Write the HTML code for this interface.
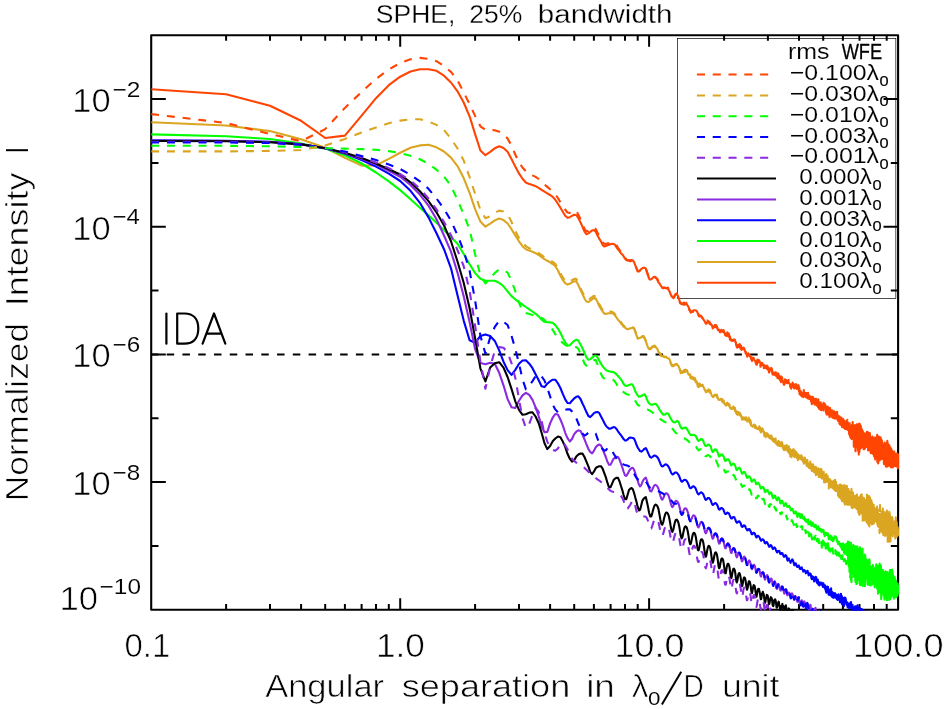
<!DOCTYPE html>
<html><head><meta charset="utf-8"><title>SPHE, 25% bandwidth</title>
<style>html,body{margin:0;padding:0;background:#fff;}svg{display:block;}</style>
</head><body>
<svg width="945" height="709" viewBox="0 0 945 709">
<rect width="945" height="709" fill="#fff"/>
<rect x="677.5" y="38.4" width="218.35000000000002" height="259.95000000000005" fill="#fff" stroke="#000" stroke-width="0.7"/>
<g opacity="0.999">
<text x="788.05" y="59.2" font-size="21.5" textLength="41.52" lengthAdjust="spacingAndGlyphs" font-family="Liberation Sans, sans-serif" fill="#000" stroke="#fff" stroke-width="0.12">rms</text>
<text x="841.65" y="59.2" font-size="21.5" textLength="40.56" lengthAdjust="spacingAndGlyphs" font-family="Liberation Sans, sans-serif" fill="#000" stroke="#000" stroke-width="0.3">WFE</text>
<line x1="696.9" y1="74.6" x2="768.5" y2="74.6" stroke="#FF4500" stroke-width="2" stroke-dasharray="8.1 7.7"/>
<text x="789.82" y="80.1" font-size="22.3" textLength="89.23" lengthAdjust="spacingAndGlyphs" font-family="Liberation Sans, sans-serif" fill="#000" stroke="#fff" stroke-width="0.12">−0.100λ</text>
<text x="879.54" y="85.5" font-size="14.6" textLength="9.13" lengthAdjust="spacingAndGlyphs" font-family="Liberation Sans, sans-serif" fill="#000" stroke="#000" stroke-width="0.2">0</text>
<line x1="696.9" y1="95.4" x2="768.5" y2="95.4" stroke="#DAA520" stroke-width="2" stroke-dasharray="8.1 7.7"/>
<text x="789.82" y="100.9" font-size="22.3" textLength="89.23" lengthAdjust="spacingAndGlyphs" font-family="Liberation Sans, sans-serif" fill="#000" stroke="#fff" stroke-width="0.12">−0.030λ</text>
<text x="879.54" y="106.3" font-size="14.6" textLength="9.13" lengthAdjust="spacingAndGlyphs" font-family="Liberation Sans, sans-serif" fill="#000" stroke="#000" stroke-width="0.2">0</text>
<line x1="696.9" y1="116.2" x2="768.5" y2="116.2" stroke="#00FF00" stroke-width="2" stroke-dasharray="8.1 7.7"/>
<text x="789.82" y="121.7" font-size="22.3" textLength="89.23" lengthAdjust="spacingAndGlyphs" font-family="Liberation Sans, sans-serif" fill="#000" stroke="#fff" stroke-width="0.12">−0.010λ</text>
<text x="879.54" y="127.1" font-size="14.6" textLength="9.13" lengthAdjust="spacingAndGlyphs" font-family="Liberation Sans, sans-serif" fill="#000" stroke="#000" stroke-width="0.2">0</text>
<line x1="696.9" y1="137.0" x2="768.5" y2="137.0" stroke="#0000FF" stroke-width="2" stroke-dasharray="8.1 7.7"/>
<text x="789.82" y="142.5" font-size="22.3" textLength="89.23" lengthAdjust="spacingAndGlyphs" font-family="Liberation Sans, sans-serif" fill="#000" stroke="#fff" stroke-width="0.12">−0.003λ</text>
<text x="879.54" y="147.9" font-size="14.6" textLength="9.13" lengthAdjust="spacingAndGlyphs" font-family="Liberation Sans, sans-serif" fill="#000" stroke="#000" stroke-width="0.2">0</text>
<line x1="696.9" y1="157.8" x2="768.5" y2="157.8" stroke="#8A2BE2" stroke-width="2" stroke-dasharray="8.1 7.7"/>
<text x="789.82" y="163.3" font-size="22.3" textLength="89.23" lengthAdjust="spacingAndGlyphs" font-family="Liberation Sans, sans-serif" fill="#000" stroke="#fff" stroke-width="0.12">−0.001λ</text>
<text x="879.54" y="168.7" font-size="14.6" textLength="9.13" lengthAdjust="spacingAndGlyphs" font-family="Liberation Sans, sans-serif" fill="#000" stroke="#000" stroke-width="0.2">0</text>
<line x1="697" y1="178.6" x2="776" y2="178.6" stroke="#000000" stroke-width="2"/>
<text x="799.32" y="184.1" font-size="22.3" textLength="72.63" lengthAdjust="spacingAndGlyphs" font-family="Liberation Sans, sans-serif" fill="#000" stroke="#fff" stroke-width="0.12">0.000λ</text>
<text x="872.44" y="189.5" font-size="14.6" textLength="9.13" lengthAdjust="spacingAndGlyphs" font-family="Liberation Sans, sans-serif" fill="#000" stroke="#000" stroke-width="0.2">0</text>
<line x1="697" y1="199.5" x2="776" y2="199.5" stroke="#8A2BE2" stroke-width="2"/>
<text x="799.32" y="205.0" font-size="22.3" textLength="72.63" lengthAdjust="spacingAndGlyphs" font-family="Liberation Sans, sans-serif" fill="#000" stroke="#fff" stroke-width="0.12">0.001λ</text>
<text x="872.44" y="210.4" font-size="14.6" textLength="9.13" lengthAdjust="spacingAndGlyphs" font-family="Liberation Sans, sans-serif" fill="#000" stroke="#000" stroke-width="0.2">0</text>
<line x1="697" y1="220.3" x2="776" y2="220.3" stroke="#0000FF" stroke-width="2"/>
<text x="799.32" y="225.8" font-size="22.3" textLength="72.63" lengthAdjust="spacingAndGlyphs" font-family="Liberation Sans, sans-serif" fill="#000" stroke="#fff" stroke-width="0.12">0.003λ</text>
<text x="872.44" y="231.2" font-size="14.6" textLength="9.13" lengthAdjust="spacingAndGlyphs" font-family="Liberation Sans, sans-serif" fill="#000" stroke="#000" stroke-width="0.2">0</text>
<line x1="697" y1="241.1" x2="776" y2="241.1" stroke="#00FF00" stroke-width="2"/>
<text x="799.32" y="246.6" font-size="22.3" textLength="72.63" lengthAdjust="spacingAndGlyphs" font-family="Liberation Sans, sans-serif" fill="#000" stroke="#fff" stroke-width="0.12">0.010λ</text>
<text x="872.44" y="252.0" font-size="14.6" textLength="9.13" lengthAdjust="spacingAndGlyphs" font-family="Liberation Sans, sans-serif" fill="#000" stroke="#000" stroke-width="0.2">0</text>
<line x1="697" y1="261.9" x2="776" y2="261.9" stroke="#DAA520" stroke-width="2"/>
<text x="799.32" y="267.4" font-size="22.3" textLength="72.63" lengthAdjust="spacingAndGlyphs" font-family="Liberation Sans, sans-serif" fill="#000" stroke="#fff" stroke-width="0.12">0.030λ</text>
<text x="872.44" y="272.8" font-size="14.6" textLength="9.13" lengthAdjust="spacingAndGlyphs" font-family="Liberation Sans, sans-serif" fill="#000" stroke="#000" stroke-width="0.2">0</text>
<line x1="697" y1="282.7" x2="776" y2="282.7" stroke="#FF4500" stroke-width="2"/>
<text x="799.32" y="288.2" font-size="22.3" textLength="72.63" lengthAdjust="spacingAndGlyphs" font-family="Liberation Sans, sans-serif" fill="#000" stroke="#fff" stroke-width="0.12">0.100λ</text>
<text x="872.44" y="293.6" font-size="14.6" textLength="9.13" lengthAdjust="spacingAndGlyphs" font-family="Liberation Sans, sans-serif" fill="#000" stroke="#000" stroke-width="0.2">0</text>
<g stroke="#000" stroke-width="2.1" fill="none" stroke-linejoin="round">
<rect x="151.2" y="35.2" width="746.90" height="574.50"/>
</g>
<g stroke="#000" stroke-width="2" fill="none">
<path d="M226.1,609.7v-5.6M226.1,35.2v5.6"/>
<path d="M270.0,609.7v-5.6M270.0,35.2v5.6"/>
<path d="M301.1,609.7v-5.6M301.1,35.2v5.6"/>
<path d="M325.2,609.7v-5.6M325.2,35.2v5.6"/>
<path d="M344.9,609.7v-5.6M344.9,35.2v5.6"/>
<path d="M361.6,609.7v-5.6M361.6,35.2v5.6"/>
<path d="M376.0,609.7v-5.6M376.0,35.2v5.6"/>
<path d="M388.8,609.7v-5.6M388.8,35.2v5.6"/>
<path d="M400.2,609.7v-11.5M400.2,35.2v11.5"/>
<path d="M475.1,609.7v-5.6M475.1,35.2v5.6"/>
<path d="M519.0,609.7v-5.6M519.0,35.2v5.6"/>
<path d="M550.1,609.7v-5.6M550.1,35.2v5.6"/>
<path d="M574.2,609.7v-5.6M574.2,35.2v5.6"/>
<path d="M593.9,609.7v-5.6M593.9,35.2v5.6"/>
<path d="M610.6,609.7v-5.6M610.6,35.2v5.6"/>
<path d="M625.0,609.7v-5.6M625.0,35.2v5.6"/>
<path d="M637.7,609.7v-5.6M637.7,35.2v5.6"/>
<path d="M649.1,609.7v-11.5M649.1,35.2v11.5"/>
<path d="M724.1,609.7v-5.6M724.1,35.2v5.6"/>
<path d="M767.9,609.7v-5.6M767.9,35.2v5.6"/>
<path d="M799.0,609.7v-5.6M799.0,35.2v5.6"/>
<path d="M823.2,609.7v-5.6M823.2,35.2v5.6"/>
<path d="M842.9,609.7v-5.6M842.9,35.2v5.6"/>
<path d="M859.5,609.7v-5.6M859.5,35.2v5.6"/>
<path d="M874.0,609.7v-5.6M874.0,35.2v5.6"/>
<path d="M886.7,609.7v-5.6M886.7,35.2v5.6"/>
<path d="M151.2,545.9h7.3M898.1,545.9h-7.3"/>
<path d="M151.2,482.0h14.6M898.1,482.0h-14.6"/>
<path d="M151.2,418.2h7.3M898.1,418.2h-7.3"/>
<path d="M151.2,354.4h14.6M898.1,354.4h-14.6"/>
<path d="M151.2,290.5h7.3M898.1,290.5h-7.3"/>
<path d="M151.2,226.7h14.6M898.1,226.7h-14.6"/>
<path d="M151.2,162.9h7.3M898.1,162.9h-7.3"/>
<path d="M151.2,99.0h14.6M898.1,99.0h-14.6"/>
</g>
<line x1="150.9" y1="354.4" x2="898.1" y2="354.4" stroke="#000" stroke-width="2" stroke-dasharray="7.5 8.27"/>
<clipPath id="cp"><rect x="151.2" y="34.150000000000006" width="748.00" height="576.60"/></clipPath>
<g clip-path="url(#cp)" fill="none" stroke-width="2.1" stroke-linejoin="round" stroke-linecap="butt">
<polyline stroke="#FF4500" points="151.2,89.2 226.1,94.3 270.0,105.7 301.1,120.8 325.2,138.0 344.9,135.6 361.6,115.6 376.0,98.2 388.8,85.2 400.2,76.7 410.5,71.5 419.9,69.2 428.5,69.2 436.5,70.8 444.0,75.7 451.0,82.5 457.5,91.3 463.7,102.5 469.6,116.3 475.1,134.1 480.4,150.5 485.4,155.2 490.2,151.9 494.8,148.3 499.2,146.2 503.5,147.9 507.6,151.8 511.5,159.1 515.3,166.6 519.0,173.4 522.5,178.8 525.9,182.5 529.3,184.1 532.5,185.1 535.6,186.2 538.7,187.9 541.6,189.8 544.5,191.7 547.3,193.3 550.1,195.0 552.7,196.9 555.3,199.7 557.9,203.8 560.4,207.8 562.8,211.8 565.2,215.7 567.5,217.8 569.8,217.2 572.0,215.9 574.2,214.8 576.3,215.0 578.4,218.2 580.5,222.4 582.5,226.8 584.5,231.7 586.4,234.2 588.4,233.4 590.2,232.0 592.1,230.4 593.9,230.0 595.7,231.6 597.4,235.3 599.2,238.6 600.9,241.3 602.6,244.9 604.2,246.4 605.8,246.0 607.4,245.3 609.0,244.8 610.6,244.1 612.1,243.9 613.6,244.0 615.1,244.9 616.6,247.4 618.0,249.4 619.5,251.1 620.9,253.2 622.3,254.5 623.6,256.2 625.0,258.6 626.3,260.2 627.7,260.2 629.0,260.7 630.3,261.3 631.6,260.5 632.8,260.4 634.1,262.2 635.3,265.3 636.5,268.3 637.7,271.3 638.9,271.4 640.1,270.4 641.3,269.0 642.4,268.3 643.6,267.7 644.7,267.8 645.8,268.4 646.9,272.3 648.0,275.0 649.1,278.6 650.2,279.6 651.3,279.3 652.3,278.4 653.4,277.1 654.4,277.3 655.4,277.4 656.4,277.9 657.5,280.2 658.5,282.4 659.4,283.3 660.4,285.0 661.4,286.4 662.3,288.0 663.3,288.4 664.2,287.4 665.2,287.8 666.1,288.3 667.0,288.1 667.9,288.7 668.8,290.1 669.7,291.7 670.6,294.3 671.5,296.2 672.4,296.9 673.3,298.1 674.1,297.4 675.0,295.6 675.8,294.1 676.7,294.1 677.5,295.2 678.3,296.7 679.2,299.4 680.0,302.9 680.8,303.2 681.6,304.0 682.4,304.3 683.2,304.5 684.0,304.8 684.7,304.5 685.5,304.3 686.3,302.8 687.0,304.6 687.8,305.8 688.6,307.0 689.3,310.1 690.1,310.4 690.8,312.7 691.5,312.1 692.3,311.2 693.0,311.1 693.7,310.3 694.4,310.3 695.1,310.3 695.8,310.5 696.5,310.9 697.2,311.8 697.9,313.7 698.6,314.7 699.3,315.4 700.0,315.8 700.6,315.9 701.3,316.7 702.0,317.2 702.6,318.5 703.3,319.1 703.9,320.3 704.6,321.1 705.2,322.4 705.9,323.7 706.5,323.7 707.1,322.1 707.8,321.7 708.4,322.2 709.0,321.8 709.6,323.9 710.3,324.2 710.9,324.4 711.5,324.8 712.1,325.7 712.7,328.4 713.3,327.6 713.9,327.5 714.5,325.7 715.1,325.1 715.7,325.4 716.2,327.4 716.8,326.9 717.4,328.4 718.0,330.1 718.5,329.6 719.1,329.8 719.7,332.0 720.2,332.3 720.8,331.7 721.3,329.8 721.9,330.3 722.4,330.9 723.0,331.9 723.5,330.0 724.1,332.0 724.6,333.2 725.2,335.2 725.7,334.5 726.2,335.9 726.7,335.5 727.3,332.4 727.8,333.5 728.3,336.5 728.8,333.6 729.4,336.2 729.9,339.2 730.4,340.0 730.9,339.1 731.4,340.8 731.9,339.9 732.4,340.0 732.9,340.9 733.4,339.5 733.9,339.6 734.4,339.4 734.9,340.0 735.4,342.3 735.8,341.9 736.3,345.5 736.8,346.9 737.3,347.7 737.8,346.2 738.2,345.0 738.7,344.8 739.2,347.0 739.7,344.1 740.1,345.5 740.6,348.8 741.1,345.9 741.5,349.9 742.0,347.8 742.4,349.2 742.9,347.9 743.3,347.6 743.8,347.8 744.2,348.3 744.7,350.7 745.1,350.7 745.6,353.2 746.0,352.4 746.5,353.4 746.9,356.0 747.3,356.6 747.8,355.2 748.2,355.0 748.6,354.3 749.1,354.2 749.5,355.4 749.9,356.2 750.3,356.8 750.8,356.4 751.2,359.3 751.6,359.1 752.0,360.2 752.4,359.1 752.9,358.1 753.3,359.1 753.7,358.0 754.1,359.9 754.5,360.4 754.9,360.5 755.3,361.2 755.7,362.9 756.1,362.8 756.5,364.7 756.9,364.7 757.3,363.5 757.7,361.4 758.1,362.3 758.5,361.8 758.9,360.0 759.3,360.7 759.7,362.1 760.1,362.0 760.5,364.3 760.8,365.6 761.2,364.0 761.6,364.9 762.0,362.8 762.4,363.4 762.8,365.0 763.1,364.6 763.5,365.0 763.9,366.5 764.3,365.5 764.6,366.0 765.0,367.1 765.4,368.0 765.7,367.7 766.1,368.1 766.5,368.1 766.8,366.6 767.2,367.5 767.6,367.8 767.9,367.5 768.3,368.1 768.6,370.7 769.0,370.0 769.4,371.0 769.7,369.8 770.1,368.5 770.4,368.2 770.8,368.3 771.1,369.6 771.5,368.1 771.8,368.8 772.2,371.0 772.5,372.4 772.9,373.6 773.2,373.5 773.5,373.4 773.9,374.5 774.2,373.4 774.6,373.0 774.9,372.6 775.2,372.7 775.6,373.1 775.9,375.4 776.2,376.0 776.6,375.1 776.9,376.5 777.2,374.2 777.6,376.3 777.9,373.3 778.2,373.4 778.6,374.7 778.9,376.2 779.2,377.2 779.5,376.0 779.9,376.7 780.2,380.4 780.5,380.4 780.8,381.6 781.1,382.1 781.5,380.5 781.8,380.5 782.1,381.2 782.4,381.4 782.7,381.4 783.0,381.1 783.3,382.4 783.7,384.3 784.0,384.8 784.3,382.8 784.6,383.9 784.9,382.8 785.2,381.0 785.5,380.2 785.8,379.9 786.1,380.1 786.4,380.4 786.7,382.6 787.0,381.0 787.3,383.0 787.6,382.0 787.9,380.5 788.2,382.4 788.5,382.9 788.8,383.2 789.1,382.9 789.4,383.5 789.7,383.7 790.0,384.0 790.3,387.1 790.6,384.6 790.9,387.6 791.2,385.0 791.5,385.3 791.8,384.4 792.0,384.1 792.3,384.2 792.6,382.6 792.9,383.3 793.2,383.4 793.5,383.8 793.8,388.0 794.0,386.2 794.3,385.3 794.6,386.0 794.9,385.7 795.2,386.6 795.5,384.7 795.7,386.6 796.0,384.3 796.3,387.0 796.6,385.4 796.8,388.2 797.1,388.6 797.4,387.5 797.7,388.1 797.9,385.4 798.2,388.5 798.5,385.2 798.8,388.7 799.0,389.4 799.3,387.5 799.6,394.2 799.8,393.2 800.1,394.5 800.4,393.5 800.6,395.1 800.9,391.3 801.2,394.3 801.4,393.7 801.7,396.4 802.0,395.3 802.2,394.0 802.5,393.3 802.7,395.6 803.0,396.3 803.3,397.1 803.5,396.0 803.8,390.0 804.0,394.7 804.3,392.8 804.6,395.2 804.8,392.6 805.1,393.5 805.3,396.6 805.6,395.1 805.8,393.5 806.1,397.3 806.3,393.0 806.6,395.1 806.8,397.6 807.1,395.8 807.3,393.0 807.6,394.2 807.8,398.4 808.1,392.7 808.3,398.3 808.6,395.1 808.8,395.9 809.1,399.0 809.3,395.6 809.6,396.9 809.8,396.9 810.1,398.6 810.3,397.7 810.6,397.8 810.8,398.6 811.0,401.2 811.3,402.0 811.5,398.2 811.8,404.1 812.0,397.7 812.2,403.5 812.5,397.4 812.7,396.9 813.0,401.3 813.2,403.2 813.4,401.8 813.7,402.0 813.9,398.9 814.1,399.6 814.4,399.5 814.6,398.8 814.8,404.7 815.1,401.1 815.3,400.5 815.5,399.7 815.8,401.1 816.0,398.7 816.2,399.2 816.5,404.9 816.7,400.7 816.9,399.9 817.2,402.2 817.4,406.2 817.6,402.2 817.8,405.1 818.1,407.3 818.3,399.3 818.5,400.5 818.7,406.2 819.0,408.7 819.2,405.9 819.4,402.6 819.6,402.8 819.9,402.8 820.1,403.4 820.3,409.4 820.5,409.9 820.7,402.4 821.0,409.1 821.2,408.4 821.4,408.1 821.6,410.1 821.8,404.7 822.1,407.5 822.3,405.7 822.5,408.2 822.7,404.5 822.9,406.2 823.2,404.2 823.4,406.2 823.6,402.7 823.8,406.5 824.0,406.1 824.2,403.3 824.4,407.1 824.7,404.1 824.9,408.0 825.1,407.1 825.3,404.5 825.5,407.3 825.7,406.1 825.9,411.3 826.1,408.7 826.3,406.8 826.6,414.4 826.8,414.6 827.0,409.8 827.2,409.3 827.4,407.3 827.6,409.1 827.8,406.6 828.0,414.4 828.2,412.7 828.4,411.8 828.6,410.9 828.8,409.8 829.0,412.6 829.2,411.3 829.5,417.1 829.7,409.1 829.9,411.7 830.1,408.1 830.3,413.2 830.5,413.5 830.7,410.1 830.9,415.4 831.1,411.3 831.3,415.0 831.5,413.9 831.7,412.8 831.9,411.5 832.1,411.1 832.3,410.4 832.5,413.5 832.7,416.4 832.9,417.1 833.1,415.4 833.3,413.8 833.5,416.6 833.7,413.7 833.9,416.9 834.0,418.2 834.2,411.4 834.4,415.9 834.6,413.6 834.8,416.9 835.0,418.6 835.2,413.6 835.4,412.8 835.6,417.4 835.8,413.6 836.0,417.4 836.2,416.7 836.4,412.5 836.6,415.0 836.8,415.6 836.9,413.2 837.1,415.9 837.3,417.6 837.5,414.9 837.7,416.4 837.9,420.7 838.1,417.7 838.3,417.2 838.5,418.5 838.6,418.0 838.8,420.1 839.0,416.7 839.2,417.0 839.4,417.3 839.6,416.4 839.8,418.0 839.9,421.0 840.1,418.4 840.3,417.7 840.5,422.2 840.7,422.5 840.9,417.7 841.0,419.1 841.2,422.6 841.4,417.6 841.6,422.0 841.8,425.9 842.0,426.2 842.1,427.0 842.3,419.9 842.5,425.3 842.7,427.3 842.9,424.4 843.0,421.2 843.2,419.0 843.4,426.1 843.6,421.2 843.8,424.6 843.9,424.8 844.1,426.8 844.3,428.0 844.5,423.9 844.7,420.9 844.8,425.1 845.0,428.9 845.2,424.4 845.4,427.8 845.5,424.9 845.7,428.3 845.9,423.9 846.1,425.5 846.2,428.0 846.4,427.0 846.6,427.8 846.8,429.3 846.9,424.3 847.1,429.0 847.3,423.1 847.5,422.1 847.6,424.2 847.8,430.0 848.0,426.6 848.1,429.0 848.3,425.6 848.5,427.8 848.7,425.0 848.8,427.3 849.0,433.2 849.2,433.3 849.3,434.5 849.5,427.6 849.7,435.5 849.8,428.8 850.0,434.5 850.2,427.7 850.4,426.3 850.5,431.5 850.7,433.0 850.9,434.1 851.0,432.4 851.2,437.4 851.4,434.3 851.5,427.7 851.7,439.1 851.9,425.8 852.0,432.6 852.2,429.0 852.4,433.6 852.5,431.8 852.7,429.7 852.8,438.3 853.0,428.2 853.2,434.0 853.3,431.4 853.5,431.9 853.7,435.3 853.8,446.7 854.0,425.2 854.2,440.1 854.3,446.6 854.5,436.1 854.6,446.4 854.8,440.7 855.0,429.3 855.1,446.4 855.3,425.7 855.4,451.1 855.6,451.2 855.8,440.1 855.9,435.4 856.1,427.0 856.2,433.0 856.4,443.9 856.6,427.1 856.7,424.3 856.9,429.0 857.0,439.7 857.2,435.6 857.4,437.3 857.5,436.6 857.7,447.9 857.8,432.6 858.0,447.2 858.1,450.6 858.3,424.3 858.4,441.5 858.6,438.0 858.8,454.6 858.9,423.9 859.1,444.7 859.2,430.2 859.4,452.3 859.5,432.0 859.7,423.8 859.8,449.4 860.0,434.8 860.2,435.0 860.3,436.5 860.5,447.8 860.6,436.7 860.8,425.9 860.9,448.1 861.1,443.4 861.2,442.8 861.4,428.4 861.5,443.0 861.7,441.5 861.8,446.0 862.0,437.3 862.1,441.8 862.3,445.4 862.4,436.6 862.6,438.0 862.7,430.8 862.9,432.4 863.0,440.9 863.2,435.1 863.3,433.1 863.5,439.9 863.6,449.2 863.8,435.4 863.9,445.8 864.1,446.4 864.2,446.4 864.4,449.2 864.5,436.9 864.7,443.6 864.8,433.2 865.0,443.6 865.1,439.1 865.3,438.1 865.4,442.3 865.5,439.2 865.7,445.4 865.8,441.3 866.0,447.1 866.1,437.0 866.3,444.0 866.4,436.6 866.6,443.6 866.7,437.5 866.9,431.8 867.0,439.4 867.1,444.7 867.3,436.0 867.4,443.1 867.6,433.4 867.7,443.5 867.9,432.4 868.0,432.4 868.1,441.6 868.3,437.7 868.4,438.7 868.6,444.5 868.7,450.2 868.9,442.0 869.0,445.6 869.1,443.1 869.3,439.6 869.4,444.7 869.6,436.9 869.7,448.4 869.8,438.6 870.0,435.9 870.1,441.9 870.3,439.5 870.4,440.0 870.5,446.9 870.7,443.9 870.8,452.1 871.0,449.8 871.1,442.4 871.2,448.6 871.4,440.6 871.5,439.9 871.7,447.9 871.8,443.3 871.9,439.7 872.1,443.2 872.2,438.5 872.3,442.5 872.5,452.4 872.6,453.7 872.7,449.3 872.9,441.7 873.0,447.7 873.2,444.3 873.3,448.9 873.4,448.9 873.6,447.8 873.7,453.3 873.8,455.3 874.0,454.0 874.1,456.2 874.2,455.1 874.4,439.8 874.5,439.4 874.6,456.8 874.8,437.6 874.9,454.6 875.0,446.6 875.2,442.9 875.3,452.6 875.4,446.9 875.6,444.5 875.7,437.6 875.8,455.6 876.0,447.8 876.1,454.9 876.2,445.4 876.4,443.0 876.5,455.5 876.6,458.7 876.8,456.5 876.9,437.2 877.0,442.7 877.2,434.7 877.3,461.9 877.4,437.6 877.6,443.3 877.7,443.1 877.8,439.8 878.0,438.9 878.1,455.1 878.2,463.5 878.3,453.4 878.5,439.5 878.6,457.7 878.7,453.0 878.9,436.5 879.0,448.3 879.1,447.3 879.2,449.5 879.4,441.9 879.5,453.0 879.6,456.4 879.8,460.4 879.9,458.1 880.0,438.6 880.1,458.5 880.3,454.5 880.4,453.0 880.5,437.4 880.7,437.9 880.8,441.7 880.9,445.0 881.0,440.1 881.2,445.1 881.3,444.3 881.4,458.6 881.5,443.3 881.7,459.2 881.8,443.2 881.9,440.3 882.0,455.5 882.2,450.2 882.3,452.4 882.4,447.8 882.5,452.4 882.7,458.3 882.8,444.3 882.9,447.6 883.0,457.8 883.2,448.7 883.3,455.6 883.4,450.7 883.5,445.7 883.7,454.3 883.8,458.6 883.9,463.9 884.0,450.4 884.2,452.8 884.3,455.2 884.4,456.3 884.5,447.0 884.6,459.8 884.8,451.2 884.9,460.3 885.0,451.0 885.1,452.3 885.3,448.1 885.4,451.0 885.5,461.4 885.6,456.6 885.7,466.2 885.9,459.4 886.0,454.3 886.1,452.4 886.2,466.6 886.3,445.0 886.5,455.0 886.6,464.8 886.7,460.0 886.8,457.6 886.9,455.1 887.1,443.8 887.2,456.0 887.3,440.8 887.4,458.1 887.5,446.1 887.7,446.6 887.8,443.2 887.9,456.7 888.0,450.5 888.1,457.7 888.3,456.8 888.4,455.2 888.5,454.2 888.6,449.8 888.7,444.8 888.8,463.5 889.0,446.0 889.1,465.6 889.2,453.6 889.3,454.0 889.4,445.3 889.6,461.0 889.7,449.7 889.8,447.7 889.9,462.8 890.0,455.4 890.1,460.0 890.3,458.2 890.4,447.5 890.5,463.3 890.6,452.6 890.7,467.3 890.8,466.5 890.9,461.9 891.1,461.9 891.2,448.9 891.3,459.5 891.4,461.9 891.5,449.6 891.6,458.0 891.8,467.3 891.9,450.7 892.0,460.5 892.1,452.0 892.2,456.0 892.3,463.6 892.4,454.5 892.6,460.0 892.7,467.5 892.8,460.9 892.9,460.6 893.0,464.4 893.1,465.0 893.2,451.8 893.3,453.9 893.5,451.6 893.6,464.0 893.7,463.3 893.8,466.2 893.9,463.6 894.0,453.0 894.1,465.7 894.2,451.6 894.4,459.8 894.5,463.5 894.6,465.0 894.7,456.5 894.8,461.4 894.9,454.0 895.0,460.8 895.1,455.0 895.3,458.5 895.4,465.8 895.5,453.9 895.6,456.0 895.7,460.3 895.8,455.8 895.9,466.2 896.0,462.0 896.1,460.0 896.2,463.9 896.4,462.2 896.5,462.4 896.6,457.0 896.7,455.3 896.8,453.6 896.9,455.1 897.0,457.7 897.1,462.3 897.2,466.6 897.3,466.3 897.4,466.9 897.6,459.2 897.7,462.7 897.8,457.9 897.9,455.9 898.0,454.3 898.1,460.9"/>
<polyline stroke="#DAA520" points="151.2,122.2 226.1,125.5 270.0,131.1 301.1,139.3 325.2,147.7 344.9,157.9 361.6,165.6 376.0,165.2 388.8,158.9 400.2,152.8 410.5,147.8 419.9,145.4 428.5,144.8 436.5,147.3 444.0,151.5 451.0,157.6 457.5,166.1 463.7,178.1 469.6,192.9 475.1,209.2 480.4,221.6 485.4,226.7 490.2,223.7 494.8,220.4 499.2,218.5 503.5,220.1 507.6,223.5 511.5,229.2 515.3,235.4 519.0,241.3 522.5,246.2 525.9,249.2 529.3,250.6 532.5,251.8 535.6,253.2 538.7,255.0 541.6,257.1 544.5,259.1 547.3,260.8 550.1,262.3 552.7,264.0 555.3,266.2 557.9,270.3 560.4,275.8 562.8,279.9 565.2,283.2 567.5,284.6 569.8,283.8 572.0,282.4 574.2,281.2 576.3,281.4 578.4,285.1 580.5,290.0 582.5,294.1 584.5,298.5 586.4,301.5 588.4,302.0 590.2,300.8 592.1,299.2 593.9,298.1 595.7,298.4 597.4,301.8 599.2,305.9 600.9,308.7 602.6,311.4 604.2,313.5 605.8,314.0 607.4,313.6 609.0,313.2 610.6,313.2 612.1,313.2 613.6,313.9 615.1,315.6 616.6,317.6 618.0,319.8 619.5,321.3 620.9,323.2 622.3,324.8 623.6,326.6 625.0,327.4 626.3,328.8 627.7,329.1 629.0,328.9 630.3,328.3 631.6,328.3 632.8,327.3 634.1,328.5 635.3,331.7 636.5,335.3 637.7,338.7 638.9,338.1 640.1,338.0 641.3,337.2 642.4,336.3 643.6,335.9 644.7,338.6 645.8,341.0 646.9,344.4 648.0,347.5 649.1,349.1 650.2,349.2 651.3,347.9 652.3,347.0 653.4,346.0 654.4,347.0 655.4,346.7 656.4,347.7 657.5,349.2 658.5,352.1 659.4,352.7 660.4,354.6 661.4,355.8 662.3,355.9 663.3,355.9 664.2,357.1 665.2,357.1 666.1,356.6 667.0,358.0 667.9,358.3 668.8,358.4 669.7,359.6 670.6,362.4 671.5,364.5 672.4,364.9 673.3,365.6 674.1,365.2 675.0,364.3 675.8,364.7 676.7,363.8 677.5,365.1 678.3,365.8 679.2,367.8 680.0,369.4 680.8,373.2 681.6,371.3 682.4,372.8 683.2,372.3 684.0,370.1 684.7,372.2 685.5,369.5 686.3,371.4 687.0,370.1 687.8,372.9 688.6,374.3 689.3,374.7 690.1,374.3 690.8,377.6 691.5,377.1 692.3,376.8 693.0,379.1 693.7,377.5 694.4,380.1 695.1,378.2 695.8,382.2 696.5,381.1 697.2,383.4 697.9,385.6 698.6,386.5 699.3,383.4 700.0,386.0 700.6,384.4 701.3,385.8 702.0,385.0 702.6,384.8 703.3,386.8 703.9,387.6 704.6,389.6 705.2,390.6 705.9,390.5 706.5,391.6 707.1,391.2 707.8,390.9 708.4,389.5 709.0,390.4 709.6,389.8 710.3,391.1 710.9,393.2 711.5,394.7 712.1,396.1 712.7,396.6 713.3,397.1 713.9,395.9 714.5,395.1 715.1,395.0 715.7,395.2 716.2,395.1 716.8,395.9 717.4,397.7 718.0,398.4 718.5,399.7 719.1,399.9 719.7,399.8 720.2,399.1 720.8,398.8 721.3,399.2 721.9,399.8 722.4,399.1 723.0,401.0 723.5,400.5 724.1,403.0 724.6,403.9 725.2,404.2 725.7,405.5 726.2,403.6 726.7,405.2 727.3,404.0 727.8,403.5 728.3,403.8 728.8,403.8 729.4,405.0 729.9,407.7 730.4,408.3 730.9,408.6 731.4,408.9 731.9,407.5 732.4,408.7 732.9,408.6 733.4,407.6 733.9,408.5 734.4,409.1 734.9,408.0 735.4,410.5 735.8,412.6 736.3,411.2 736.8,414.3 737.3,414.7 737.8,411.9 738.2,412.5 738.7,412.4 739.2,413.1 739.7,412.8 740.1,413.5 740.6,414.2 741.1,416.3 741.5,416.5 742.0,419.6 742.4,419.6 742.9,417.3 743.3,418.7 743.8,419.3 744.2,418.5 744.7,418.4 745.1,419.7 745.6,418.2 746.0,419.3 746.5,419.6 746.9,419.8 747.3,421.4 747.8,421.5 748.2,419.3 748.6,417.5 749.1,419.8 749.5,419.4 749.9,420.8 750.3,420.0 750.8,422.3 751.2,425.7 751.6,424.9 752.0,426.0 752.4,426.4 752.9,426.7 753.3,426.4 753.7,426.2 754.1,424.5 754.5,424.9 754.9,427.6 755.3,427.3 755.7,426.8 756.1,426.4 756.5,428.0 756.9,427.9 757.3,429.1 757.7,429.0 758.1,428.2 758.5,428.1 758.9,429.2 759.3,426.2 759.7,430.4 760.1,428.0 760.5,429.1 760.8,432.5 761.2,430.1 761.6,431.2 762.0,428.3 762.4,428.6 762.8,429.3 763.1,430.8 763.5,432.5 763.9,431.4 764.3,435.9 764.6,433.4 765.0,436.1 765.4,436.4 765.7,437.2 766.1,435.6 766.5,433.3 766.8,433.2 767.2,435.4 767.6,433.7 767.9,434.6 768.3,436.9 768.6,436.3 769.0,435.5 769.4,437.9 769.7,435.6 770.1,436.5 770.4,438.6 770.8,436.0 771.1,437.1 771.5,435.6 771.8,437.7 772.2,438.8 772.5,440.4 772.9,438.4 773.2,438.6 773.5,438.6 773.9,439.1 774.2,439.8 774.6,441.5 774.9,442.5 775.2,439.4 775.6,438.5 775.9,443.2 776.2,442.4 776.6,444.3 776.9,444.3 777.2,444.3 777.6,445.4 777.9,443.1 778.2,441.2 778.6,440.9 778.9,445.7 779.2,441.9 779.5,442.3 779.9,445.2 780.2,444.7 780.5,446.2 780.8,445.9 781.1,444.4 781.5,442.0 781.8,445.7 782.1,442.4 782.4,443.9 782.7,447.0 783.0,447.9 783.3,447.1 783.7,449.7 784.0,449.5 784.3,448.6 784.6,448.2 784.9,445.9 785.2,447.2 785.5,446.8 785.8,446.9 786.1,446.0 786.4,449.6 786.7,445.1 787.0,446.3 787.3,450.4 787.6,449.1 787.9,451.7 788.2,448.1 788.5,451.4 788.8,446.2 789.1,452.8 789.4,453.3 789.7,454.2 790.0,449.1 790.3,456.4 790.6,455.6 790.9,455.0 791.2,453.7 791.5,457.2 791.8,450.4 792.0,455.1 792.3,450.3 792.6,451.7 792.9,451.7 793.2,454.4 793.5,449.1 793.8,456.2 794.0,451.2 794.3,456.8 794.6,457.1 794.9,455.9 795.2,450.9 795.5,453.1 795.7,455.0 796.0,452.1 796.3,457.0 796.6,452.6 796.8,457.9 797.1,457.9 797.4,456.3 797.7,458.8 797.9,460.1 798.2,459.1 798.5,458.7 798.8,458.7 799.0,457.4 799.3,457.0 799.6,455.6 799.8,455.6 800.1,458.0 800.4,459.0 800.6,457.1 800.9,458.0 801.2,458.5 801.4,455.2 801.7,458.7 802.0,460.2 802.2,460.4 802.5,457.4 802.7,459.9 803.0,461.4 803.3,461.3 803.5,460.0 803.8,463.6 804.0,463.4 804.3,458.3 804.6,458.9 804.8,457.6 805.1,460.7 805.3,462.8 805.6,461.1 805.8,461.3 806.1,462.6 806.3,462.9 806.6,465.8 806.8,460.0 807.1,461.4 807.3,459.9 807.6,463.3 807.8,465.1 808.1,465.8 808.3,466.9 808.6,463.9 808.8,465.3 809.1,467.3 809.3,466.5 809.6,463.4 809.8,465.6 810.1,466.9 810.3,461.5 810.6,466.0 810.8,464.4 811.0,464.9 811.3,469.7 811.5,466.3 811.8,470.9 812.0,468.7 812.2,467.7 812.5,470.5 812.7,465.2 813.0,464.4 813.2,464.6 813.4,471.0 813.7,470.5 813.9,471.2 814.1,472.2 814.4,472.4 814.6,467.9 814.8,469.9 815.1,469.4 815.3,469.8 815.5,470.3 815.8,466.8 816.0,472.5 816.2,470.5 816.5,469.5 816.7,473.7 816.9,469.5 817.2,469.2 817.4,473.8 817.6,470.2 817.8,471.8 818.1,468.3 818.3,472.4 818.5,469.8 818.7,471.9 819.0,472.0 819.2,471.4 819.4,472.8 819.6,476.5 819.9,474.8 820.1,475.2 820.3,468.9 820.5,470.7 820.7,470.4 821.0,469.1 821.2,474.8 821.4,469.4 821.6,471.4 821.8,474.4 822.1,478.2 822.3,471.6 822.5,477.2 822.7,473.9 822.9,476.1 823.2,473.1 823.4,477.5 823.6,476.1 823.8,478.3 824.0,480.8 824.2,482.5 824.4,480.6 824.7,477.1 824.9,479.4 825.1,478.5 825.3,481.8 825.5,482.2 825.7,481.1 825.9,480.4 826.1,478.9 826.3,480.2 826.6,481.2 826.8,481.3 827.0,478.1 827.2,480.6 827.4,478.2 827.6,479.1 827.8,478.8 828.0,478.0 828.2,478.9 828.4,478.8 828.6,480.3 828.8,478.7 829.0,478.9 829.2,479.2 829.5,480.2 829.7,482.5 829.9,479.4 830.1,483.6 830.3,479.8 830.5,482.3 830.7,483.2 830.9,481.3 831.1,482.2 831.3,485.6 831.5,486.9 831.7,483.2 831.9,481.4 832.1,482.3 832.3,482.8 832.5,482.7 832.7,481.6 832.9,488.5 833.1,481.4 833.3,488.1 833.5,488.4 833.7,484.5 833.9,482.7 834.0,485.2 834.2,481.5 834.4,480.3 834.6,490.2 834.8,479.8 835.0,479.8 835.2,480.9 835.4,488.3 835.6,490.6 835.8,491.1 836.0,481.9 836.2,488.0 836.4,487.4 836.6,490.5 836.8,490.0 836.9,486.0 837.1,487.4 837.3,485.4 837.5,490.3 837.7,491.4 837.9,489.8 838.1,495.6 838.3,492.7 838.5,493.7 838.6,487.8 838.8,493.2 839.0,487.5 839.2,497.5 839.4,488.9 839.6,495.0 839.8,485.3 839.9,487.9 840.1,485.5 840.3,489.0 840.5,487.8 840.7,484.6 840.9,491.7 841.0,486.5 841.2,499.2 841.4,498.8 841.6,499.2 841.8,493.4 842.0,501.2 842.1,488.5 842.3,489.0 842.5,489.0 842.7,499.1 842.9,486.5 843.0,490.6 843.2,492.5 843.4,490.7 843.6,496.3 843.8,489.9 843.9,495.7 844.1,499.0 844.3,502.8 844.5,488.7 844.7,485.4 844.8,504.6 845.0,493.9 845.2,504.1 845.4,503.4 845.5,492.9 845.7,492.5 845.9,494.0 846.1,495.0 846.2,497.9 846.4,490.5 846.6,504.3 846.8,485.9 846.9,487.5 847.1,496.8 847.3,501.4 847.5,503.6 847.6,494.8 847.8,502.3 848.0,499.0 848.1,490.5 848.3,503.0 848.5,489.0 848.7,494.8 848.8,501.3 849.0,499.2 849.2,503.3 849.3,491.7 849.5,498.4 849.7,494.9 849.8,494.5 850.0,495.7 850.2,505.0 850.4,502.5 850.5,496.6 850.7,496.2 850.9,499.2 851.0,498.0 851.2,496.6 851.4,505.2 851.5,504.2 851.7,497.6 851.9,499.9 852.0,499.2 852.2,502.9 852.4,500.6 852.5,508.2 852.7,506.1 852.8,499.2 853.0,498.7 853.2,503.7 853.3,501.4 853.5,500.5 853.7,506.2 853.8,506.9 854.0,506.0 854.2,502.4 854.3,498.8 854.5,505.7 854.6,499.3 854.8,498.1 855.0,499.3 855.1,504.8 855.3,507.4 855.4,496.6 855.6,503.2 855.8,504.1 855.9,500.7 856.1,502.2 856.2,500.8 856.4,500.3 856.6,496.0 856.7,502.6 856.9,501.2 857.0,505.2 857.2,501.9 857.4,500.1 857.5,501.1 857.7,507.2 857.8,502.8 858.0,505.1 858.1,500.9 858.3,501.8 858.4,503.8 858.6,503.9 858.8,498.3 858.9,497.8 859.1,498.1 859.2,501.6 859.4,504.7 859.5,501.7 859.7,508.3 859.8,508.3 860.0,509.1 860.2,501.3 860.3,496.2 860.5,503.6 860.6,506.1 860.8,495.1 860.9,506.2 861.1,497.1 861.2,499.4 861.4,495.2 861.5,498.0 861.7,494.4 861.8,497.7 862.0,509.1 862.1,499.9 862.3,504.0 862.4,498.5 862.6,502.9 862.7,520.8 862.9,511.1 863.0,505.5 863.2,511.9 863.3,503.2 863.5,514.6 863.6,514.6 863.8,498.3 863.9,513.3 864.1,513.1 864.2,511.2 864.4,520.4 864.5,506.3 864.7,513.9 864.8,502.2 865.0,500.4 865.1,505.2 865.3,502.1 865.4,506.6 865.5,511.9 865.7,507.1 865.8,511.6 866.0,507.4 866.1,509.0 866.3,506.2 866.4,513.4 866.6,502.7 866.7,520.8 866.9,515.9 867.0,507.4 867.1,508.7 867.3,520.1 867.4,519.2 867.6,514.2 867.7,497.7 867.9,523.7 868.0,520.5 868.1,504.9 868.3,504.0 868.4,518.7 868.6,496.0 868.7,525.2 868.9,517.8 869.0,496.0 869.1,514.5 869.3,501.0 869.4,526.4 869.6,523.6 869.7,517.0 869.8,500.5 870.0,503.2 870.1,497.6 870.3,523.2 870.4,509.6 870.5,516.6 870.7,514.9 870.8,503.5 871.0,501.3 871.1,516.6 871.2,520.5 871.4,505.7 871.5,508.7 871.7,519.0 871.8,515.4 871.9,512.1 872.1,521.2 872.2,519.1 872.3,511.3 872.5,510.2 872.6,514.4 872.7,513.0 872.9,514.7 873.0,509.7 873.2,508.6 873.3,519.4 873.4,520.3 873.6,512.9 873.7,511.0 873.8,511.9 874.0,518.4 874.1,517.3 874.2,509.1 874.4,513.6 874.5,508.4 874.6,508.0 874.8,517.8 874.9,509.2 875.0,508.7 875.2,513.7 875.3,519.9 875.4,520.6 875.6,510.5 875.7,515.5 875.8,517.4 876.0,510.4 876.1,509.5 876.2,519.2 876.4,510.6 876.5,511.6 876.6,509.1 876.8,519.2 876.9,515.7 877.0,516.7 877.2,514.8 877.3,524.0 877.4,513.0 877.6,523.6 877.7,524.8 877.8,526.0 878.0,520.1 878.1,515.4 878.2,525.2 878.3,521.2 878.5,514.6 878.6,517.9 878.7,518.7 878.9,518.4 879.0,525.2 879.1,517.8 879.2,514.5 879.4,527.1 879.5,514.1 879.6,514.5 879.8,518.0 879.9,522.4 880.0,528.1 880.1,526.6 880.3,516.4 880.4,528.1 880.5,519.5 880.7,522.0 880.8,523.0 880.9,523.8 881.0,530.2 881.2,528.8 881.3,525.4 881.4,528.1 881.5,524.7 881.7,518.8 881.8,512.6 881.9,521.7 882.0,531.0 882.2,514.3 882.3,514.7 882.4,531.2 882.5,516.9 882.7,512.3 882.8,520.3 882.9,521.8 883.0,527.8 883.2,522.8 883.3,535.1 883.4,513.6 883.5,516.6 883.7,525.6 883.8,526.6 883.9,511.9 884.0,525.7 884.2,525.7 884.3,531.0 884.4,527.7 884.5,533.8 884.6,516.4 884.8,516.4 884.9,518.6 885.0,525.3 885.1,514.7 885.3,519.4 885.4,532.0 885.5,518.6 885.6,527.6 885.7,514.8 885.9,516.5 886.0,516.4 886.1,534.8 886.2,512.1 886.3,526.3 886.5,524.6 886.6,513.3 886.7,526.5 886.8,514.3 886.9,510.6 887.1,522.1 887.2,522.0 887.3,520.5 887.4,515.2 887.5,532.5 887.7,541.7 887.8,538.9 887.9,524.5 888.0,536.2 888.1,514.5 888.3,541.7 888.4,525.3 888.5,526.8 888.6,541.3 888.7,531.8 888.8,525.3 889.0,514.0 889.1,527.0 889.2,511.8 889.3,538.8 889.4,534.4 889.6,512.6 889.7,521.0 889.8,525.5 889.9,541.7 890.0,514.7 890.1,521.7 890.3,525.5 890.4,537.0 890.5,541.3 890.6,531.2 890.7,529.7 890.8,518.8 890.9,531.7 891.1,522.3 891.2,524.5 891.3,526.2 891.4,520.5 891.5,523.6 891.6,533.4 891.8,517.4 891.9,534.3 892.0,517.7 892.1,534.5 892.2,526.9 892.3,525.4 892.4,517.4 892.6,523.4 892.7,529.8 892.8,525.9 892.9,531.1 893.0,532.1 893.1,526.7 893.2,530.5 893.3,523.9 893.5,534.0 893.6,522.0 893.7,527.7 893.8,524.2 893.9,523.3 894.0,525.9 894.1,530.4 894.2,525.7 894.4,526.0 894.5,528.0 894.6,530.4 894.7,524.1 894.8,526.0 894.9,522.7 895.0,521.6 895.1,534.4 895.3,538.4 895.4,527.1 895.5,531.3 895.6,523.9 895.7,529.7 895.8,517.3 895.9,529.2 896.0,537.3 896.1,520.8 896.2,535.5 896.4,526.6 896.5,524.8 896.6,527.9 896.7,522.0 896.8,525.5 896.9,534.8 897.0,535.9 897.1,536.4 897.2,532.6 897.3,535.4 897.4,526.7 897.6,530.6 897.7,527.4 897.8,530.0 897.9,531.9 898.0,535.2 898.1,529.5"/>
<polyline stroke="#00FF00" points="151.2,134.4 226.1,136.2 270.0,139.0 301.1,143.6 325.2,148.6 344.9,155.3 361.6,163.5 376.0,172.5 388.8,181.3 400.2,190.1 410.5,199.2 419.9,207.7 428.5,215.4 436.5,222.8 444.0,230.3 451.0,237.0 457.5,243.8 463.7,254.0 469.6,264.2 475.1,273.1 480.4,278.8 485.4,280.8 490.2,280.8 494.8,280.8 499.2,282.9 503.5,286.3 507.6,291.3 511.5,296.1 515.3,299.3 519.0,302.1 522.5,304.7 525.9,307.0 529.3,309.3 532.5,311.5 535.6,313.8 538.7,316.4 541.6,319.6 544.5,321.8 547.3,322.2 550.1,322.4 552.7,322.8 555.3,325.1 557.9,328.6 560.4,332.7 562.8,337.9 565.2,342.3 567.5,345.7 569.8,345.3 572.0,342.9 574.2,340.8 576.3,339.6 578.4,340.7 580.5,344.4 582.5,348.5 584.5,352.7 586.4,357.3 588.4,359.8 590.2,359.2 592.1,357.6 593.9,356.1 595.7,355.6 597.4,357.3 599.2,360.4 600.9,363.7 602.6,366.1 604.2,368.1 605.8,369.8 607.4,370.8 609.0,371.3 610.6,371.6 612.1,371.9 613.6,372.3 615.1,373.1 616.6,374.4 618.0,376.0 619.5,377.7 620.9,379.4 622.3,381.5 623.6,383.9 625.0,385.6 626.3,385.9 627.7,385.6 629.0,385.1 630.3,384.5 631.6,384.2 632.8,385.1 634.1,388.2 635.3,391.3 636.5,393.6 637.7,395.4 638.9,396.7 640.1,396.6 641.3,396.0 642.4,395.3 643.6,394.6 644.7,394.4 645.8,396.2 646.9,399.2 648.0,401.9 649.1,403.2 650.2,404.1 651.3,404.8 652.3,404.7 653.4,404.3 654.4,404.0 655.4,403.7 656.4,404.2 657.5,406.0 658.5,407.4 659.4,409.5 660.4,410.9 661.4,412.4 662.3,413.5 663.3,414.8 664.2,414.7 665.2,414.5 666.1,413.7 667.0,413.2 667.9,413.4 668.8,414.3 669.7,416.5 670.6,418.4 671.5,419.8 672.4,421.0 673.3,422.1 674.1,422.3 675.0,422.4 675.8,421.9 676.7,421.0 677.5,420.9 678.3,421.9 679.2,423.3 680.0,425.7 680.8,427.4 681.6,428.5 682.4,428.7 683.2,427.9 684.0,427.9 684.7,427.8 685.5,427.5 686.3,428.0 687.0,429.1 687.8,430.4 688.6,431.8 689.3,433.3 690.1,434.4 690.8,435.1 691.5,434.7 692.3,435.1 693.0,434.9 693.7,434.9 694.4,435.1 695.1,435.6 695.8,436.1 696.5,437.4 697.2,439.1 697.9,440.2 698.6,440.9 699.3,440.4 700.0,440.0 700.6,439.3 701.3,439.0 702.0,439.3 702.6,440.0 703.3,440.9 703.9,442.8 704.6,444.4 705.2,445.7 705.9,446.1 706.5,445.8 707.1,445.4 707.8,444.8 708.4,444.5 709.0,444.7 709.6,445.6 710.3,445.8 710.9,447.1 711.5,449.5 712.1,450.8 712.7,452.1 713.3,451.7 713.9,450.9 714.5,449.9 715.1,449.3 715.7,449.6 716.2,449.6 716.8,450.5 717.4,452.0 718.0,453.0 718.5,455.1 719.1,456.5 719.7,455.9 720.2,455.7 720.8,454.6 721.3,454.6 721.9,454.9 722.4,454.4 723.0,455.8 723.5,456.2 724.1,457.7 724.6,459.9 725.2,460.8 725.7,461.0 726.2,460.3 726.7,459.5 727.3,459.3 727.8,459.2 728.3,459.3 728.8,460.3 729.4,460.8 729.9,462.4 730.4,463.9 730.9,465.0 731.4,465.4 731.9,464.8 732.4,464.3 732.9,463.8 733.4,463.5 733.9,463.8 734.4,464.4 734.9,465.1 735.4,466.5 735.8,467.8 736.3,469.5 736.8,470.2 737.3,469.9 737.8,468.9 738.2,468.2 738.7,468.2 739.2,467.6 739.7,468.1 740.1,468.7 740.6,469.7 741.1,471.4 741.5,472.3 742.0,473.5 742.4,473.7 742.9,473.1 743.3,472.5 743.8,471.8 744.2,472.4 744.7,472.2 745.1,473.0 745.6,473.8 746.0,475.5 746.5,476.5 746.9,477.6 747.3,478.0 747.8,477.8 748.2,476.5 748.6,476.4 749.1,476.3 749.5,476.5 749.9,477.1 750.3,477.6 750.8,478.6 751.2,480.5 751.6,481.6 752.0,481.6 752.4,481.0 752.9,480.7 753.3,479.8 753.7,480.0 754.1,479.3 754.5,480.1 754.9,480.3 755.3,481.4 755.7,482.6 756.1,484.2 756.5,484.3 756.9,484.0 757.3,483.7 757.7,482.9 758.1,482.7 758.5,483.0 758.9,483.8 759.3,484.3 759.7,485.5 760.1,486.7 760.5,487.8 760.8,488.5 761.2,488.4 761.6,488.2 762.0,487.1 762.4,487.1 762.8,487.4 763.1,487.1 763.5,487.8 763.9,489.0 764.3,489.7 764.6,491.4 765.0,491.4 765.4,492.2 765.7,491.7 766.1,490.4 766.5,490.5 766.8,490.3 767.2,490.0 767.6,489.9 767.9,491.5 768.3,491.9 768.6,492.4 769.0,493.4 769.4,494.3 769.7,493.3 770.1,492.7 770.4,492.8 770.8,492.3 771.1,492.4 771.5,493.6 771.8,494.5 772.2,495.9 772.5,497.1 772.9,498.2 773.2,498.0 773.5,498.1 773.9,497.6 774.2,495.7 774.6,495.5 774.9,495.8 775.2,495.8 775.6,497.2 775.9,498.1 776.2,498.7 776.6,500.0 776.9,499.9 777.2,500.4 777.6,499.6 777.9,498.1 778.2,497.4 778.6,497.7 778.9,498.2 779.2,498.4 779.5,499.6 779.9,500.5 780.2,502.8 780.5,503.5 780.8,502.3 781.1,502.9 781.5,501.3 781.8,500.8 782.1,500.8 782.4,501.1 782.7,502.5 783.0,503.0 783.3,503.7 783.7,504.0 784.0,506.0 784.3,505.4 784.6,505.1 784.9,504.0 785.2,504.4 785.5,503.2 785.8,502.9 786.1,504.4 786.4,504.2 786.7,505.7 787.0,505.9 787.3,507.1 787.6,507.0 787.9,506.6 788.2,507.0 788.5,506.0 788.8,506.0 789.1,505.7 789.4,506.7 789.7,507.1 790.0,507.4 790.3,508.6 790.6,509.5 790.9,510.3 791.2,510.0 791.5,509.4 791.8,509.2 792.0,508.8 792.3,509.1 792.6,509.8 792.9,510.3 793.2,511.0 793.5,511.7 793.8,513.1 794.0,513.5 794.3,513.3 794.6,513.2 794.9,512.8 795.2,512.3 795.5,511.5 795.7,511.4 796.0,512.4 796.3,513.7 796.6,513.2 796.8,515.1 797.1,515.9 797.4,517.1 797.7,515.0 797.9,515.9 798.2,513.5 798.5,514.9 798.8,515.2 799.0,513.6 799.3,515.8 799.6,514.0 799.8,516.2 800.1,516.6 800.4,517.9 800.6,515.6 800.9,514.2 801.2,514.7 801.4,514.9 801.7,514.3 802.0,516.5 802.2,514.7 802.5,518.2 802.7,516.7 803.0,517.3 803.3,517.4 803.5,518.9 803.8,517.8 804.0,517.6 804.3,517.2 804.6,519.4 804.8,520.4 805.1,518.7 805.3,519.7 805.6,519.2 805.8,521.4 806.1,521.4 806.3,520.3 806.6,519.9 806.8,520.7 807.1,522.2 807.3,522.2 807.6,521.7 807.8,520.2 808.1,519.5 808.3,523.6 808.6,524.1 808.8,522.6 809.1,523.3 809.3,524.2 809.6,522.3 809.8,523.7 810.1,523.5 810.3,524.4 810.6,521.3 810.8,522.7 811.0,522.1 811.3,524.0 811.5,526.0 811.8,523.9 812.0,522.8 812.2,524.6 812.5,523.7 812.7,522.7 813.0,523.9 813.2,523.2 813.4,525.1 813.7,526.1 813.9,526.3 814.1,525.1 814.4,527.2 814.6,525.5 814.8,526.9 815.1,526.7 815.3,525.3 815.5,524.8 815.8,524.9 816.0,527.2 816.2,526.9 816.5,527.0 816.7,529.5 816.9,528.5 817.2,529.2 817.4,527.9 817.6,528.6 817.8,527.2 818.1,529.0 818.3,526.4 818.5,528.8 818.7,527.6 819.0,528.5 819.2,530.3 819.4,528.8 819.6,529.5 819.9,530.5 820.1,530.7 820.3,529.6 820.5,529.9 820.7,528.7 821.0,529.3 821.2,529.8 821.4,530.0 821.6,532.2 821.8,530.8 822.1,531.6 822.3,530.8 822.5,531.1 822.7,530.4 822.9,529.7 823.2,529.9 823.4,529.9 823.6,531.0 823.8,531.4 824.0,534.3 824.2,534.3 824.4,534.3 824.7,536.3 824.9,535.0 825.1,535.1 825.3,535.2 825.5,534.3 825.7,533.2 825.9,532.8 826.1,533.4 826.3,533.1 826.6,534.9 826.8,533.8 827.0,534.7 827.2,533.3 827.4,533.2 827.6,534.0 827.8,533.3 828.0,535.3 828.2,534.7 828.4,535.5 828.6,538.1 828.8,539.2 829.0,538.4 829.2,536.9 829.5,538.1 829.7,538.6 829.9,536.7 830.1,536.0 830.3,537.8 830.5,536.3 830.7,535.6 830.9,537.9 831.1,537.1 831.3,540.3 831.5,540.1 831.7,538.6 831.9,537.1 832.1,539.9 832.3,540.5 832.5,539.4 832.7,537.7 832.9,541.2 833.1,539.3 833.3,540.2 833.5,540.5 833.7,540.0 833.9,538.2 834.0,538.9 834.2,537.6 834.4,537.0 834.6,536.2 834.8,537.5 835.0,537.5 835.2,537.1 835.4,536.6 835.6,536.4 835.8,536.7 836.0,537.5 836.2,538.4 836.4,537.8 836.6,538.8 836.8,540.0 836.9,539.0 837.1,541.1 837.3,541.9 837.5,540.9 837.7,542.5 837.9,541.7 838.1,544.2 838.3,543.5 838.5,542.7 838.6,542.3 838.8,543.2 839.0,542.1 839.2,543.8 839.4,543.9 839.6,544.2 839.8,544.5 839.9,545.5 840.1,543.9 840.3,545.9 840.5,546.4 840.7,544.1 840.9,543.8 841.0,547.1 841.2,543.8 841.4,546.0 841.6,544.5 841.8,549.1 842.0,544.3 842.1,549.4 842.3,545.6 842.5,550.0 842.7,549.4 842.9,547.7 843.0,543.4 843.2,546.6 843.4,550.0 843.6,547.2 843.8,546.5 843.9,552.8 844.1,545.2 844.3,547.2 844.5,547.9 844.7,553.7 844.8,544.7 845.0,548.8 845.2,544.3 845.4,544.5 845.5,549.2 845.7,553.4 845.9,553.8 846.1,547.2 846.2,551.6 846.4,549.2 846.6,544.1 846.8,554.9 846.9,550.1 847.1,553.9 847.3,544.3 847.5,543.9 847.6,543.5 847.8,541.5 848.0,557.2 848.1,551.2 848.3,559.5 848.5,546.2 848.7,557.9 848.8,546.2 849.0,554.8 849.2,542.1 849.3,558.5 849.5,564.3 849.7,548.4 849.8,543.5 850.0,560.4 850.2,558.8 850.4,556.7 850.5,554.4 850.7,544.4 850.9,542.8 851.0,561.5 851.2,568.3 851.4,552.2 851.5,564.5 851.7,563.5 851.9,546.7 852.0,564.7 852.2,553.6 852.4,564.5 852.5,568.7 852.7,547.1 852.8,565.6 853.0,573.5 853.2,544.7 853.3,554.0 853.5,552.1 853.7,555.0 853.8,559.7 854.0,569.3 854.2,545.8 854.3,553.1 854.5,554.6 854.6,556.9 854.8,557.0 855.0,572.8 855.1,555.4 855.3,572.5 855.4,573.2 855.6,563.8 855.8,564.4 855.9,569.2 856.1,568.3 856.2,578.8 856.4,565.0 856.6,576.4 856.7,555.5 856.9,563.6 857.0,559.7 857.2,562.7 857.4,563.5 857.5,546.6 857.7,575.1 857.8,570.0 858.0,570.6 858.1,560.4 858.3,561.3 858.4,556.3 858.6,573.3 858.8,572.1 858.9,549.8 859.1,551.3 859.2,554.9 859.4,561.2 859.5,560.2 859.7,570.6 859.8,561.2 860.0,547.3 860.2,562.9 860.3,580.5 860.5,566.8 860.6,549.6 860.8,556.8 860.9,549.2 861.1,573.1 861.2,572.3 861.4,564.4 861.5,553.0 861.7,562.0 861.8,558.0 862.0,583.5 862.1,564.7 862.3,550.6 862.4,575.3 862.6,548.9 862.7,572.7 862.9,559.6 863.0,568.6 863.2,563.7 863.3,564.1 863.5,568.9 863.6,571.8 863.8,571.1 863.9,577.4 864.1,565.8 864.2,582.8 864.4,576.2 864.5,578.7 864.7,567.4 864.8,554.5 865.0,576.4 865.1,563.7 865.3,555.9 865.4,579.2 865.5,558.7 865.7,578.5 865.8,558.7 866.0,559.1 866.1,570.7 866.3,559.8 866.4,578.2 866.6,564.1 866.7,560.7 866.9,563.4 867.0,564.6 867.1,577.4 867.3,565.4 867.4,564.9 867.6,584.5 867.7,579.1 867.9,579.8 868.0,560.5 868.1,578.2 868.3,581.1 868.4,579.7 868.6,575.2 868.7,564.0 868.9,582.8 869.0,560.4 869.1,564.0 869.3,559.3 869.4,565.0 869.6,578.5 869.7,561.0 869.8,580.7 870.0,569.6 870.1,575.2 870.3,568.1 870.4,576.1 870.5,568.7 870.7,571.8 870.8,577.4 871.0,580.2 871.1,570.3 871.2,567.5 871.4,578.5 871.5,571.6 871.7,570.1 871.8,580.8 871.9,566.6 872.1,581.1 872.2,570.6 872.3,577.5 872.5,575.7 872.6,578.7 872.7,573.8 872.9,565.1 873.0,570.0 873.2,572.0 873.3,566.7 873.4,575.5 873.6,576.7 873.7,580.4 873.8,573.9 874.0,571.4 874.1,578.6 874.2,573.6 874.4,571.8 874.5,573.0 874.6,576.7 874.8,572.2 874.9,575.5 875.0,575.5 875.2,573.2 875.3,568.1 875.4,569.5 875.6,569.4 875.7,585.5 875.8,568.4 876.0,571.8 876.1,584.9 876.2,564.4 876.4,567.1 876.5,580.8 876.6,579.9 876.8,586.1 876.9,587.9 877.0,579.9 877.2,588.8 877.3,575.9 877.4,583.5 877.6,567.6 877.7,583.9 877.8,580.4 878.0,593.7 878.1,569.0 878.2,565.8 878.3,580.6 878.5,592.1 878.6,591.8 878.7,592.5 878.9,576.1 879.0,580.2 879.1,580.0 879.2,565.8 879.4,572.0 879.5,591.0 879.6,563.6 879.8,583.9 879.9,586.1 880.0,572.0 880.1,568.1 880.3,571.3 880.4,575.2 880.5,567.1 880.7,579.8 880.8,584.8 880.9,565.2 881.0,586.3 881.2,599.2 881.3,593.9 881.4,597.7 881.5,573.6 881.7,594.9 881.8,572.2 881.9,591.1 882.0,575.8 882.2,571.0 882.3,587.3 882.4,570.2 882.5,591.8 882.7,586.3 882.8,569.8 882.9,578.3 883.0,592.7 883.2,573.8 883.3,576.4 883.4,586.1 883.5,571.9 883.7,578.6 883.8,586.1 883.9,586.5 884.0,573.3 884.2,594.4 884.3,582.8 884.4,590.3 884.5,593.7 884.6,583.7 884.8,593.1 884.9,595.4 885.0,583.5 885.1,583.0 885.3,577.2 885.4,589.0 885.5,595.2 885.6,571.2 885.7,583.8 885.9,584.7 886.0,598.2 886.1,597.2 886.2,578.5 886.3,595.0 886.5,580.7 886.6,587.1 886.7,600.1 886.8,582.9 886.9,573.1 887.1,573.4 887.2,589.5 887.3,581.1 887.4,572.0 887.5,600.1 887.7,586.3 887.8,582.7 887.9,591.9 888.0,583.3 888.1,591.7 888.3,594.9 888.4,577.3 888.5,576.8 888.6,575.5 888.7,575.5 888.8,590.1 889.0,594.1 889.1,594.9 889.2,581.3 889.3,585.7 889.4,573.3 889.6,578.9 889.7,576.1 889.8,597.7 889.9,595.0 890.0,575.5 890.1,584.7 890.3,591.1 890.4,583.1 890.5,592.2 890.6,587.4 890.7,584.7 890.8,593.4 890.9,593.6 891.1,587.9 891.2,581.5 891.3,579.1 891.4,576.8 891.5,593.7 891.6,581.2 891.8,576.2 891.9,576.9 892.0,590.9 892.1,585.4 892.2,586.2 892.3,583.8 892.4,592.8 892.6,590.5 892.7,585.4 892.8,592.8 892.9,592.5 893.0,595.2 893.1,586.6 893.2,582.5 893.3,590.5 893.5,582.3 893.6,584.6 893.7,585.8 893.8,589.0 893.9,589.0 894.0,589.3 894.1,584.5 894.2,583.4 894.4,589.5 894.5,588.3 894.6,586.3 894.7,589.1 894.8,589.6 894.9,584.2 895.0,588.7 895.1,587.0 895.3,590.3 895.4,589.3 895.5,586.4 895.6,587.7 895.7,585.1 895.8,586.7 895.9,588.0 896.0,587.5 896.1,585.6 896.2,588.5 896.4,583.8 896.5,592.6 896.6,585.2 896.7,585.0 896.8,586.8 896.9,590.7 897.0,585.4 897.1,591.9 897.2,591.5 897.3,593.3 897.4,589.0 897.6,595.1 897.7,587.6 897.8,594.2 897.9,589.7 898.0,592.6 898.1,585.1"/>
<polyline stroke="#0000FF" points="151.2,140.3 226.1,140.8 270.0,141.8 301.1,144.2 325.2,148.2 344.9,153.6 361.6,160.0 376.0,166.6 388.8,173.6 400.2,181.0 410.5,190.8 419.9,202.8 428.5,217.4 436.5,233.2 444.0,249.2 451.0,268.3 457.5,295.2 463.7,320.6 469.6,340.2 475.1,342.8 480.4,336.0 485.4,334.4 490.2,336.1 494.8,340.9 499.2,350.4 503.5,361.7 507.6,370.1 511.5,374.9 515.3,369.9 519.0,363.8 522.5,360.5 525.9,360.2 529.3,363.7 532.5,368.2 535.6,374.3 538.7,380.2 541.6,386.2 544.5,387.1 547.3,383.7 550.1,381.3 552.7,379.7 555.3,379.7 557.9,383.3 560.4,388.0 562.8,393.9 565.2,399.4 567.5,403.0 569.8,403.3 572.0,400.7 574.2,398.4 576.3,396.8 578.4,396.3 580.5,399.0 582.5,403.5 584.5,407.6 586.4,412.1 588.4,416.0 590.2,417.1 592.1,415.3 593.9,413.1 595.7,412.3 597.4,411.9 599.2,412.9 600.9,416.2 602.6,419.4 604.2,422.7 605.8,425.6 607.4,427.4 609.0,428.6 610.6,428.6 612.1,427.8 613.6,427.1 615.1,427.5 616.6,429.1 618.0,431.3 619.5,433.4 620.9,435.2 622.3,437.2 623.6,439.1 625.0,440.4 626.3,440.5 627.7,439.4 629.0,438.1 630.3,437.6 631.6,437.7 632.8,438.0 634.1,438.7 635.3,441.4 636.5,444.8 637.7,447.5 638.9,449.4 640.1,451.1 641.3,451.6 642.4,450.9 643.6,449.6 644.7,448.6 645.8,448.1 646.9,450.1 648.0,452.6 649.1,455.2 650.2,457.1 651.3,457.7 652.3,457.0 653.4,456.1 654.4,455.5 655.4,455.7 656.4,456.4 657.5,457.4 658.5,459.0 659.4,461.2 660.4,463.7 661.4,465.7 662.3,466.5 663.3,466.1 664.2,465.1 665.2,464.5 666.1,464.4 667.0,464.9 667.9,465.8 668.8,467.1 669.7,469.0 670.6,471.4 671.5,473.4 672.4,474.4 673.3,474.2 674.1,473.3 675.0,472.6 675.8,472.4 676.7,472.8 677.5,473.5 678.3,474.6 679.2,476.2 680.0,478.3 680.8,480.4 681.6,481.6 682.4,481.6 683.2,480.8 684.0,480.0 684.7,479.7 685.5,479.9 686.3,480.5 687.0,481.4 687.8,482.8 688.6,484.7 689.3,486.7 690.1,488.0 690.8,488.3 691.5,487.7 692.3,486.8 693.0,486.3 693.7,486.4 694.4,486.9 695.1,487.6 695.8,488.8 696.5,490.6 697.2,492.5 697.9,493.9 698.6,494.4 699.3,493.9 700.0,493.1 700.6,492.5 701.3,492.4 702.0,492.8 702.6,493.4 703.3,494.4 703.9,495.9 704.6,497.7 705.2,499.2 705.9,499.9 706.5,499.6 707.1,498.8 707.8,498.1 708.4,498.0 709.0,498.1 709.6,498.7 710.3,499.6 710.9,500.8 711.5,502.6 712.1,504.1 712.7,504.9 713.3,504.8 713.9,504.0 714.5,503.4 715.1,503.1 715.7,503.2 716.2,503.5 716.8,504.4 717.4,505.4 718.0,506.9 718.5,508.6 719.1,509.5 719.7,509.7 720.2,509.1 720.8,508.2 721.3,508.1 721.9,508.0 722.4,508.5 723.0,508.9 723.5,510.0 724.1,511.5 724.6,513.0 725.2,513.9 725.7,514.1 726.2,513.9 726.7,513.0 727.3,512.5 727.8,512.7 728.3,513.3 728.8,513.3 729.4,514.6 729.9,515.6 730.4,517.0 730.9,518.2 731.4,518.5 731.9,518.5 732.4,517.6 732.9,517.2 733.4,517.0 733.9,517.1 734.4,517.3 734.9,518.6 735.4,519.6 735.8,520.9 736.3,522.0 736.8,522.8 737.3,522.6 737.8,522.2 738.2,521.6 738.7,521.2 739.2,521.4 739.7,521.5 740.1,522.8 740.6,523.1 741.1,524.7 741.5,526.2 742.0,526.5 742.4,527.0 742.9,526.4 743.3,525.7 743.8,525.4 744.2,525.4 744.7,526.1 745.1,525.9 745.6,527.4 746.0,528.2 746.5,529.0 746.9,529.8 747.3,530.3 747.8,530.4 748.2,529.2 748.6,529.2 749.1,529.0 749.5,529.0 749.9,529.8 750.3,531.0 750.8,531.4 751.2,532.7 751.6,534.2 752.0,534.2 752.4,534.3 752.9,533.2 753.3,533.0 753.7,532.7 754.1,532.7 754.5,533.6 754.9,533.6 755.3,535.2 755.7,536.2 756.1,536.8 756.5,537.5 756.9,537.1 757.3,536.4 757.7,535.8 758.1,535.7 758.5,536.3 758.9,536.4 759.3,537.1 759.7,537.6 760.1,539.1 760.5,539.7 760.8,540.4 761.2,540.8 761.6,540.1 762.0,539.7 762.4,539.4 762.8,539.4 763.1,539.6 763.5,540.0 763.9,540.4 764.3,541.8 764.6,542.8 765.0,543.2 765.4,543.5 765.7,542.8 766.1,542.3 766.5,541.9 766.8,542.0 767.2,542.8 767.6,543.2 767.9,543.9 768.3,544.8 768.6,545.5 769.0,546.8 769.4,546.8 769.7,546.7 770.1,546.3 770.4,545.5 770.8,545.1 771.1,545.4 771.5,545.6 771.8,546.4 772.2,547.2 772.5,548.3 772.9,549.1 773.2,548.9 773.5,548.6 773.9,548.4 774.2,547.6 774.6,547.4 774.9,547.7 775.2,548.4 775.6,548.8 775.9,550.0 776.2,550.9 776.6,551.2 776.9,552.3 777.2,552.5 777.6,551.1 777.9,551.4 778.2,551.0 778.6,550.9 778.9,550.9 779.2,550.9 779.5,551.2 779.9,553.0 780.2,553.6 780.5,554.0 780.8,554.1 781.1,553.9 781.5,553.1 781.8,553.4 782.1,553.0 782.4,553.2 782.7,554.2 783.0,554.9 783.3,555.3 783.7,556.7 784.0,556.4 784.3,556.7 784.6,556.0 784.9,555.7 785.2,555.3 785.5,555.0 785.8,555.7 786.1,556.7 786.4,555.9 786.7,557.3 787.0,558.6 787.3,559.6 787.6,560.7 787.9,560.3 788.2,560.2 788.5,558.8 788.8,558.4 789.1,559.6 789.4,560.2 789.7,560.8 790.0,560.9 790.3,562.2 790.6,562.8 790.9,561.8 791.2,561.0 791.5,561.3 791.8,560.4 792.0,559.8 792.3,559.3 792.6,560.7 792.9,560.2 793.2,561.3 793.5,561.9 793.8,563.9 794.0,563.7 794.3,565.2 794.6,563.5 794.9,564.1 795.2,563.3 795.5,563.5 795.7,563.8 796.0,563.7 796.3,564.7 796.6,566.1 796.8,566.7 797.1,566.3 797.4,566.8 797.7,566.9 797.9,566.1 798.2,566.1 798.5,565.7 798.8,565.4 799.0,566.8 799.3,566.6 799.6,567.8 799.8,568.8 800.1,568.9 800.4,568.9 800.6,568.7 800.9,568.7 801.2,568.4 801.4,568.0 801.7,567.3 802.0,568.7 802.2,568.7 802.5,569.7 802.7,569.7 803.0,570.5 803.3,571.6 803.5,570.6 803.8,570.0 804.0,570.0 804.3,570.6 804.6,570.7 804.8,570.4 805.1,571.1 805.3,571.9 805.6,571.2 805.8,573.3 806.1,573.0 806.3,571.9 806.6,572.1 806.8,572.7 807.1,571.2 807.3,572.0 807.6,570.8 807.8,571.9 808.1,572.4 808.3,572.7 808.6,575.4 808.8,575.3 809.1,574.8 809.3,574.5 809.6,574.4 809.8,573.5 810.1,574.3 810.3,573.7 810.6,573.8 810.8,574.3 811.0,576.2 811.3,577.1 811.5,578.5 811.8,579.2 812.0,578.8 812.2,577.5 812.5,576.2 812.7,578.4 813.0,576.8 813.2,577.9 813.4,579.2 813.7,579.2 813.9,577.7 814.1,581.5 814.4,577.7 814.6,578.2 814.8,579.6 815.1,579.9 815.3,580.1 815.5,576.7 815.8,578.3 816.0,577.7 816.2,577.3 816.5,581.3 816.7,582.0 816.9,582.4 817.2,583.1 817.4,581.5 817.6,579.7 817.8,579.5 818.1,582.4 818.3,584.0 818.5,584.8 818.7,583.2 819.0,583.7 819.2,582.4 819.4,585.4 819.6,583.4 819.9,582.7 820.1,583.3 820.3,583.9 820.5,584.2 820.7,582.5 821.0,583.4 821.2,584.5 821.4,584.6 821.6,583.2 821.8,582.8 822.1,583.4 822.3,583.4 822.5,583.4 822.7,586.3 822.9,586.8 823.2,585.4 823.4,583.3 823.6,584.5 823.8,586.9 824.0,585.8 824.2,586.6 824.4,585.5 824.7,586.2 824.9,588.6 825.1,585.4 825.3,586.3 825.5,589.1 825.7,589.4 825.9,591.4 826.1,591.2 826.3,592.7 826.6,591.2 826.8,592.1 827.0,590.9 827.2,588.8 827.4,586.5 827.6,589.6 827.8,588.5 828.0,586.7 828.2,592.7 828.4,589.8 828.6,594.7 828.8,593.9 829.0,592.2 829.2,591.1 829.5,591.5 829.7,593.6 829.9,594.8 830.1,589.4 830.3,595.2 830.5,590.8 830.7,592.9 830.9,592.4 831.1,588.2 831.3,594.5 831.5,594.9 831.7,596.6 831.9,593.4 832.1,591.9 832.3,592.1 832.5,595.5 832.7,596.4 832.9,594.4 833.1,597.7 833.3,596.6 833.5,595.7 833.7,594.4 833.9,597.6 834.0,593.1 834.2,595.0 834.4,597.4 834.6,594.9 834.8,595.4 835.0,596.2 835.2,593.2 835.4,597.8 835.6,594.3 835.8,596.4 836.0,595.0 836.2,594.6 836.4,594.9 836.6,597.8 836.8,599.1 836.9,595.1 837.1,598.5 837.3,599.1 837.5,596.9 837.7,600.0 837.9,596.8 838.1,596.2 838.3,599.3 838.5,594.4 838.6,597.8 838.8,594.8 839.0,599.5 839.2,597.2 839.4,598.6 839.6,600.2 839.8,599.0 839.9,602.1 840.1,596.8 840.3,599.7 840.5,600.6 840.7,599.7 840.9,601.5 841.0,593.7 841.2,602.1 841.4,602.6 841.6,595.9 841.8,600.6 842.0,596.5 842.1,604.3 842.3,603.2 842.5,603.3 842.7,603.9 842.9,597.9 843.0,600.0 843.2,604.8 843.4,601.4 843.6,604.6 843.8,606.3 843.9,606.2 844.1,598.6 844.3,602.8 844.5,599.9 844.7,597.5 844.8,600.2 845.0,601.1 845.2,599.2 845.4,598.7 845.5,598.0 845.7,601.8 845.9,599.6 846.1,603.2 846.2,602.0 846.4,604.6 846.6,603.6 846.8,603.0 846.9,602.6 847.1,604.2 847.3,602.2 847.5,604.7 847.6,607.1 847.8,606.2 848.0,605.8 848.1,606.7 848.3,607.3 848.5,603.9 848.7,605.4 848.8,606.5 849.0,607.6 849.2,604.5 849.3,608.1 849.5,607.0 849.7,605.5 849.8,605.3 850.0,607.4 850.2,603.6 850.4,602.5 850.5,604.2 850.7,605.9 850.9,602.7 851.0,602.1 851.2,606.3 851.4,606.2 851.5,608.7 851.7,606.6 851.9,605.4 852.0,610.0 852.2,606.0 852.4,605.9 852.5,604.9 852.7,611.9 852.8,609.8 853.0,610.2 853.2,609.7 853.3,608.1 853.5,610.7 853.7,610.8 853.8,613.5 854.0,607.0 854.2,608.2 854.3,608.1 854.5,609.3 854.6,611.2 854.8,606.6 855.0,608.9 855.1,612.7 855.3,608.0 855.4,607.9 855.6,610.8 855.8,606.9 855.9,606.4 856.1,611.7 856.2,609.0 856.4,606.6 856.6,606.6 856.7,613.4 856.9,612.5 857.0,613.3 857.2,609.7 857.4,610.0 857.5,605.4 857.7,608.8 857.8,609.6 858.0,611.4 858.1,613.4 858.3,608.2 858.4,610.4 858.6,614.2 858.8,610.4 858.9,609.5 859.1,609.1 859.2,616.3 859.4,607.4 859.5,607.6 859.7,611.8 859.8,608.5 860.0,611.1 860.2,610.4 860.3,613.7 860.5,613.7 860.6,608.8 860.8,615.9 860.9,617.9 861.1,611.1 861.2,613.3 861.4,617.6 861.5,615.5 861.7,609.6 861.8,609.0 862.0,617.3 862.1,618.1 862.3,614.0 862.4,617.5 862.6,614.3 862.7,616.8 862.9,615.3 863.0,613.0 863.2,611.3 863.3,612.0 863.5,619.1 863.6,613.7 863.8,619.0 863.9,617.8 864.1,621.4 864.2,618.4 864.4,613.2 864.5,619.5 864.7,623.2 864.8,613.2 865.0,620.2 865.1,621.0 865.3,622.7 865.4,611.9 865.5,622.0 865.7,610.9 865.8,612.6 866.0,615.4 866.1,623.4 866.3,613.5 866.4,620.3 866.6,614.4 866.7,624.7 866.9,615.2 867.0,613.8 867.1,615.3 867.3,615.7 867.4,621.8 867.6,617.2 867.7,622.0 867.9,621.8 868.0,622.0 868.1,624.4 868.3,618.6 868.4,613.5 868.6,619.8 868.7,622.8 868.9,623.7 869.0,622.1 869.1,617.2 869.3,623.5 869.4,614.1 869.6,628.1 869.7,626.9 869.8,614.3 870.0,617.3 870.1,620.8 870.3,613.9 870.4,614.3 870.5,631.7 870.7,618.8 870.8,631.2 871.0,621.5 871.1,619.0 871.2,625.8 871.4,623.7 871.5,614.0 871.7,617.6 871.8,628.9 871.9,618.9 872.1,615.0 872.2,619.8 872.3,619.6 872.5,617.3 872.6,616.6 872.7,616.5 872.9,622.5 873.0,616.3 873.2,624.0 873.3,618.8 873.4,620.4 873.6,627.0 873.7,625.2 873.8,625.1 874.0,626.8 874.1,619.9 874.2,627.7 874.4,625.3 874.5,619.9 874.6,621.9 874.8,623.9 874.9,623.8 875.0,622.6 875.2,624.9 875.3,622.5 875.4,625.6 875.6,627.7 875.7,629.0 875.8,625.7 876.0,621.5 876.1,627.5 876.2,622.2 876.4,626.9 876.5,630.2 876.6,626.6 876.8,628.5 876.9,627.7 877.0,622.9 877.2,621.8 877.3,625.2 877.4,620.5 877.6,625.5 877.7,623.1 877.8,623.0 878.0,622.8 878.1,631.2 878.2,629.9 878.3,629.6 878.5,630.2 878.6,630.6 878.7,632.1 878.9,632.9 879.0,627.6 879.1,630.0 879.2,632.7 879.4,628.1 879.5,624.3 879.6,632.5 879.8,633.5 879.9,629.8 880.0,631.4 880.1,630.9 880.3,627.5 880.4,629.8 880.5,631.6 880.7,631.0 880.8,625.2 880.9,624.1 881.0,634.1 881.2,634.7 881.3,628.3 881.4,630.8 881.5,633.1 881.7,630.8 881.8,621.6 881.9,632.2 882.0,624.4 882.2,623.4 882.3,620.9 882.4,631.9 882.5,620.1 882.7,622.4 882.8,621.5 882.9,629.1 883.0,624.6 883.2,622.2 883.3,621.3 883.4,630.9 883.5,627.4 883.7,626.3 883.8,628.0 883.9,627.6 884.0,624.3 884.2,634.0 884.3,628.4 884.4,623.4 884.5,626.3 884.6,625.3 884.8,626.7 884.9,631.1 885.0,625.9 885.1,629.8 885.3,629.3 885.4,628.9 885.5,626.9 885.6,628.1 885.7,624.2 885.9,630.7 886.0,628.8 886.1,622.6 886.2,622.9 886.3,623.2 886.5,626.0 886.6,631.0 886.7,633.3 886.8,628.1 886.9,633.9 887.1,624.2 887.2,631.6 887.3,628.8 887.4,625.9 887.5,627.0 887.7,632.3 887.8,628.7 887.9,632.7 888.0,623.4 888.1,631.8 888.3,627.4 888.4,628.4 888.5,624.1 888.6,630.0 888.7,629.3 888.8,627.0 889.0,627.7 889.1,632.7 889.2,625.6 889.3,629.3 889.4,632.0 889.6,632.4 889.7,631.4 889.8,631.1 889.9,629.6 890.0,628.2 890.1,631.2 890.3,622.7 890.4,624.1 890.5,626.0 890.6,634.1 890.7,634.9 890.8,635.0 890.9,624.0 891.1,628.1 891.2,622.3 891.3,632.3 891.4,621.2 891.5,627.2 891.6,632.1 891.8,625.6 891.9,629.7 892.0,632.8 892.1,622.7 892.2,626.3 892.3,627.3 892.4,629.6 892.6,626.5 892.7,621.9 892.8,631.9 892.9,626.9 893.0,623.0 893.1,630.5 893.2,628.6 893.3,628.6 893.5,628.7 893.6,628.4 893.7,625.0 893.8,627.4 893.9,632.0 894.0,624.6 894.1,629.2 894.2,627.6 894.4,631.5 894.5,632.2 894.6,631.8 894.7,627.6 894.8,630.9 894.9,630.7 895.0,627.1 895.1,628.5 895.3,631.1 895.4,624.4 895.5,625.5 895.6,627.3 895.7,622.7 895.8,628.0 895.9,625.4 896.0,623.4 896.1,629.1 896.2,625.7 896.4,627.0 896.5,627.8 896.6,627.0 896.7,631.0 896.8,627.2 896.9,627.0 897.0,628.7 897.1,634.4 897.2,633.4 897.3,632.4 897.4,630.0 897.6,633.6 897.7,629.0 897.8,631.1 897.9,630.4 898.0,627.9 898.1,632.7"/>
<polyline stroke="#8A2BE2" points="151.2,140.6 226.1,141.0 270.0,142.0 301.1,144.3 325.2,148.2 344.9,153.2 361.6,158.8 376.0,164.6 388.8,170.9 400.2,176.7 410.5,185.0 419.9,194.6 428.5,205.6 436.5,219.3 444.0,235.5 451.0,251.6 457.5,272.6 463.7,296.2 469.6,322.1 475.1,349.1 480.4,363.1 485.4,364.3 490.2,362.7 494.8,363.7 499.2,372.8 503.5,385.3 507.6,399.1 511.5,407.3 515.3,408.0 519.0,400.8 522.5,395.4 525.9,392.8 529.3,394.9 532.5,399.9 535.6,407.4 538.7,416.2 541.6,426.0 544.5,432.2 547.3,431.9 550.1,423.4 552.7,417.7 555.3,414.0 557.9,414.6 560.4,419.5 562.8,425.4 565.2,432.8 567.5,438.2 569.8,441.5 572.0,439.0 574.2,434.1 576.3,431.7 578.4,430.3 580.5,430.9 582.5,434.8 584.5,439.3 586.4,444.2 588.4,449.0 590.2,451.9 592.1,453.3 593.9,450.9 595.7,447.2 597.4,445.5 599.2,444.5 600.9,445.4 602.6,449.0 604.2,453.1 605.8,457.0 607.4,461.6 609.0,464.8 610.6,464.6 612.1,461.6 613.6,458.8 615.1,457.6 616.6,456.8 618.0,457.0 619.5,459.6 620.9,463.5 622.3,467.4 623.6,471.5 625.0,475.4 626.3,476.0 627.7,473.9 629.0,471.1 630.3,469.2 631.6,468.1 632.8,467.8 634.1,469.8 635.3,473.4 636.5,477.2 637.7,480.7 638.9,484.5 640.1,486.4 641.3,485.0 642.4,482.0 643.6,479.6 644.7,478.4 645.8,477.6 646.9,480.6 648.0,484.4 649.1,488.4 650.2,491.1 651.3,491.4 652.3,489.5 653.4,487.0 654.4,485.4 655.4,484.9 656.4,485.4 657.5,486.6 658.5,488.7 659.4,492.1 660.4,496.0 661.4,498.9 662.3,499.7 663.3,498.2 664.2,495.8 665.2,493.9 666.1,493.2 667.0,493.5 667.9,494.4 668.8,496.2 669.7,499.1 670.6,502.7 671.5,505.8 672.4,507.1 673.3,506.1 674.1,503.9 675.0,501.8 675.8,500.9 676.7,501.0 677.5,501.7 678.3,503.2 679.2,505.7 680.0,509.1 680.8,512.3 681.6,514.0 682.4,513.5 683.2,511.6 684.0,509.5 684.7,508.4 685.5,508.2 686.3,508.8 687.0,510.1 687.8,512.2 688.6,515.4 689.3,518.7 690.1,520.7 690.8,520.7 691.5,519.1 692.3,517.0 693.0,515.6 693.7,515.3 694.4,515.7 695.1,516.7 695.8,518.6 696.5,521.4 697.2,524.6 697.9,527.0 698.6,527.4 699.3,526.0 700.0,524.0 700.6,522.4 701.3,521.8 702.0,522.1 702.6,522.8 703.3,524.4 703.9,526.9 704.6,529.9 705.2,532.5 705.9,533.3 706.5,532.3 707.1,530.3 707.8,528.6 708.4,527.8 709.0,527.8 709.6,528.5 710.3,529.7 710.9,531.9 711.5,534.8 712.1,537.4 712.7,538.7 713.3,538.1 713.9,536.2 714.5,534.4 715.1,533.4 715.7,533.3 716.2,533.7 716.8,534.8 717.4,536.6 718.0,539.3 718.5,542.0 719.1,543.6 719.7,543.4 720.2,541.8 720.8,539.9 721.3,538.7 721.9,538.4 722.4,538.7 723.0,539.6 723.5,541.2 724.1,543.6 724.6,546.3 725.2,548.2 725.7,548.4 726.2,547.0 726.7,545.2 727.3,543.8 727.8,543.3 728.3,543.5 728.8,544.2 729.4,545.5 729.9,547.7 730.4,550.4 730.9,552.5 731.4,553.0 731.9,552.0 732.4,550.2 732.9,548.7 733.4,548.0 733.9,548.1 734.4,548.6 734.9,549.7 735.4,551.7 735.8,554.2 736.3,556.4 736.8,557.4 737.3,556.7 737.8,555.0 738.2,553.4 738.7,552.5 739.2,552.5 739.7,552.9 740.1,553.8 740.6,555.5 741.1,557.8 741.5,560.2 742.0,561.4 742.4,561.0 742.9,559.6 743.3,557.9 743.8,556.8 744.2,556.6 744.7,557.0 745.1,557.6 745.6,559.0 746.0,561.3 746.5,563.6 746.9,565.2 747.3,565.2 747.8,563.8 748.2,562.2 748.6,561.1 749.1,560.5 749.5,560.6 749.9,561.4 750.3,562.6 750.8,564.4 751.2,566.9 751.6,568.4 752.0,569.1 752.4,568.1 752.9,566.2 753.3,565.4 753.7,564.7 754.1,564.8 754.5,565.7 754.9,566.2 755.3,568.1 755.7,570.1 756.1,572.5 756.5,572.7 756.9,572.6 757.3,571.0 757.7,569.3 758.1,569.0 758.5,569.0 758.9,568.8 759.3,569.6 759.7,571.3 760.1,573.6 760.5,575.5 760.8,576.3 761.2,576.5 761.6,574.8 762.0,573.4 762.4,572.4 762.8,571.9 763.1,572.3 763.5,573.2 763.9,574.3 764.3,576.1 764.6,578.4 765.0,579.6 765.4,579.3 765.7,577.9 766.1,576.6 766.5,576.0 766.8,575.4 767.2,575.1 767.6,575.8 767.9,577.0 768.3,579.0 768.6,580.7 769.0,582.1 769.4,582.7 769.7,582.1 770.1,579.9 770.4,579.1 770.8,578.7 771.1,578.9 771.5,578.6 771.8,579.8 772.2,581.3 772.5,583.6 772.9,585.0 773.2,585.3 773.5,584.1 773.9,582.7 774.2,582.0 774.6,582.4 774.9,581.6 775.2,582.3 775.6,583.2 775.9,584.1 776.2,587.0 776.6,588.4 776.9,588.8 777.2,588.0 777.6,586.2 777.9,584.8 778.2,584.1 778.6,584.7 778.9,584.6 779.2,586.2 779.5,587.0 779.9,589.4 780.2,589.9 780.5,590.5 780.8,590.6 781.1,589.3 781.5,588.1 781.8,586.9 782.1,586.4 782.4,588.0 782.7,587.5 783.0,588.6 783.3,590.0 783.7,591.1 784.0,592.7 784.3,593.7 784.6,592.6 784.9,590.9 785.2,589.4 785.5,590.1 785.8,590.1 786.1,590.0 786.4,590.1 786.7,592.1 787.0,593.9 787.3,595.2 787.6,595.3 787.9,594.2 788.2,593.8 788.5,592.5 788.8,592.7 789.1,592.7 789.4,592.9 789.7,594.1 790.0,594.9 790.3,596.7 790.6,598.3 790.9,598.2 791.2,597.4 791.5,595.8 791.8,594.5 792.0,593.3 792.3,593.7 792.6,594.8 792.9,595.1 793.2,595.9 793.5,597.8 793.8,598.1 794.0,599.2 794.3,599.9 794.6,598.4 794.9,596.9 795.2,596.9 795.5,597.3 795.7,596.6 796.0,597.3 796.3,597.8 796.6,599.9 796.8,599.7 797.1,601.1 797.4,601.8 797.7,600.3 797.9,598.5 798.2,597.9 798.5,597.8 798.8,599.4 799.0,599.4 799.3,601.4 799.6,602.6 799.8,603.9 800.1,604.3 800.4,604.9 800.6,602.5 800.9,602.4 801.2,601.5 801.4,601.0 801.7,600.3 802.0,601.1 802.2,601.2 802.5,603.1 802.7,604.3 803.0,606.0 803.3,607.0 803.5,606.4 803.8,604.9 804.0,602.5 804.3,601.4 804.6,603.6 804.8,602.8 805.1,602.6 805.3,602.8 805.6,603.8 805.8,606.2 806.1,605.4 806.3,608.0 806.6,605.9 806.8,605.8 807.1,604.2 807.3,603.9 807.6,605.6 807.8,605.4 808.1,606.7 808.3,608.3 808.6,608.7 808.8,608.7 809.1,609.6 809.3,609.2 809.6,607.9 809.8,606.2 810.1,605.8 810.3,604.8 810.6,605.1 810.8,607.5 811.0,609.6 811.3,609.5 811.5,612.2 811.8,611.5 812.0,609.6 812.2,611.2 812.5,608.8 812.7,611.2 813.0,610.3 813.2,612.0 813.4,612.0 813.7,611.2 813.9,610.7 814.1,611.9 814.4,613.5 814.6,612.9 814.8,610.4 815.1,608.5 815.3,610.4 815.5,607.7 815.8,611.3 816.0,613.9 816.2,614.2 816.5,615.6 816.7,616.3 816.9,614.2 817.2,614.9 817.4,616.3 817.6,613.0 817.8,614.6 818.1,613.1 818.3,612.5 818.5,614.4 818.7,612.6 819.0,613.3 819.2,616.6 819.4,616.2 819.6,617.7 819.9,615.3 820.1,614.5 820.3,613.2 820.5,615.7 820.7,613.8 821.0,616.5 821.2,619.3 821.4,620.3 821.6,620.0 821.8,619.4 822.1,621.9 822.3,621.7 822.5,620.2 822.7,618.0 822.9,615.4 823.2,618.3 823.4,619.4 823.6,618.1 823.8,617.8 824.0,616.6 824.2,622.8 824.4,619.4 824.7,617.3 824.9,615.5 825.1,616.5 825.3,616.2 825.5,614.1 825.7,618.2 825.9,615.6 826.1,619.7 826.3,621.7 826.6,622.7 826.8,620.6 827.0,625.0 827.2,622.3 827.4,622.7 827.6,618.7 827.8,623.3 828.0,622.6 828.2,620.1 828.4,620.4 828.6,623.0 828.8,625.3 829.0,624.9 829.2,623.0 829.5,620.0 829.7,622.7 829.9,619.2 830.1,621.3 830.3,619.2 830.5,618.2 830.7,622.1 830.9,622.4 831.1,621.1 831.3,623.4 831.5,622.2 831.7,624.9 831.9,622.3 832.1,622.3 832.3,623.5 832.5,624.3 832.7,622.0 832.9,624.8 833.1,626.5 833.3,626.7 833.5,627.8 833.7,627.7 833.9,627.8 834.0,626.9 834.2,623.9 834.4,625.5 834.6,623.4 834.8,624.6 835.0,624.3 835.2,624.8 835.4,625.7 835.6,627.4 835.8,627.9 836.0,626.5 836.2,627.5 836.4,626.4 836.6,627.6 836.8,626.1 836.9,628.2 837.1,627.9 837.3,628.2 837.5,627.4 837.7,630.2 837.9,629.2 838.1,627.9 838.3,628.7 838.5,628.1 838.6,627.2 838.8,626.5 839.0,626.9 839.2,628.2 839.4,628.5 839.6,627.5 839.8,630.2 839.9,629.2 840.1,629.0 840.3,628.3 840.5,628.1 840.7,629.4 840.9,628.3 841.0,627.1 841.2,628.1 841.4,627.5 841.6,630.7 841.8,629.8 842.0,632.2 842.1,630.7 842.3,631.0 842.5,630.6 842.7,631.8 842.9,630.5 843.0,630.0 843.2,632.6 843.4,629.5 843.6,632.5 843.8,631.2 843.9,632.4 844.1,632.5 844.3,633.3 844.5,629.3 844.7,631.5 844.8,632.0 845.0,630.1 845.2,626.7 845.4,628.5 845.5,627.8 845.7,628.3 845.9,631.2 846.1,628.6 846.2,626.3 846.4,627.1 846.6,625.5 846.8,628.7 846.9,629.8 847.1,626.3 847.3,625.4 847.5,627.3 847.6,629.6 847.8,632.2 848.0,632.7 848.1,630.0 848.3,627.7 848.5,627.5 848.7,626.9 848.8,623.2 849.0,625.0 849.2,622.5 849.3,625.8 849.5,628.8 849.7,631.3 849.8,626.3 850.0,627.3 850.2,625.7 850.4,629.2 850.5,628.2 850.7,633.0 850.9,631.6 851.0,625.9 851.2,634.8 851.4,631.1 851.5,634.9 851.7,630.3 851.9,635.0 852.0,633.3 852.2,623.2 852.4,622.8 852.5,632.4 852.7,627.9 852.8,631.5 853.0,630.7 853.2,628.6 853.3,625.1 853.5,625.6 853.7,624.9 853.8,629.3 854.0,626.3 854.2,624.0 854.3,627.7 854.5,636.4 854.6,625.3 854.8,628.9 855.0,625.0 855.1,625.0 855.3,626.4 855.4,633.9 855.6,634.3 855.8,633.7 855.9,635.1 856.1,628.3 856.2,626.5 856.4,627.7 856.6,628.1 856.7,622.1 856.9,626.0 857.0,628.2 857.2,627.7 857.4,629.9 857.5,628.0 857.7,627.8 857.8,627.3 858.0,627.0 858.1,630.0 858.3,627.4 858.4,632.4 858.6,629.3 858.8,628.0 858.9,627.0 859.1,632.9 859.2,627.8 859.4,630.3 859.5,630.5 859.7,629.2 859.8,627.9 860.0,632.0 860.2,629.2 860.3,632.4 860.5,630.3 860.6,633.4 860.8,630.9 860.9,630.6 861.1,626.8 861.2,630.7 861.4,628.4 861.5,627.1 861.7,630.1 861.8,628.9 862.0,630.9 862.1,629.9 862.3,632.2 862.4,632.1 862.6,630.9 862.7,627.0 862.9,632.6 863.0,628.5 863.2,628.0 863.3,629.1 863.5,626.9 863.6,629.3 863.8,632.9 863.9,628.6 864.1,626.1 864.2,633.0 864.4,628.8 864.5,625.7 864.7,629.2 864.8,623.7 865.0,623.0 865.1,630.2 865.3,627.4 865.4,629.0 865.5,631.7 865.7,632.3 865.8,629.5 866.0,630.5 866.1,631.8 866.3,631.5 866.4,627.2 866.6,628.4 866.7,628.4 866.9,628.5 867.0,631.3 867.1,627.7 867.3,630.9 867.4,629.0 867.6,631.4 867.7,629.6 867.9,628.3 868.0,629.0 868.1,631.3 868.3,627.5 868.4,628.4 868.6,628.4 868.7,628.8 868.9,630.1 869.0,627.3 869.1,628.7 869.3,631.9 869.4,628.4 869.6,625.5 869.7,628.8 869.8,629.9 870.0,623.7 870.1,624.8 870.3,628.1 870.4,632.0 870.5,626.1 870.7,628.5 870.8,631.2 871.0,626.1 871.1,628.1 871.2,627.4 871.4,627.6 871.5,631.9 871.7,629.3 871.8,630.7 871.9,627.7 872.1,630.7 872.2,625.2 872.3,631.2 872.5,629.5 872.6,630.4 872.7,630.2 872.9,628.6 873.0,626.8 873.2,627.3 873.3,628.3 873.4,630.6 873.6,629.5 873.7,632.9 873.8,629.9 874.0,631.9 874.1,632.1 874.2,626.1 874.4,628.9 874.5,627.6 874.6,632.6 874.8,632.4 874.9,633.0 875.0,627.5 875.2,631.7 875.3,627.7 875.4,628.7 875.6,626.3 875.7,628.8 875.8,629.3 876.0,630.7 876.1,628.2 876.2,630.3 876.4,629.9 876.5,630.1 876.6,631.1 876.8,628.2 876.9,627.3 877.0,630.2 877.2,629.6 877.3,626.5 877.4,629.2 877.6,626.4 877.7,627.4 877.8,629.5 878.0,629.7 878.1,627.2 878.2,627.7 878.3,629.8 878.5,629.6 878.6,628.5 878.7,630.1 878.9,627.5 879.0,631.8 879.1,632.1 879.2,633.3 879.4,629.5 879.5,632.0 879.6,627.0 879.8,632.6 879.9,629.1 880.0,626.4 880.1,626.8 880.3,629.0 880.4,630.9 880.5,624.1 880.7,625.0 880.8,629.3 880.9,632.9 881.0,628.1 881.2,627.7 881.3,629.9 881.4,633.1 881.5,629.0 881.7,633.1 881.8,627.0 881.9,626.1 882.0,630.0 882.2,634.3 882.3,628.5 882.4,628.7 882.5,630.7 882.7,629.9 882.8,628.6 882.9,628.6 883.0,627.9 883.2,627.0 883.3,625.7 883.4,632.0 883.5,631.9 883.7,630.6 883.8,631.1 883.9,631.4 884.0,631.7 884.2,626.1 884.3,626.1 884.4,624.9 884.5,631.8 884.6,631.6 884.8,629.1 884.9,629.5 885.0,630.1 885.1,631.6 885.3,629.7 885.4,630.3 885.5,624.4 885.6,627.6 885.7,630.8 885.9,628.5 886.0,632.9 886.1,633.3 886.2,627.0 886.3,633.6 886.5,628.4 886.6,629.1 886.7,632.6 886.8,629.5 886.9,625.2 887.1,630.8 887.2,633.2 887.3,627.7 887.4,628.5 887.5,628.7 887.7,629.1 887.8,635.6 887.9,634.7 888.0,626.2 888.1,627.8 888.3,632.3 888.4,626.8 888.5,633.8 888.6,629.1 888.7,629.5 888.8,627.4 889.0,628.7 889.1,629.5 889.2,629.2 889.3,632.0 889.4,625.6 889.6,631.0 889.7,629.5 889.8,627.1 889.9,629.4 890.0,627.4 890.1,626.0 890.3,630.4 890.4,632.3 890.5,629.7 890.6,629.0 890.7,633.7 890.8,627.2 890.9,632.9 891.1,632.4 891.2,629.4 891.3,626.1 891.4,627.0 891.5,625.1 891.6,625.7 891.8,631.7 891.9,630.8 892.0,625.2 892.1,625.8 892.2,631.8 892.3,629.1 892.4,631.2 892.6,628.8 892.7,626.5 892.8,630.1 892.9,630.6 893.0,625.0 893.1,633.6 893.2,627.6 893.3,631.6 893.5,634.1 893.6,629.2 893.7,625.8 893.8,635.0 893.9,631.3 894.0,628.8 894.1,631.7 894.2,629.4 894.4,629.1 894.5,624.7 894.6,625.0 894.7,628.6 894.8,630.3 894.9,628.5 895.0,632.3 895.1,623.6 895.3,623.0 895.4,630.9 895.5,628.5 895.6,629.6 895.7,631.5 895.8,628.2 895.9,626.0 896.0,633.7 896.1,623.8 896.2,629.4 896.4,633.6 896.5,623.0 896.6,627.6 896.7,626.7 896.8,631.9 896.9,620.8 897.0,620.8 897.1,625.7 897.2,628.4 897.3,626.2 897.4,624.1 897.6,620.4 897.7,627.2 897.8,620.5 897.9,624.2 898.0,628.8 898.1,630.3"/>
<polyline stroke="#000000" points="151.2,141.0 226.1,141.3 270.0,142.2 301.1,144.4 325.2,148.2 344.9,152.8 361.6,158.0 376.0,163.5 388.8,169.3 400.2,174.5 410.5,182.3 419.9,191.2 428.5,201.1 436.5,212.3 444.0,225.5 451.0,241.2 457.5,261.5 463.7,282.8 469.6,308.3 475.1,338.1 480.4,368.3 485.4,381.5 490.2,367.5 494.8,363.2 499.2,362.2 503.5,367.7 507.6,377.0 511.5,388.9 515.3,401.3 519.0,409.9 522.5,414.8 525.9,414.3 529.3,412.6 532.5,412.3 535.6,416.5 538.7,423.2 541.6,432.8 544.5,443.2 547.3,449.1 550.1,446.0 552.7,441.2 555.3,438.5 557.9,436.6 560.4,437.3 562.8,441.6 565.2,446.8 567.5,453.8 569.8,458.7 572.0,461.7 574.2,460.3 576.3,456.5 578.4,454.5 580.5,453.5 582.5,453.6 584.5,457.0 586.4,461.6 588.4,466.4 590.2,471.8 592.1,474.2 593.9,471.7 595.7,468.2 597.4,466.9 599.2,466.2 600.9,466.2 602.6,468.7 604.2,472.9 605.8,477.1 607.4,482.7 609.0,487.4 610.6,487.2 612.1,483.6 613.6,480.1 615.1,478.6 616.6,477.7 618.0,477.9 619.5,481.2 620.9,485.8 622.3,490.1 623.6,495.1 625.0,499.1 626.3,499.3 627.7,494.5 629.0,490.0 630.3,488.7 631.6,488.0 632.8,489.2 634.1,493.0 635.3,497.6 636.5,501.8 637.7,506.9 638.9,510.5 640.1,509.8 641.3,505.2 642.4,500.6 643.6,498.8 644.7,497.7 645.8,497.1 646.9,501.7 648.0,506.9 649.1,512.7 650.2,516.4 651.3,516.4 652.3,513.1 653.4,508.8 654.4,505.7 655.4,504.6 656.4,504.9 657.5,506.3 658.5,509.2 659.4,514.0 660.4,519.7 661.4,523.9 662.3,524.7 663.3,522.0 664.2,517.7 665.2,514.2 666.1,512.6 667.0,512.6 667.9,513.6 668.8,516.0 669.7,520.2 670.6,525.7 671.5,530.3 672.4,531.9 673.3,529.9 674.1,525.8 675.0,522.0 675.8,520.0 676.7,519.6 677.5,520.4 678.3,522.3 679.2,526.0 680.0,531.1 680.8,536.0 681.6,538.3 682.4,537.1 683.2,533.3 684.0,529.4 684.7,527.0 685.5,526.3 686.3,526.8 687.0,528.3 687.8,531.5 688.6,536.3 689.3,541.3 690.1,544.3 690.8,543.9 691.5,540.6 692.3,536.6 693.0,533.8 693.7,532.8 694.4,533.0 695.1,534.3 695.8,537.0 696.5,541.3 697.2,546.4 697.9,550.0 698.6,550.3 699.3,547.6 700.0,543.7 700.6,540.6 701.3,539.3 702.0,539.3 702.6,540.3 703.3,542.6 703.9,546.5 704.6,551.4 705.2,555.4 705.9,556.6 706.5,554.6 707.1,550.9 707.8,547.7 708.4,546.0 709.0,545.8 709.6,546.6 710.3,548.5 710.9,551.9 711.5,556.6 712.1,560.9 712.7,562.7 713.3,561.4 713.9,558.0 714.5,554.7 715.1,552.8 715.7,552.3 716.2,552.8 716.8,554.4 717.4,557.3 718.0,561.6 718.5,565.9 719.1,568.3 719.7,567.7 720.2,564.7 720.8,561.3 721.3,559.1 721.9,558.3 722.4,558.6 723.0,559.8 723.5,562.2 724.1,566.1 724.6,570.3 725.2,573.2 725.7,573.2 726.2,570.7 726.7,567.3 727.3,564.8 727.8,563.7 728.3,563.8 728.8,564.7 729.4,566.7 729.9,570.1 730.4,574.2 730.9,577.4 731.4,578.1 731.9,576.1 732.4,572.9 732.9,570.1 733.4,568.8 733.9,568.6 734.4,569.3 734.9,570.9 735.4,573.8 735.8,577.7 736.3,581.1 736.8,582.4 737.3,581.0 737.8,578.0 738.2,575.2 738.7,573.5 739.2,573.1 739.7,573.6 740.1,574.9 740.6,577.4 741.1,581.0 741.5,584.5 742.0,586.3 742.4,585.4 742.9,582.8 743.3,579.9 743.8,578.0 744.2,577.4 744.7,577.6 745.1,578.6 745.6,580.7 746.0,583.9 746.5,587.4 746.9,589.6 747.3,589.3 747.8,587.0 748.2,584.2 748.6,582.1 749.1,581.2 749.5,581.4 749.9,582.1 750.3,583.9 750.8,586.7 751.2,590.2 751.6,592.9 752.0,593.2 752.4,591.5 752.9,588.6 753.3,586.4 753.7,585.2 754.1,585.4 754.5,585.6 754.9,587.5 755.3,590.0 755.7,592.8 756.1,595.4 756.5,596.8 756.9,594.9 757.3,592.4 757.7,590.5 758.1,589.1 758.5,589.0 758.9,588.8 759.3,590.4 759.7,592.4 760.1,594.9 760.5,597.8 760.8,599.3 761.2,599.1 761.6,597.0 762.0,593.6 762.4,592.9 762.8,591.8 763.1,592.9 763.5,594.0 763.9,594.9 764.3,598.8 764.6,601.6 765.0,602.8 765.4,601.8 765.7,600.0 766.1,597.6 766.5,596.2 766.8,594.9 767.2,595.7 767.6,595.4 767.9,596.9 768.3,600.0 768.6,602.6 769.0,604.1 769.4,603.9 769.7,602.0 770.1,599.9 770.4,598.5 770.8,597.2 771.1,597.5 771.5,598.0 771.8,598.6 772.2,601.2 772.5,604.2 772.9,605.8 773.2,606.2 773.5,605.5 773.9,602.4 774.2,600.3 774.6,600.1 774.9,599.4 775.2,599.3 775.6,600.3 775.9,602.2 776.2,604.4 776.6,607.6 776.9,607.7 777.2,606.9 777.6,605.2 777.9,603.2 778.2,602.9 778.6,601.7 778.9,602.1 779.2,604.2 779.5,605.6 779.9,607.5 780.2,610.0 780.5,611.9 780.8,611.4 781.1,608.1 781.5,605.7 781.8,605.9 782.1,605.2 782.4,603.9 782.7,605.0 783.0,605.8 783.3,608.5 783.7,611.1 784.0,611.7 784.3,610.9 784.6,610.2 784.9,606.6 785.2,606.2 785.5,605.9 785.8,605.3 786.1,606.6 786.4,608.7 786.7,609.3 787.0,612.7 787.3,614.8 787.6,614.6 787.9,613.3 788.2,610.3 788.5,609.6 788.8,608.4 789.1,610.0 789.4,609.1 789.7,609.7 790.0,611.0 790.3,612.7 790.6,616.5 790.9,616.6 791.2,615.2 791.5,614.2 791.8,612.1 792.0,610.3 792.3,609.9 792.6,610.1 792.9,610.5 793.2,611.7 793.5,614.5 793.8,614.9 794.0,618.7 794.3,615.4 794.6,615.2 794.9,614.7 795.2,613.0 795.5,613.5 795.7,613.4 796.0,614.4 796.3,613.8 796.6,617.1 796.8,618.3 797.1,619.9 797.4,618.7 797.7,617.6 797.9,615.1 798.2,613.6 798.5,614.5 798.8,615.5 799.0,615.5 799.3,614.4 799.6,618.2 799.8,618.8 800.1,622.4 800.4,622.9 800.6,619.0 800.9,617.9 801.2,616.3 801.4,617.1 801.7,615.0 802.0,617.6 802.2,616.0 802.5,619.5 802.7,621.3 803.0,623.4 803.3,621.7 803.5,621.3 803.8,620.1 804.0,618.3 804.3,620.0 804.6,619.2 804.8,619.8 805.1,620.6 805.3,621.6 805.6,624.1 805.8,625.0 806.1,627.1 806.3,624.8 806.6,623.1 806.8,622.2 807.1,621.6 807.3,621.9 807.6,621.7 807.8,621.8 808.1,624.1 808.3,623.1 808.6,624.7 808.8,628.4 809.1,626.1 809.3,626.7 809.6,623.9 809.8,623.3 810.1,622.7 810.3,625.7 810.6,624.6 810.8,624.3 811.0,627.2 811.3,628.8 811.5,631.7 811.8,630.0 812.0,627.1 812.2,625.9 812.5,626.9 812.7,626.5 813.0,622.8 813.2,624.2 813.4,623.7 813.7,628.5 813.9,628.7 814.1,627.4 814.4,627.8 814.6,629.8 814.8,625.6 815.1,624.5 815.3,626.0 815.5,624.3 815.8,621.8 816.0,626.3 816.2,627.7 816.5,628.5 816.7,631.5 816.9,628.0 817.2,631.3 817.4,629.3 817.6,624.7 817.8,623.3 818.1,625.6 818.3,624.2 818.5,623.4 818.7,625.0 819.0,625.4 819.2,628.1 819.4,631.8 819.6,629.2 819.9,626.0 820.1,625.8 820.3,628.0 820.5,624.3 820.7,623.4 821.0,627.6 821.2,624.6 821.4,630.0 821.6,629.5 821.8,628.6 822.1,631.7 822.3,629.4 822.5,628.8 822.7,623.9 822.9,625.1 823.2,625.0 823.4,626.3 823.6,622.9 823.8,625.5 824.0,627.9 824.2,627.6 824.4,629.8 824.7,625.5 824.9,627.0 825.1,625.1 825.3,623.4 825.5,622.0 825.7,620.7 825.9,624.5 826.1,624.7 826.3,627.9 826.6,627.6 826.8,627.2 827.0,625.5 827.2,625.3 827.4,625.4 827.6,622.4 827.8,624.0 828.0,624.6 828.2,623.8 828.4,625.5 828.6,625.1 828.8,628.5 829.0,626.7 829.2,627.5 829.5,627.5 829.7,625.9 829.9,624.4 830.1,623.0 830.3,626.3 830.5,624.9 830.7,624.8 830.9,628.1 831.1,626.6 831.3,627.0 831.5,626.9 831.7,626.7 831.9,625.1 832.1,625.6 832.3,626.0 832.5,624.1 832.7,623.1 832.9,626.5 833.1,626.2 833.3,628.5 833.5,628.2 833.7,626.7 833.9,628.2 834.0,624.6 834.2,623.5 834.4,622.5 834.6,623.7 834.8,623.1 835.0,621.4 835.2,623.9 835.4,624.6 835.6,627.9 835.8,628.3 836.0,624.8 836.2,623.1 836.4,622.0 836.6,625.4 836.8,624.3 836.9,624.5 837.1,622.1 837.3,627.3 837.5,627.6 837.7,627.0 837.9,628.1 838.1,629.6 838.3,628.8 838.5,626.3 838.6,626.7 838.8,621.6 839.0,623.3 839.2,626.8 839.4,623.0 839.6,623.9 839.8,628.9 839.9,628.8 840.1,629.2 840.3,624.4 840.5,627.2 840.7,623.2 840.9,625.5 841.0,622.3 841.2,625.9 841.4,627.1 841.6,624.2 841.8,628.4 842.0,627.6 842.1,627.8 842.3,625.3 842.5,626.6 842.7,622.6 842.9,623.7 843.0,622.1 843.2,623.8 843.4,625.4 843.6,624.2 843.8,627.6 843.9,627.0 844.1,628.6 844.3,628.3 844.5,626.3 844.7,626.5 844.8,623.0 845.0,623.5 845.2,622.4 845.4,620.5 845.5,623.2 845.7,626.5 845.9,626.2 846.1,626.7 846.2,628.0 846.4,628.4 846.6,622.8 846.8,625.6 846.9,628.1 847.1,622.1 847.3,621.6 847.5,626.8 847.6,624.0 847.8,633.3 848.0,625.9 848.1,632.0 848.3,633.5 848.5,626.8 848.7,632.2 848.8,629.8 849.0,624.4 849.2,628.3 849.3,626.5 849.5,627.0 849.7,631.6 849.8,630.6 850.0,624.2 850.2,630.1 850.4,627.2 850.5,621.0 850.7,625.8 850.9,622.3 851.0,622.6 851.2,627.4 851.4,623.3 851.5,623.7 851.7,623.9 851.9,630.0 852.0,627.4 852.2,625.4 852.4,623.4 852.5,627.2 852.7,624.7 852.8,625.1 853.0,624.5 853.2,625.0 853.3,628.0 853.5,629.6 853.7,627.0 853.8,631.0 854.0,628.4 854.2,629.4 854.3,628.7 854.5,628.7 854.6,624.4 854.8,627.5 855.0,626.9 855.1,626.7 855.3,630.4 855.4,626.0 855.6,627.7 855.8,626.8 855.9,626.9 856.1,623.4 856.2,625.1 856.4,626.8 856.6,625.9 856.7,624.7 856.9,625.8 857.0,625.8 857.2,626.8 857.4,624.6 857.5,626.4 857.7,624.9 857.8,625.4 858.0,627.1 858.1,623.4 858.3,623.9 858.4,624.7 858.6,628.2 858.8,629.0 858.9,630.4 859.1,628.7 859.2,628.9 859.4,626.8 859.5,627.6 859.7,627.7 859.8,627.5 860.0,627.9 860.2,626.5 860.3,626.8 860.5,626.1 860.6,626.0 860.8,629.2 860.9,629.3 861.1,627.5 861.2,626.8 861.4,624.8 861.5,626.8 861.7,627.1 861.8,624.9 862.0,627.3 862.1,626.9 862.3,629.1 862.4,628.9 862.6,626.9 862.7,625.7 862.9,625.2 863.0,624.1 863.2,622.4 863.3,620.4 863.5,623.3 863.6,624.4 863.8,625.2 863.9,626.5 864.1,626.2 864.2,626.1 864.4,626.3 864.5,624.7 864.7,620.0 864.8,622.6 865.0,624.4 865.1,623.9 865.3,621.6 865.4,623.2 865.5,626.0 865.7,626.2 865.8,624.6 866.0,626.1 866.1,625.9 866.3,628.2 866.4,624.7 866.6,624.3 866.7,625.9 866.9,625.7 867.0,626.7 867.1,627.7 867.3,627.6 867.4,623.9 867.6,625.0 867.7,623.9 867.9,625.4 868.0,627.6 868.1,627.2 868.3,625.4 868.4,625.6 868.6,624.0 868.7,628.4 868.9,624.9 869.0,626.4 869.1,624.8 869.3,625.1 869.4,624.9 869.6,625.2 869.7,624.7 869.8,624.9 870.0,622.8 870.1,625.8 870.3,625.9 870.4,625.4 870.5,625.8 870.7,628.6 870.8,627.7 871.0,626.9 871.1,627.3 871.2,627.4 871.4,624.9 871.5,625.6 871.7,627.5 871.8,628.2 871.9,624.7 872.1,629.7 872.2,627.7 872.3,625.6 872.5,627.4 872.6,625.8 872.7,622.4 872.9,623.2 873.0,623.6 873.2,627.9 873.3,624.2 873.4,626.7 873.6,624.1 873.7,627.3 873.8,624.5 874.0,622.9 874.1,625.8 874.2,626.4 874.4,623.3 874.5,623.7 874.6,623.4 874.8,628.5 874.9,624.2 875.0,626.6 875.2,624.8 875.3,624.5 875.4,627.3 875.6,626.3 875.7,625.4 875.8,626.3 876.0,624.4 876.1,625.0 876.2,622.7 876.4,626.2 876.5,625.5 876.6,625.3 876.8,627.0 876.9,625.1 877.0,625.9 877.2,625.8 877.3,625.9 877.4,624.8 877.6,625.8 877.7,625.8 877.8,627.5 878.0,626.1 878.1,628.7 878.2,629.0 878.3,626.5 878.5,627.1 878.6,627.2 878.7,626.6 878.9,626.1 879.0,625.2 879.1,626.7 879.2,626.2 879.4,627.2 879.5,626.3 879.6,626.5 879.8,628.1 879.9,625.7 880.0,625.1 880.1,624.5 880.3,622.7 880.4,625.3 880.5,624.6 880.7,624.6 880.8,623.9 880.9,624.2 881.0,624.5 881.2,623.4 881.3,623.8 881.4,624.9 881.5,625.7 881.7,624.4 881.8,621.7 881.9,622.1 882.0,621.6 882.2,623.7 882.3,624.2 882.4,624.6 882.5,621.4 882.7,624.0 882.8,623.8 882.9,623.0 883.0,622.7 883.2,626.6 883.3,627.0 883.4,622.4 883.5,629.2 883.7,622.9 883.8,629.7 883.9,626.6 884.0,624.1 884.2,627.7 884.3,628.5 884.4,627.4 884.5,630.0 884.6,626.7 884.8,629.2 884.9,629.4 885.0,629.8 885.1,630.5 885.3,624.2 885.4,628.0 885.5,623.2 885.6,628.3 885.7,624.1 885.9,627.3 886.0,622.7 886.1,625.7 886.2,625.5 886.3,625.9 886.5,623.6 886.6,623.8 886.7,628.8 886.8,628.5 886.9,625.1 887.1,624.1 887.2,623.0 887.3,626.0 887.4,625.3 887.5,628.5 887.7,627.5 887.8,629.0 887.9,623.6 888.0,622.8 888.1,628.4 888.3,623.4 888.4,623.2 888.5,624.6 888.6,627.1 888.7,628.5 888.8,627.4 889.0,628.6 889.1,626.4 889.2,624.4 889.3,629.1 889.4,629.0 889.6,627.3 889.7,626.0 889.8,628.0 889.9,624.2 890.0,629.0 890.1,628.1 890.3,625.4 890.4,625.8 890.5,630.5 890.6,624.0 890.7,624.6 890.8,623.4 890.9,628.0 891.1,625.8 891.2,626.0 891.3,622.3 891.4,624.6 891.5,621.4 891.6,626.5 891.8,627.0 891.9,626.1 892.0,625.1 892.1,626.6 892.2,627.2 892.3,627.9 892.4,623.9 892.6,624.4 892.7,624.8 892.8,625.8 892.9,626.5 893.0,628.1 893.1,625.3 893.2,625.6 893.3,627.5 893.5,625.2 893.6,626.8 893.7,623.5 893.8,624.8 893.9,624.7 894.0,624.6 894.1,623.0 894.2,624.7 894.4,625.9 894.5,625.8 894.6,625.1 894.7,623.7 894.8,625.4 894.9,624.7 895.0,623.5 895.1,626.8 895.3,626.1 895.4,628.4 895.5,626.9 895.6,626.5 895.7,626.8 895.8,625.4 895.9,627.4 896.0,625.7 896.1,626.8 896.2,628.4 896.4,629.0 896.5,627.7 896.6,628.1 896.7,627.2 896.8,627.8 896.9,627.1 897.0,623.8 897.1,627.0 897.2,628.7 897.3,622.9 897.4,624.9 897.6,625.2 897.7,625.3 897.8,625.8 897.9,625.2 898.0,626.6 898.1,628.2"/>
<polyline stroke="#8A2BE2" stroke-dasharray="7.9 7.9" points="151.2,141.8 226.1,142.0 270.0,142.6 301.1,144.6 325.2,148.2 344.9,152.3 361.6,157.3 376.0,162.6 388.8,168.1 400.2,174.1 410.5,180.4 419.9,188.9 428.5,198.5 436.5,209.4 444.0,222.1 451.0,235.2 457.5,250.1 463.7,266.2 469.6,290.8 475.1,325.6 480.4,361.7 485.4,388.8 490.2,366.7 494.8,350.9 499.2,347.1 503.5,347.7 507.6,352.8 511.5,363.0 515.3,377.9 519.0,399.3 522.5,418.1 525.9,428.1 529.3,423.7 532.5,415.2 535.6,408.0 538.7,412.0 541.6,421.2 544.5,433.1 547.3,441.6 550.1,447.7 552.7,449.9 555.3,450.8 557.9,448.5 560.4,444.0 562.8,442.4 565.2,445.2 567.5,449.3 569.8,454.1 572.0,458.6 574.2,461.0 576.3,462.6 578.4,464.1 580.5,465.3 582.5,466.5 584.5,467.9 586.4,469.7 588.4,471.7 590.2,473.7 592.1,475.3 593.9,476.7 595.7,478.0 597.4,479.3 599.2,480.5 600.9,481.8 602.6,483.0 604.2,484.3 605.8,485.8 607.4,487.7 609.0,489.5 610.6,490.9 612.1,491.6 613.6,492.0 615.1,492.3 616.6,492.6 618.0,493.0 619.5,494.0 620.9,495.8 622.3,498.0 623.6,500.7 625.0,505.4 626.3,509.0 627.7,508.6 629.0,506.7 630.3,504.7 631.6,502.3 632.8,500.2 634.1,500.9 635.3,506.1 636.5,511.2 637.7,513.4 638.9,515.0 640.1,516.1 641.3,516.8 642.4,516.7 643.6,516.5 644.7,516.5 645.8,516.8 646.9,518.1 648.0,520.9 649.1,524.7 650.2,527.8 651.3,528.4 652.3,525.9 653.4,522.2 654.4,519.5 655.4,518.5 656.4,518.7 657.5,519.9 658.5,522.4 659.4,526.5 660.4,531.4 661.4,535.1 662.3,535.9 663.3,533.5 664.2,529.9 665.2,526.9 666.1,525.5 667.0,525.5 667.9,526.5 668.8,528.6 669.7,532.4 670.6,537.2 671.5,541.4 672.4,542.8 673.3,541.1 674.1,537.6 675.0,534.4 675.8,532.7 676.7,532.4 677.5,533.2 678.3,534.9 679.2,538.3 680.0,542.9 680.8,547.4 681.6,549.5 682.4,548.5 683.2,545.2 684.0,541.8 684.7,539.7 685.5,539.2 686.3,539.7 687.0,541.1 687.8,544.1 688.6,548.4 689.3,553.0 690.1,555.8 690.8,555.5 691.5,552.6 692.3,549.0 693.0,546.6 693.7,545.7 694.4,546.0 695.1,547.1 695.8,549.6 696.5,553.7 697.2,558.3 697.9,561.6 698.6,562.0 699.3,559.5 700.0,556.0 700.6,553.2 701.3,552.0 702.0,552.0 702.6,552.9 703.3,555.0 703.9,558.7 704.6,563.4 705.2,567.1 705.9,568.3 706.5,566.4 707.1,562.9 707.8,559.9 708.4,558.4 709.0,558.2 709.6,558.9 710.3,560.7 710.9,564.0 711.5,568.5 712.1,572.6 712.7,574.4 713.3,573.2 713.9,569.9 714.5,566.7 715.1,564.8 715.7,564.4 716.2,564.9 716.8,566.4 717.4,569.2 718.0,573.4 718.5,577.6 719.1,580.0 719.7,579.3 720.2,576.4 720.8,573.1 721.3,570.9 721.9,570.1 722.4,570.4 723.0,571.5 723.5,573.9 724.1,577.7 724.6,581.9 725.2,584.7 725.7,584.7 726.2,582.2 726.7,578.8 727.3,576.3 727.8,575.3 728.3,575.3 728.8,576.1 729.4,578.1 729.9,581.4 730.4,585.5 730.9,588.6 731.4,589.3 731.9,587.3 732.4,584.1 732.9,581.3 733.4,579.9 733.9,579.7 734.4,580.3 734.9,581.9 735.4,584.8 735.8,588.7 736.3,592.1 736.8,593.4 737.3,591.9 737.8,588.9 738.2,586.0 738.7,584.3 739.2,583.9 739.7,584.3 740.1,585.5 740.6,588.0 741.1,591.6 741.5,595.2 742.0,597.0 742.4,596.1 742.9,593.4 743.3,590.3 743.8,588.3 744.2,587.6 744.7,587.8 745.1,588.8 745.6,591.0 746.0,594.4 746.5,598.1 746.9,600.3 747.3,600.1 747.8,597.7 748.2,594.8 748.6,592.7 749.1,591.9 749.5,591.7 749.9,592.4 750.3,594.4 750.8,597.2 751.2,600.9 751.6,603.6 752.0,603.6 752.4,601.7 752.9,598.4 753.3,596.3 753.7,595.1 754.1,595.0 754.5,595.4 754.9,596.9 755.3,599.3 755.7,603.3 756.1,606.2 756.5,606.8 756.9,605.3 757.3,602.2 757.7,600.2 758.1,598.5 758.5,598.0 758.9,598.4 759.3,599.8 759.7,602.0 760.1,605.2 760.5,608.3 760.8,609.5 761.2,608.8 761.6,605.9 762.0,604.1 762.4,601.9 762.8,601.2 763.1,602.0 763.5,602.1 763.9,604.3 764.3,607.6 764.6,610.5 765.0,613.1 765.4,612.8 765.7,609.8 766.1,607.4 766.5,605.1 766.8,605.2 767.2,604.8 767.6,605.8 767.9,606.7 768.3,610.5 768.6,613.4 769.0,615.8 769.4,614.2 769.7,612.6 770.1,609.9 770.4,608.5 770.8,607.8 771.1,608.1 771.5,608.6 771.8,608.3 772.2,611.6 772.5,614.4 772.9,617.1 773.2,617.7 773.5,616.9 773.9,612.9 774.2,610.8 774.6,610.1 774.9,610.7 775.2,610.4 775.6,610.5 775.9,614.4 776.2,615.8 776.6,619.6 776.9,620.1 777.2,618.6 777.6,616.7 777.9,614.9 778.2,613.3 778.6,612.8 778.9,611.8 779.2,613.2 779.5,616.1 779.9,618.2 780.2,622.0 780.5,622.7 780.8,623.0 781.1,620.8 781.5,618.1 781.8,616.8 782.1,615.6 782.4,616.2 782.7,615.5 783.0,617.2 783.3,619.5 783.7,623.9 784.0,625.2 784.3,624.3 784.6,623.2 784.9,620.3 785.2,619.8 785.5,618.2 785.8,618.6 786.1,618.6 786.4,620.6 786.7,621.4 787.0,624.3 787.3,626.3 787.6,626.6 787.9,627.1 788.2,624.3 788.5,621.1 788.8,621.7 789.1,620.0 789.4,621.7 789.7,621.5 790.0,623.7 790.3,626.8 790.6,628.5 790.9,629.3 791.2,629.7 791.5,627.6 791.8,625.5 792.0,623.2 792.3,622.4 792.6,625.1 792.9,625.2 793.2,625.5 793.5,628.5 793.8,631.0 794.0,633.4 794.3,629.9 794.6,628.5 794.9,626.4 795.2,626.5 795.5,623.6 795.7,624.8 796.0,625.2 796.3,627.7 796.6,629.7 796.8,631.8 797.1,633.4 797.4,631.0 797.7,629.7 797.9,627.7 798.2,626.4 798.5,624.1 798.8,625.0 799.0,625.5 799.3,627.7 799.6,627.2 799.8,631.0 800.1,633.2 800.4,630.8 800.6,630.4 800.9,627.3 801.2,626.3 801.4,624.4 801.7,623.6 802.0,625.3 802.2,625.6 802.5,627.8 802.7,628.4 803.0,631.4 803.3,631.7 803.5,631.4 803.8,629.7 804.0,626.1 804.3,626.5 804.6,626.1 804.8,625.7 805.1,626.1 805.3,627.3 805.6,629.4 805.8,631.2 806.1,631.8 806.3,630.6 806.6,628.3 806.8,626.6 807.1,625.1 807.3,625.2 807.6,624.6 807.8,624.0 808.1,625.4 808.3,628.6 808.6,629.6 808.8,630.4 809.1,629.6 809.3,628.0 809.6,627.8 809.8,626.6 810.1,625.7 810.3,625.6 810.6,626.8 810.8,627.8 811.0,628.2 811.3,631.5 811.5,632.6 811.8,632.8 812.0,629.6 812.2,628.9 812.5,626.4 812.7,626.7 813.0,625.2 813.2,627.0 813.4,626.3 813.7,628.5 813.9,629.1 814.1,630.6 814.4,633.3 814.6,631.5 814.8,630.5 815.1,629.1 815.3,628.6 815.5,627.3 815.8,628.6 816.0,628.2 816.2,630.2 816.5,632.9 816.7,632.4 816.9,633.3 817.2,632.0 817.4,629.9 817.6,627.0 817.8,625.5 818.1,626.3 818.3,625.3 818.5,626.3 818.7,628.3 819.0,628.7 819.2,630.3 819.4,629.5 819.6,632.2 819.9,629.3 820.1,625.9 820.3,624.9 820.5,624.5 820.7,625.6 821.0,628.0 821.2,626.0 821.4,627.2 821.6,631.9 821.8,633.5 822.1,632.5 822.3,627.4 822.5,628.1 822.7,626.2 822.9,626.1 823.2,625.2 823.4,627.9 823.6,628.6 823.8,627.5 824.0,630.0 824.2,631.1 824.4,628.5 824.7,631.5 824.9,628.4 825.1,628.3 825.3,626.0 825.5,625.9 825.7,626.8 825.9,626.0 826.1,629.1 826.3,625.4 826.6,627.5 826.8,627.0 827.0,629.7 827.2,630.4 827.4,624.0 827.6,627.0 827.8,622.0 828.0,626.5 828.2,627.3 828.4,624.6 828.6,627.4 828.8,629.0 829.0,628.7 829.2,629.7 829.5,625.4 829.7,627.9 829.9,627.8 830.1,622.9 830.3,626.0 830.5,622.5 830.7,628.7 830.9,625.0 831.1,629.9 831.3,628.8 831.5,632.7 831.7,631.9 831.9,627.2 832.1,629.8 832.3,624.1 832.5,626.0 832.7,625.7 832.9,624.8 833.1,627.0 833.3,630.5 833.5,630.3 833.7,628.4 833.9,630.5 834.0,626.7 834.2,626.1 834.4,623.8 834.6,625.3 834.8,625.1 835.0,626.2 835.2,626.2 835.4,627.0 835.6,631.0 835.8,631.9 836.0,629.0 836.2,625.6 836.4,629.2 836.6,624.2 836.8,625.7 836.9,623.6 837.1,627.9 837.3,626.0 837.5,629.2 837.7,628.6 837.9,631.8 838.1,627.5 838.3,627.7 838.5,626.7 838.6,628.4 838.8,624.6 839.0,625.2 839.2,625.2 839.4,630.2 839.6,627.3 839.8,634.0 839.9,630.2 840.1,631.4 840.3,632.6 840.5,627.2 840.7,626.8 840.9,629.0 841.0,627.0 841.2,629.6 841.4,628.8 841.6,630.7 841.8,631.8 842.0,627.8 842.1,625.8 842.3,629.7 842.5,630.8 842.7,629.9 842.9,629.7 843.0,625.3 843.2,625.9 843.4,630.1 843.6,627.3 843.8,627.4 843.9,633.9 844.1,631.2 844.3,634.5 844.5,633.3 844.7,629.0 844.8,627.6 845.0,631.2 845.2,629.9 845.4,626.6 845.5,629.7 845.7,631.9 845.9,630.5 846.1,629.0 846.2,628.4 846.4,630.7 846.6,627.1 846.8,625.1 846.9,627.0 847.1,629.4 847.3,626.9 847.5,625.1 847.6,629.2 847.8,629.4 848.0,632.1 848.1,631.6 848.3,629.3 848.5,625.6 848.7,630.3 848.8,626.6 849.0,625.9 849.2,626.9 849.3,630.0 849.5,630.8 849.7,629.3 849.8,633.0 850.0,631.3 850.2,627.7 850.4,626.3 850.5,628.0 850.7,627.0 850.9,623.7 851.0,626.8 851.2,626.6 851.4,627.8 851.5,629.5 851.7,632.3 851.9,628.0 852.0,629.6 852.2,628.9 852.4,627.2 852.5,626.6 852.7,626.2 852.8,625.4 853.0,624.8 853.2,628.2 853.3,628.3 853.5,628.0 853.7,626.9 853.8,630.3 854.0,627.5 854.2,626.5 854.3,629.8 854.5,628.9 854.6,627.2 854.8,628.7 855.0,629.0 855.1,628.5 855.3,629.6 855.4,629.9 855.6,626.5 855.8,625.0 855.9,624.6 856.1,623.4 856.2,622.5 856.4,623.3 856.6,623.1 856.7,627.5 856.9,627.1 857.0,626.4 857.2,630.4 857.4,630.5 857.5,626.0 857.7,627.0 857.8,628.7 858.0,625.2 858.1,628.2 858.3,626.0 858.4,624.3 858.6,625.3 858.8,630.3 858.9,627.7 859.1,628.9 859.2,625.8 859.4,626.0 859.5,624.4 859.7,628.4 859.8,627.2 860.0,629.0 860.2,625.6 860.3,628.5 860.5,629.8 860.6,629.9 860.8,629.4 860.9,627.2 861.1,632.1 861.2,625.4 861.4,628.2 861.5,629.2 861.7,629.1 861.8,632.8 862.0,634.4 862.1,629.1 862.3,632.6 862.4,630.1 862.6,634.6 862.7,627.1 862.9,627.5 863.0,626.8 863.2,629.2 863.3,630.1 863.5,627.9 863.6,626.8 863.8,628.4 863.9,631.7 864.1,633.2 864.2,629.0 864.4,627.8 864.5,631.4 864.7,628.2 864.8,630.6 865.0,629.1 865.1,627.5 865.3,630.2 865.4,631.8 865.5,630.0 865.7,628.2 865.8,631.8 866.0,627.7 866.1,628.2 866.3,628.6 866.4,627.2 866.6,627.5 866.7,628.4 866.9,625.4 867.0,628.8 867.1,627.0 867.3,631.1 867.4,627.7 867.6,629.9 867.7,626.8 867.9,629.2 868.0,626.6 868.1,629.5 868.3,626.6 868.4,626.9 868.6,630.6 868.7,627.8 868.9,631.6 869.0,628.8 869.1,633.2 869.3,627.4 869.4,631.2 869.6,627.6 869.7,630.9 869.8,627.2 870.0,630.7 870.1,631.2 870.3,625.5 870.4,627.2 870.5,632.0 870.7,628.4 870.8,625.9 871.0,631.6 871.1,625.4 871.2,628.1 871.4,626.4 871.5,625.7 871.7,630.0 871.8,631.1 871.9,630.7 872.1,629.0 872.2,630.8 872.3,631.4 872.5,632.1 872.6,624.7 872.7,630.3 872.9,624.7 873.0,626.5 873.2,622.1 873.3,623.1 873.4,627.2 873.6,627.3 873.7,622.5 873.8,624.7 874.0,621.0 874.1,626.4 874.2,628.8 874.4,621.7 874.5,622.9 874.6,627.2 874.8,623.1 874.9,623.6 875.0,625.2 875.2,623.2 875.3,628.7 875.4,626.3 875.6,630.3 875.7,624.9 875.8,622.0 876.0,625.2 876.1,629.9 876.2,627.4 876.4,626.0 876.5,631.4 876.6,631.3 876.8,627.1 876.9,627.5 877.0,627.8 877.2,627.4 877.3,627.6 877.4,626.3 877.6,625.2 877.7,629.4 877.8,627.8 878.0,626.3 878.1,629.7 878.2,626.1 878.3,631.7 878.5,629.7 878.6,628.9 878.7,625.2 878.9,626.9 879.0,627.3 879.1,630.1 879.2,627.9 879.4,630.7 879.5,629.2 879.6,630.9 879.8,630.6 879.9,627.8 880.0,630.5 880.1,632.2 880.3,628.7 880.4,628.5 880.5,630.3 880.7,627.3 880.8,628.7 880.9,627.9 881.0,625.2 881.2,626.2 881.3,624.5 881.4,624.6 881.5,625.5 881.7,627.5 881.8,624.9 881.9,627.1 882.0,627.3 882.2,627.6 882.3,629.4 882.4,631.2 882.5,630.5 882.7,629.0 882.8,629.7 882.9,627.3 883.0,626.5 883.2,626.7 883.3,625.5 883.4,625.7 883.5,629.1 883.7,626.9 883.8,626.4 883.9,627.7 884.0,625.3 884.2,626.6 884.3,630.2 884.4,625.4 884.5,625.6 884.6,628.2 884.8,627.4 884.9,630.6 885.0,628.3 885.1,629.5 885.3,627.5 885.4,627.7 885.5,625.4 885.6,627.8 885.7,625.3 885.9,626.8 886.0,631.5 886.1,632.7 886.2,633.0 886.3,631.2 886.5,626.2 886.6,631.7 886.7,625.1 886.8,627.4 886.9,629.4 887.1,630.1 887.2,623.1 887.3,625.5 887.4,624.6 887.5,624.2 887.7,625.6 887.8,630.5 887.9,628.0 888.0,628.1 888.1,631.3 888.3,631.1 888.4,628.7 888.5,624.6 888.6,625.5 888.7,630.4 888.8,628.0 889.0,626.6 889.1,627.9 889.2,630.2 889.3,628.0 889.4,631.9 889.6,630.3 889.7,628.6 889.8,629.3 889.9,627.9 890.0,625.8 890.1,625.4 890.3,626.2 890.4,627.5 890.5,628.2 890.6,627.3 890.7,628.0 890.8,630.7 890.9,629.2 891.1,626.2 891.2,627.0 891.3,630.0 891.4,629.9 891.5,626.5 891.6,630.6 891.8,626.8 891.9,625.2 892.0,629.3 892.1,625.6 892.2,628.5 892.3,626.6 892.4,630.3 892.6,626.7 892.7,630.7 892.8,628.8 892.9,629.0 893.0,625.5 893.1,629.3 893.2,629.4 893.3,625.4 893.5,625.6 893.6,632.2 893.7,632.0 893.8,624.7 893.9,629.8 894.0,627.5 894.1,631.6 894.2,629.4 894.4,623.9 894.5,624.5 894.6,627.6 894.7,630.8 894.8,625.4 894.9,628.1 895.0,630.6 895.1,623.1 895.3,628.2 895.4,629.7 895.5,633.3 895.6,626.4 895.7,629.0 895.8,625.7 895.9,631.6 896.0,620.9 896.1,627.5 896.2,627.3 896.4,632.3 896.5,626.8 896.6,630.9 896.7,622.6 896.8,631.6 896.9,625.1 897.0,629.8 897.1,628.9 897.2,631.2 897.3,630.4 897.4,628.5 897.6,626.9 897.7,627.3 897.8,630.9 897.9,631.3 898.0,627.8 898.1,627.9"/>
<polyline stroke="#0000FF" stroke-dasharray="7.9 7.9" points="151.2,142.5 226.1,142.5 270.0,143.0 301.1,144.8 325.2,148.2 344.9,151.5 361.6,156.0 376.0,160.0 388.8,164.6 400.2,169.0 410.5,174.7 419.9,181.3 428.5,188.8 436.5,198.5 444.0,209.0 451.0,220.6 457.5,235.2 463.7,250.9 469.6,270.8 475.1,300.2 480.4,335.8 485.4,353.6 490.2,337.4 494.8,326.9 499.2,320.7 503.5,321.8 507.6,325.0 511.5,335.7 515.3,348.9 519.0,363.5 522.5,379.3 525.9,389.3 529.3,385.7 532.5,381.1 535.6,376.2 538.7,374.3 541.6,376.4 544.5,380.5 547.3,388.0 550.1,396.3 552.7,404.8 555.3,409.4 557.9,412.2 560.4,411.6 562.8,410.4 565.2,409.8 567.5,409.4 569.8,409.4 572.0,411.4 574.2,414.4 576.3,418.4 578.4,423.5 580.5,428.3 582.5,433.5 584.5,435.6 586.4,434.5 588.4,432.7 590.2,432.0 592.1,432.0 593.9,432.2 595.7,433.5 597.4,438.3 599.2,443.2 600.9,446.3 602.6,449.1 604.2,450.7 605.8,450.2 607.4,448.4 609.0,447.4 610.6,448.6 612.1,451.0 613.6,453.6 615.1,456.0 616.6,458.7 618.0,460.8 619.5,462.1 620.9,463.0 622.3,463.8 623.6,464.4 625.0,464.9 626.3,465.2 627.7,465.7 629.0,466.4 630.3,468.0 631.6,470.0 632.8,472.0 634.1,473.8 635.3,475.9 636.5,477.9 637.7,479.2 638.9,479.7 640.1,479.8 641.3,479.8 642.4,479.9 643.6,480.0 644.7,480.3 645.8,481.5 646.9,483.2 648.0,485.0 649.1,486.7 650.2,487.9 651.3,488.5 652.3,489.0 653.4,489.4 654.4,489.8 655.4,490.1 656.4,490.5 657.5,490.8 658.5,491.2 659.4,491.7 660.4,492.2 661.4,492.7 662.3,493.3 663.3,493.8 664.2,494.4 665.2,495.0 666.1,495.6 667.0,496.3 667.9,497.0 668.8,497.8 669.7,498.7 670.6,499.6 671.5,500.6 672.4,501.8 673.3,503.0 674.1,503.5 675.0,503.6 675.8,503.7 676.7,503.9 677.5,504.4 678.3,505.4 679.2,507.4 680.0,510.4 680.8,513.3 681.6,514.9 682.4,514.6 683.2,513.0 684.0,511.2 684.7,510.3 685.5,510.2 686.3,510.7 687.0,511.8 687.8,513.7 688.6,516.5 689.3,519.4 690.1,521.2 690.8,521.2 691.5,519.7 692.3,517.8 693.0,516.6 693.7,516.3 694.4,516.6 695.1,517.5 695.8,519.1 696.5,521.6 697.2,524.5 697.9,526.6 698.6,527.0 699.3,525.8 700.0,524.0 700.6,522.6 701.3,522.1 702.0,522.4 702.6,523.1 703.3,524.5 703.9,526.8 704.6,529.6 705.2,531.9 705.9,532.7 706.5,531.9 707.1,530.1 707.8,528.6 708.4,527.9 709.0,528.0 709.6,528.6 710.3,529.8 710.9,531.8 711.5,534.5 712.1,537.0 712.7,538.2 713.3,537.6 713.9,536.0 714.5,534.4 715.1,533.5 715.7,533.5 716.2,533.9 716.8,534.9 717.4,536.7 718.0,539.2 718.5,541.7 719.1,543.2 719.7,543.1 720.2,541.6 720.8,539.9 721.3,538.9 721.9,538.6 722.4,539.0 723.0,539.8 723.5,541.3 724.1,543.6 724.6,546.1 725.2,547.8 725.7,548.0 726.2,546.8 726.7,545.2 727.3,544.0 727.8,543.6 728.3,543.8 728.8,544.5 729.4,545.7 729.9,547.7 730.4,550.2 730.9,552.1 731.4,552.6 731.9,551.7 732.4,550.2 732.9,548.9 733.4,548.3 733.9,548.4 734.4,548.9 734.9,550.0 735.4,551.7 735.8,554.0 736.3,556.1 736.8,556.9 737.3,556.3 737.8,554.9 738.2,553.5 738.7,552.8 739.2,552.8 739.7,553.2 740.1,554.1 740.6,555.6 741.1,557.7 741.5,559.8 742.0,560.9 742.4,560.7 742.9,559.5 743.3,558.1 743.8,557.2 744.2,557.0 744.7,557.4 745.1,558.2 745.6,559.5 746.0,561.2 746.5,563.3 746.9,564.9 747.3,565.0 747.8,563.7 748.2,562.6 748.6,561.5 749.1,561.2 749.5,561.5 749.9,561.9 750.3,563.3 750.8,565.0 751.2,566.7 751.6,568.2 752.0,568.4 752.4,567.8 752.9,566.4 753.3,565.2 753.7,564.6 754.1,565.4 754.5,565.3 754.9,566.7 755.3,568.3 755.7,570.2 756.1,571.6 756.5,572.6 756.9,572.1 757.3,570.3 757.7,569.2 758.1,569.2 758.5,569.2 758.9,569.0 759.3,569.7 759.7,571.1 760.1,573.5 760.5,574.6 760.8,575.7 761.2,575.3 761.6,574.1 762.0,572.9 762.4,572.9 762.8,572.6 763.1,572.8 763.5,572.9 763.9,574.6 764.3,576.2 764.6,578.2 765.0,579.4 765.4,578.8 765.7,578.7 766.1,577.1 766.5,576.7 766.8,575.7 767.2,576.8 767.6,577.7 767.9,576.9 768.3,578.1 768.6,581.3 769.0,582.2 769.4,581.4 769.7,580.8 770.1,579.9 770.4,578.4 770.8,579.2 771.1,579.7 771.5,580.1 771.8,580.9 772.2,581.6 772.5,582.1 772.9,584.9 773.2,585.8 773.5,585.9 773.9,583.5 774.2,583.6 774.6,581.5 774.9,582.3 775.2,583.0 775.6,581.5 775.9,583.0 776.2,584.2 776.6,587.8 776.9,586.3 777.2,587.3 777.6,586.4 777.9,585.6 778.2,584.2 778.6,584.3 778.9,584.5 779.2,585.0 779.5,586.9 779.9,588.8 780.2,588.9 780.5,589.6 780.8,589.5 781.1,588.1 781.5,588.7 781.8,586.9 782.1,586.6 782.4,587.5 782.7,587.0 783.0,589.4 783.3,589.6 783.7,592.0 784.0,591.5 784.3,591.9 784.6,592.4 784.9,589.5 785.2,590.8 785.5,589.6 785.8,590.5 786.1,589.2 786.4,591.1 786.7,592.4 787.0,594.1 787.3,595.3 787.6,594.9 787.9,594.0 788.2,592.8 788.5,592.0 788.8,593.6 789.1,593.0 789.4,592.9 789.7,593.5 790.0,595.3 790.3,595.1 790.6,596.8 790.9,598.3 791.2,597.5 791.5,596.8 791.8,594.7 792.0,594.2 792.3,595.7 792.6,593.8 792.9,594.7 793.2,597.0 793.5,597.8 793.8,598.8 794.0,599.5 794.3,599.1 794.6,598.0 794.9,598.2 795.2,596.0 795.5,596.5 795.7,597.8 796.0,597.0 796.3,598.1 796.6,599.3 796.8,601.2 797.1,599.8 797.4,600.0 797.7,600.0 797.9,600.4 798.2,597.2 798.5,598.0 798.8,598.4 799.0,597.4 799.3,599.3 799.6,600.5 799.8,602.9 800.1,602.1 800.4,602.1 800.6,605.4 800.9,603.9 801.2,603.8 801.4,601.8 801.7,603.6 802.0,604.8 802.2,601.1 802.5,604.8 802.7,606.0 803.0,603.3 803.3,605.6 803.5,606.0 803.8,606.0 804.0,603.9 804.3,602.1 804.6,601.0 804.8,603.3 805.1,605.5 805.3,606.0 805.6,604.2 805.8,608.7 806.1,607.9 806.3,605.2 806.6,606.2 806.8,603.9 807.1,604.9 807.3,602.9 807.6,603.5 807.8,604.3 808.1,606.8 808.3,607.9 808.6,608.3 808.8,607.0 809.1,608.0 809.3,608.0 809.6,607.5 809.8,606.9 810.1,606.9 810.3,607.7 810.6,606.8 810.8,607.0 811.0,608.6 811.3,608.6 811.5,610.2 811.8,612.1 812.0,610.8 812.2,610.9 812.5,610.1 812.7,608.8 813.0,610.1 813.2,610.1 813.4,611.9 813.7,611.4 813.9,613.9 814.1,612.7 814.4,613.3 814.6,611.8 814.8,614.4 815.1,611.1 815.3,611.2 815.5,610.9 815.8,609.8 816.0,611.1 816.2,610.0 816.5,612.2 816.7,613.2 816.9,612.8 817.2,617.3 817.4,615.5 817.6,614.5 817.8,613.1 818.1,612.7 818.3,612.8 818.5,611.3 818.7,614.4 819.0,617.8 819.2,614.9 819.4,618.1 819.6,618.3 819.9,612.0 820.1,612.3 820.3,610.6 820.5,612.7 820.7,611.1 821.0,614.3 821.2,611.6 821.4,612.5 821.6,614.7 821.8,619.5 822.1,620.1 822.3,613.9 822.5,615.2 822.7,619.1 822.9,619.6 823.2,614.2 823.4,615.7 823.6,617.8 823.8,617.7 824.0,619.8 824.2,619.7 824.4,621.9 824.7,615.4 824.9,621.4 825.1,615.4 825.3,620.1 825.5,615.1 825.7,618.6 825.9,621.9 826.1,616.9 826.3,624.3 826.6,619.3 826.8,621.8 827.0,621.3 827.2,624.5 827.4,620.1 827.6,621.2 827.8,621.7 828.0,620.9 828.2,621.2 828.4,621.8 828.6,621.1 828.8,623.1 829.0,619.5 829.2,621.8 829.5,620.9 829.7,622.2 829.9,620.5 830.1,618.5 830.3,623.1 830.5,622.2 830.7,621.1 830.9,621.9 831.1,624.5 831.3,624.9 831.5,628.8 831.7,624.3 831.9,627.0 832.1,624.8 832.3,625.4 832.5,624.5 832.7,622.8 832.9,622.2 833.1,624.1 833.3,625.5 833.5,624.3 833.7,621.6 833.9,623.2 834.0,622.7 834.2,623.4 834.4,625.0 834.6,621.9 834.8,622.6 835.0,625.9 835.2,624.7 835.4,627.5 835.6,630.5 835.8,629.7 836.0,628.2 836.2,626.6 836.4,628.8 836.6,627.4 836.8,628.6 836.9,626.4 837.1,625.3 837.3,628.1 837.5,625.0 837.7,629.7 837.9,627.3 838.1,627.5 838.3,629.9 838.5,628.4 838.6,627.9 838.8,629.1 839.0,627.0 839.2,625.6 839.4,626.0 839.6,627.3 839.8,627.6 839.9,628.5 840.1,629.0 840.3,629.7 840.5,627.0 840.7,626.3 840.9,628.1 841.0,626.4 841.2,626.3 841.4,629.3 841.6,630.9 841.8,631.1 842.0,631.7 842.1,632.8 842.3,628.5 842.5,627.6 842.7,627.7 842.9,626.8 843.0,629.3 843.2,627.0 843.4,628.5 843.6,627.7 843.8,630.6 843.9,629.1 844.1,631.2 844.3,627.6 844.5,628.3 844.7,628.3 844.8,627.3 845.0,626.7 845.2,629.9 845.4,628.1 845.5,630.2 845.7,629.9 845.9,632.0 846.1,630.5 846.2,632.7 846.4,629.2 846.6,628.2 846.8,629.5 846.9,629.0 847.1,631.6 847.3,629.9 847.5,629.8 847.6,630.0 847.8,633.4 848.0,632.0 848.1,630.8 848.3,628.5 848.5,631.7 848.7,630.1 848.8,627.9 849.0,628.1 849.2,626.6 849.3,625.4 849.5,629.3 849.7,626.4 849.8,630.7 850.0,630.5 850.2,630.3 850.4,630.2 850.5,625.0 850.7,628.7 850.9,628.4 851.0,629.6 851.2,627.0 851.4,632.2 851.5,632.6 851.7,629.4 851.9,631.2 852.0,633.1 852.2,629.7 852.4,633.9 852.5,631.8 852.7,633.2 852.8,632.3 853.0,627.4 853.2,630.9 853.3,627.8 853.5,629.2 853.7,633.5 853.8,632.3 854.0,634.6 854.2,630.3 854.3,633.5 854.5,632.7 854.6,625.4 854.8,624.2 855.0,628.0 855.1,629.5 855.3,628.7 855.4,629.8 855.6,632.2 855.8,625.3 855.9,630.1 856.1,624.9 856.2,627.4 856.4,625.2 856.6,629.6 856.7,630.3 856.9,628.7 857.0,624.9 857.2,624.6 857.4,630.4 857.5,630.1 857.7,627.1 857.8,629.4 858.0,624.8 858.1,631.6 858.3,625.0 858.4,628.2 858.6,631.2 858.8,626.8 858.9,626.6 859.1,625.9 859.2,629.8 859.4,628.1 859.5,630.3 859.7,625.7 859.8,625.0 860.0,624.0 860.2,626.7 860.3,628.7 860.5,629.1 860.6,626.0 860.8,625.7 860.9,627.4 861.1,629.4 861.2,627.1 861.4,629.5 861.5,631.1 861.7,629.3 861.8,631.8 862.0,628.2 862.1,626.7 862.3,628.6 862.4,631.6 862.6,627.3 862.7,629.7 862.9,631.0 863.0,632.6 863.2,627.3 863.3,629.9 863.5,631.9 863.6,628.6 863.8,634.0 863.9,630.3 864.1,632.7 864.2,632.5 864.4,631.6 864.5,632.8 864.7,629.9 864.8,630.7 865.0,630.6 865.1,630.1 865.3,627.8 865.4,629.9 865.5,628.4 865.7,630.9 865.8,630.4 866.0,629.3 866.1,629.3 866.3,629.6 866.4,628.6 866.6,628.9 866.7,628.3 866.9,628.1 867.0,628.1 867.1,627.9 867.3,627.6 867.4,629.0 867.6,629.0 867.7,626.7 867.9,627.7 868.0,627.0 868.1,627.9 868.3,628.8 868.4,630.5 868.6,630.2 868.7,630.0 868.9,632.6 869.0,633.3 869.1,630.2 869.3,629.8 869.4,629.4 869.6,630.1 869.7,627.2 869.8,627.3 870.0,629.9 870.1,627.2 870.3,628.6 870.4,628.5 870.5,631.0 870.7,629.0 870.8,628.5 871.0,627.0 871.1,628.4 871.2,629.4 871.4,630.8 871.5,627.0 871.7,630.2 871.8,630.3 871.9,629.0 872.1,630.1 872.2,629.4 872.3,630.2 872.5,627.6 872.6,626.9 872.7,630.7 872.9,632.6 873.0,627.6 873.2,629.7 873.3,629.7 873.4,627.8 873.6,628.4 873.7,634.0 873.8,632.5 874.0,628.5 874.1,626.4 874.2,623.7 874.4,623.2 874.5,631.7 874.6,623.6 874.8,633.2 874.9,628.9 875.0,626.6 875.2,626.4 875.3,628.5 875.4,633.0 875.6,626.1 875.7,626.3 875.8,626.0 876.0,625.5 876.1,630.6 876.2,626.3 876.4,632.2 876.5,625.4 876.6,631.4 876.8,629.3 876.9,628.7 877.0,626.9 877.2,631.8 877.3,629.9 877.4,625.9 877.6,626.4 877.7,627.4 877.8,627.9 878.0,625.8 878.1,625.9 878.2,626.2 878.3,629.4 878.5,625.8 878.6,627.7 878.7,628.0 878.9,625.3 879.0,624.4 879.1,628.5 879.2,628.2 879.4,627.4 879.5,625.3 879.6,626.2 879.8,626.9 879.9,627.5 880.0,626.0 880.1,628.4 880.3,630.1 880.4,630.1 880.5,626.5 880.7,630.7 880.8,629.4 880.9,630.4 881.0,632.0 881.2,630.4 881.3,629.5 881.4,629.9 881.5,630.7 881.7,627.0 881.8,628.4 881.9,631.9 882.0,630.2 882.2,625.7 882.3,631.6 882.4,630.0 882.5,625.9 882.7,629.7 882.8,630.7 882.9,628.7 883.0,627.7 883.2,629.7 883.3,626.7 883.4,631.4 883.5,632.1 883.7,630.0 883.8,631.9 883.9,630.9 884.0,630.2 884.2,629.0 884.3,626.8 884.4,629.6 884.5,629.5 884.6,628.3 884.8,628.2 884.9,629.5 885.0,628.1 885.1,629.4 885.3,631.3 885.4,629.4 885.5,629.5 885.6,631.2 885.7,627.5 885.9,630.4 886.0,630.0 886.1,629.5 886.2,626.7 886.3,628.1 886.5,628.5 886.6,625.5 886.7,625.2 886.8,629.3 886.9,628.1 887.1,631.6 887.2,629.1 887.3,628.6 887.4,631.0 887.5,632.4 887.7,631.3 887.8,625.3 887.9,631.5 888.0,630.2 888.1,628.5 888.3,624.3 888.4,630.2 888.5,629.6 888.6,625.7 888.7,625.3 888.8,632.5 889.0,629.8 889.1,629.7 889.2,628.6 889.3,627.6 889.4,631.5 889.6,633.5 889.7,631.9 889.8,629.2 889.9,630.1 890.0,625.5 890.1,633.0 890.3,626.4 890.4,633.7 890.5,631.8 890.6,629.4 890.7,627.8 890.8,630.9 890.9,631.4 891.1,632.1 891.2,629.1 891.3,632.3 891.4,631.8 891.5,629.8 891.6,626.4 891.8,625.7 891.9,628.8 892.0,625.5 892.1,628.6 892.2,627.3 892.3,624.7 892.4,628.8 892.6,628.8 892.7,627.0 892.8,628.9 892.9,626.4 893.0,626.7 893.1,627.1 893.2,625.1 893.3,629.6 893.5,627.8 893.6,627.9 893.7,630.9 893.8,625.0 893.9,628.1 894.0,625.5 894.1,629.2 894.2,628.6 894.4,627.9 894.5,625.2 894.6,631.2 894.7,629.2 894.8,632.3 894.9,630.6 895.0,630.6 895.1,632.9 895.3,632.3 895.4,627.9 895.5,632.5 895.6,630.2 895.7,628.3 895.8,631.4 895.9,631.2 896.0,626.2 896.1,627.0 896.2,633.1 896.4,630.1 896.5,625.7 896.6,626.1 896.7,627.9 896.8,625.8 896.9,630.9 897.0,626.9 897.1,627.7 897.2,629.2 897.3,629.6 897.4,626.4 897.6,628.5 897.7,629.9 897.8,624.9 897.9,630.3 898.0,631.3 898.1,628.2"/>
<polyline stroke="#00FF00" stroke-dasharray="7.9 7.9" points="151.2,145.8 226.1,145.8 270.0,146.3 301.1,147.0 325.2,148.2 344.9,148.6 361.6,149.1 376.0,149.8 388.8,151.1 400.2,153.1 410.5,155.7 419.9,159.2 428.5,163.8 436.5,169.7 444.0,176.5 451.0,186.0 457.5,200.0 463.7,214.5 469.6,229.5 475.1,254.3 480.4,275.6 485.4,283.5 490.2,278.3 494.8,273.0 499.2,269.3 503.5,270.1 507.6,272.6 511.5,280.6 515.3,291.2 519.0,302.7 522.5,311.4 525.9,313.0 529.3,314.0 532.5,314.9 535.6,315.8 538.7,316.7 541.6,317.9 544.5,319.9 547.3,322.8 550.1,326.1 552.7,329.9 555.3,334.1 557.9,337.5 560.4,340.5 562.8,343.0 565.2,344.9 567.5,346.1 569.8,347.1 572.0,347.5 574.2,347.3 576.3,347.1 578.4,348.8 580.5,353.8 582.5,358.6 584.5,363.7 586.4,365.7 588.4,364.8 590.2,363.2 592.1,361.5 593.9,360.2 595.7,359.9 597.4,364.0 599.2,369.8 600.9,373.7 602.6,377.1 604.2,378.4 605.8,378.7 607.4,378.8 609.0,378.9 610.6,379.0 612.1,379.2 613.6,380.1 615.1,381.8 616.6,384.2 618.0,386.4 619.5,388.0 620.9,389.6 622.3,391.0 623.6,392.1 625.0,393.2 626.3,394.0 627.7,394.4 629.0,394.7 630.3,395.2 631.6,395.7 632.8,396.4 634.1,398.1 635.3,400.7 636.5,403.0 637.7,404.8 638.9,405.5 640.1,406.3 641.3,406.7 642.4,407.2 643.6,407.6 644.7,408.1 645.8,408.7 646.9,409.1 648.0,409.7 649.1,410.2 650.2,410.9 651.3,411.5 652.3,412.3 653.4,413.1 654.4,413.8 655.4,414.4 656.4,415.5 657.5,416.4 658.5,417.3 659.4,418.2 660.4,419.2 661.4,419.8 662.3,420.5 663.3,420.9 664.2,421.7 665.2,422.1 666.1,422.6 667.0,423.0 667.9,423.9 668.8,424.4 669.7,425.7 670.6,426.5 671.5,427.7 672.4,428.8 673.3,429.7 674.1,430.8 675.0,431.9 675.8,432.9 676.7,433.5 677.5,434.1 678.3,434.5 679.2,435.4 680.0,435.6 680.8,436.2 681.6,436.6 682.4,437.2 683.2,437.4 684.0,437.8 684.7,438.3 685.5,439.2 686.3,439.3 687.0,439.9 687.8,440.7 688.6,441.3 689.3,442.2 690.1,443.3 690.8,443.8 691.5,443.9 692.3,443.4 693.0,444.0 693.7,444.0 694.4,444.6 695.1,444.9 695.8,445.9 696.5,447.3 697.2,448.7 697.9,449.6 698.6,450.3 699.3,449.9 700.0,449.5 700.6,449.4 701.3,449.1 702.0,449.2 702.6,449.9 703.3,450.9 703.9,452.6 704.6,454.4 705.2,456.0 705.9,456.1 706.5,456.1 707.1,455.4 707.8,455.4 708.4,455.1 709.0,455.5 709.6,455.9 710.3,456.6 710.9,458.1 711.5,459.5 712.1,460.6 712.7,462.2 713.3,462.0 713.9,461.2 714.5,460.8 715.1,460.7 715.7,460.4 716.2,461.2 716.8,462.1 717.4,463.6 718.0,465.2 718.5,466.6 719.1,467.0 719.7,467.4 720.2,466.7 720.8,466.3 721.3,465.5 721.9,466.3 722.4,466.6 723.0,467.1 723.5,467.5 724.1,469.4 724.6,471.2 725.2,472.3 725.7,472.6 726.2,471.6 726.7,471.5 727.3,471.5 727.8,471.6 728.3,471.3 728.8,471.9 729.4,473.0 729.9,474.2 730.4,475.6 730.9,476.4 731.4,476.4 731.9,477.0 732.4,475.9 732.9,475.4 733.4,474.8 733.9,475.0 734.4,476.4 734.9,476.7 735.4,478.6 735.8,479.2 736.3,480.7 736.8,481.6 737.3,481.4 737.8,480.9 738.2,480.2 738.7,480.0 739.2,480.6 739.7,480.9 740.1,481.9 740.6,482.5 741.1,484.1 741.5,485.5 742.0,486.1 742.4,486.9 742.9,485.9 743.3,486.0 743.8,485.5 744.2,485.7 744.7,486.2 745.1,487.3 745.6,487.5 746.0,488.9 746.5,490.6 746.9,490.5 747.3,491.4 747.8,490.2 748.2,489.6 748.6,489.6 749.1,489.6 749.5,489.2 749.9,489.7 750.3,491.0 750.8,491.8 751.2,492.8 751.6,494.7 752.0,494.7 752.4,494.5 752.9,494.0 753.3,493.0 753.7,492.5 754.1,492.5 754.5,494.3 754.9,494.9 755.3,495.7 755.7,495.8 756.1,498.4 756.5,497.8 756.9,497.9 757.3,497.8 757.7,495.7 758.1,496.0 758.5,495.6 758.9,497.2 759.3,496.7 759.7,497.3 760.1,499.2 760.5,500.3 760.8,501.0 761.2,500.5 761.6,500.2 762.0,498.9 762.4,499.4 762.8,499.0 763.1,498.8 763.5,499.0 763.9,499.5 764.3,501.3 764.6,502.0 765.0,504.1 765.4,503.6 765.7,503.8 766.1,502.5 766.5,502.8 766.8,501.6 767.2,502.4 767.6,501.9 767.9,503.3 768.3,503.7 768.6,504.7 769.0,506.6 769.4,507.0 769.7,505.4 770.1,504.1 770.4,504.4 770.8,504.2 771.1,504.5 771.5,505.1 771.8,505.5 772.2,505.9 772.5,506.6 772.9,509.3 773.2,507.9 773.5,508.1 773.9,508.6 774.2,506.8 774.6,507.3 774.9,507.7 775.2,508.9 775.6,508.1 775.9,509.6 776.2,510.7 776.6,510.6 776.9,512.0 777.2,511.2 777.6,511.6 777.9,511.2 778.2,509.8 778.6,509.3 778.9,509.9 779.2,510.1 779.5,510.9 779.9,512.3 780.2,513.1 780.5,514.3 780.8,513.7 781.1,513.9 781.5,512.3 781.8,513.6 782.1,513.0 782.4,512.6 782.7,513.0 783.0,513.9 783.3,515.7 783.7,515.8 784.0,517.4 784.3,516.8 784.6,516.8 784.9,516.2 785.2,515.6 785.5,516.1 785.8,515.9 786.1,516.7 786.4,515.7 786.7,517.3 787.0,517.7 787.3,519.5 787.6,518.7 787.9,519.3 788.2,519.3 788.5,518.5 788.8,518.4 789.1,518.1 789.4,517.9 789.7,518.1 790.0,519.1 790.3,521.3 790.6,521.7 790.9,521.6 791.2,522.5 791.5,522.0 791.8,520.0 792.0,520.4 792.3,521.0 792.6,521.4 792.9,522.4 793.2,523.1 793.5,524.2 793.8,524.4 794.0,525.1 794.3,523.2 794.6,523.5 794.9,524.1 795.2,521.5 795.5,521.7 795.7,524.4 796.0,524.8 796.3,523.9 796.6,526.5 796.8,527.1 797.1,526.0 797.4,526.4 797.7,526.1 797.9,525.1 798.2,526.1 798.5,525.6 798.8,525.9 799.0,526.2 799.3,526.5 799.6,528.3 799.8,528.5 800.1,529.0 800.4,529.1 800.6,529.2 800.9,526.7 801.2,526.3 801.4,527.1 801.7,526.9 802.0,526.2 802.2,526.7 802.5,529.4 802.7,530.4 803.0,530.8 803.3,531.2 803.5,530.7 803.8,531.7 804.0,528.9 804.3,529.3 804.6,529.2 804.8,530.8 805.1,531.2 805.3,530.1 805.6,531.8 805.8,533.1 806.1,532.5 806.3,531.4 806.6,531.9 806.8,532.7 807.1,533.3 807.3,533.4 807.6,531.8 807.8,531.9 808.1,534.4 808.3,535.3 808.6,532.4 808.8,534.6 809.1,536.2 809.3,535.2 809.6,533.6 809.8,533.6 810.1,534.5 810.3,532.4 810.6,532.6 810.8,536.3 811.0,534.1 811.3,535.5 811.5,537.3 811.8,537.1 812.0,539.4 812.2,537.0 812.5,538.1 812.7,536.8 813.0,538.1 813.2,537.4 813.4,536.2 813.7,536.5 813.9,537.8 814.1,539.5 814.4,539.5 814.6,539.3 814.8,538.1 815.1,536.5 815.3,535.7 815.5,535.8 815.8,538.2 816.0,536.7 816.2,537.3 816.5,539.9 816.7,539.2 816.9,541.1 817.2,538.6 817.4,540.8 817.6,540.8 817.8,541.3 818.1,539.5 818.3,537.5 818.5,542.5 818.7,539.4 819.0,543.2 819.2,542.1 819.4,543.0 819.6,544.1 819.9,543.1 820.1,542.7 820.3,542.1 820.5,543.7 820.7,543.3 821.0,542.7 821.2,541.8 821.4,543.5 821.6,544.2 821.8,547.6 822.1,545.1 822.3,540.7 822.5,545.6 822.7,543.2 822.9,540.5 823.2,540.7 823.4,544.7 823.6,546.1 823.8,544.4 824.0,545.0 824.2,542.3 824.4,545.0 824.7,543.3 824.9,545.3 825.1,547.2 825.3,546.5 825.5,542.5 825.7,548.6 825.9,543.2 826.1,544.5 826.3,548.5 826.6,544.4 826.8,545.7 827.0,546.8 827.2,549.5 827.4,543.3 827.6,545.7 827.8,543.1 828.0,547.6 828.2,543.2 828.4,548.8 828.6,550.5 828.8,546.3 829.0,546.1 829.2,549.4 829.5,547.2 829.7,549.3 829.9,548.8 830.1,549.6 830.3,551.7 830.5,551.0 830.7,550.9 830.9,548.8 831.1,548.1 831.3,549.6 831.5,551.7 831.7,550.3 831.9,550.6 832.1,548.4 832.3,548.2 832.5,549.3 832.7,549.2 832.9,551.4 833.1,552.2 833.3,554.8 833.5,554.3 833.7,553.6 833.9,551.9 834.0,550.9 834.2,551.2 834.4,551.9 834.6,552.7 834.8,552.2 835.0,552.7 835.2,552.3 835.4,550.0 835.6,553.9 835.8,552.2 836.0,553.9 836.2,551.1 836.4,553.9 836.6,551.7 836.8,553.8 836.9,554.7 837.1,555.4 837.3,552.8 837.5,554.7 837.7,553.9 837.9,554.4 838.1,552.8 838.3,552.2 838.5,552.6 838.6,555.6 838.8,552.5 839.0,553.5 839.2,553.7 839.4,556.5 839.6,556.5 839.8,557.5 839.9,555.5 840.1,558.7 840.3,556.5 840.5,555.6 840.7,555.7 840.9,555.7 841.0,558.7 841.2,557.0 841.4,554.4 841.6,555.9 841.8,558.9 842.0,556.2 842.1,557.7 842.3,559.0 842.5,556.9 842.7,555.3 842.9,557.0 843.0,556.6 843.2,560.1 843.4,558.2 843.6,558.2 843.8,561.1 843.9,559.6 844.1,560.3 844.3,560.4 844.5,560.7 844.7,560.2 844.8,559.1 845.0,561.8 845.2,559.3 845.4,561.3 845.5,562.0 845.7,560.6 845.9,563.1 846.1,561.8 846.2,564.1 846.4,561.8 846.6,560.6 846.8,561.9 846.9,562.5 847.1,560.1 847.3,562.9 847.5,560.7 847.6,562.0 847.8,562.1 848.0,555.8 848.1,559.7 848.3,556.6 848.5,563.9 848.7,568.5 848.8,562.9 849.0,571.0 849.2,566.4 849.3,558.4 849.5,571.9 849.7,558.7 849.8,569.2 850.0,556.3 850.2,577.3 850.4,577.7 850.5,561.2 850.7,552.5 850.9,576.2 851.0,581.3 851.2,561.9 851.4,559.5 851.5,582.3 851.7,560.5 851.9,564.9 852.0,550.4 852.2,554.7 852.4,577.6 852.5,550.1 852.7,553.2 852.8,563.9 853.0,553.3 853.2,556.4 853.3,580.4 853.5,571.0 853.7,578.7 853.8,552.3 854.0,570.8 854.2,575.5 854.3,559.7 854.5,552.2 854.6,559.0 854.8,545.3 855.0,557.9 855.1,581.6 855.3,581.3 855.4,562.2 855.6,585.3 855.8,576.5 855.9,546.2 856.1,576.2 856.2,549.7 856.4,585.5 856.6,572.8 856.7,552.3 856.9,558.7 857.0,567.7 857.2,548.6 857.4,587.6 857.5,561.1 857.7,568.8 857.8,561.1 858.0,581.2 858.1,584.0 858.3,549.2 858.4,574.0 858.6,570.9 858.8,551.0 858.9,567.5 859.1,575.4 859.2,553.2 859.4,556.3 859.5,566.4 859.7,576.5 859.8,560.1 860.0,585.0 860.2,561.5 860.3,566.2 860.5,585.2 860.6,562.4 860.8,567.1 860.9,581.8 861.1,565.4 861.2,568.8 861.4,556.7 861.5,563.7 861.7,572.4 861.8,564.6 862.0,583.2 862.1,565.5 862.3,563.3 862.4,565.7 862.6,571.9 862.7,585.9 862.9,576.5 863.0,565.4 863.2,567.6 863.3,568.7 863.5,583.6 863.6,568.1 863.8,563.3 863.9,578.4 864.1,566.6 864.2,579.0 864.4,568.8 864.5,563.0 864.7,578.8 864.8,588.0 865.0,580.6 865.1,563.6 865.3,563.5 865.4,581.9 865.5,582.2 865.7,564.1 865.8,565.2 866.0,576.2 866.1,570.7 866.3,568.0 866.4,569.2 866.6,559.1 866.7,577.9 866.9,572.8 867.0,560.3 867.1,578.1 867.3,560.7 867.4,584.3 867.6,581.8 867.7,575.0 867.9,583.6 868.0,570.3 868.1,576.1 868.3,561.1 868.4,572.0 868.6,559.8 868.7,563.0 868.9,561.9 869.0,585.0 869.1,562.8 869.3,571.9 869.4,579.7 869.6,573.2 869.7,563.6 869.8,578.1 870.0,571.5 870.1,575.1 870.3,566.4 870.4,565.8 870.5,578.2 870.7,585.5 870.8,569.0 871.0,575.7 871.1,574.9 871.2,573.1 871.4,578.6 871.5,569.2 871.7,573.5 871.8,572.0 871.9,580.8 872.1,572.4 872.2,571.1 872.3,584.4 872.5,578.8 872.6,579.6 872.7,575.6 872.9,570.8 873.0,579.9 873.2,571.4 873.3,569.3 873.4,572.4 873.6,574.6 873.7,578.5 873.8,581.5 874.0,577.0 874.1,569.8 874.2,581.9 874.4,585.2 874.5,581.7 874.6,587.3 874.8,572.1 874.9,576.4 875.0,580.0 875.2,572.5 875.3,570.8 875.4,569.1 875.6,587.6 875.7,588.3 875.8,575.9 876.0,573.4 876.1,568.8 876.2,573.0 876.4,583.4 876.5,581.8 876.6,573.8 876.8,580.6 876.9,573.6 877.0,584.1 877.2,574.4 877.3,583.0 877.4,585.3 877.6,583.0 877.7,572.2 877.8,571.0 878.0,577.4 878.1,572.6 878.2,582.1 878.3,584.4 878.5,588.4 878.6,577.7 878.7,589.9 878.9,588.4 879.0,584.0 879.1,579.0 879.2,589.7 879.4,586.5 879.5,583.2 879.6,573.3 879.8,584.1 879.9,591.9 880.0,569.4 880.1,575.5 880.3,575.3 880.4,579.3 880.5,580.7 880.7,571.5 880.8,572.5 880.9,570.9 881.0,584.9 881.2,585.2 881.3,591.9 881.4,589.9 881.5,583.8 881.7,587.2 881.8,590.2 881.9,594.5 882.0,589.6 882.2,573.4 882.3,586.4 882.4,582.6 882.5,573.8 882.7,569.2 882.8,580.6 882.9,588.1 883.0,580.1 883.2,593.2 883.3,594.2 883.4,589.1 883.5,586.3 883.7,595.4 883.8,586.0 883.9,598.6 884.0,579.7 884.2,573.2 884.3,577.1 884.4,599.6 884.5,578.9 884.6,599.7 884.8,573.8 884.9,586.5 885.0,581.3 885.1,588.6 885.3,579.3 885.4,582.1 885.5,586.7 885.6,592.2 885.7,580.0 885.9,581.3 886.0,586.4 886.1,594.8 886.2,589.5 886.3,591.6 886.5,578.0 886.6,579.4 886.7,595.3 886.8,581.4 886.9,593.3 887.1,585.6 887.2,594.0 887.3,580.1 887.4,583.7 887.5,582.3 887.7,583.9 887.8,584.4 887.9,583.9 888.0,578.7 888.1,577.8 888.3,582.7 888.4,585.4 888.5,590.6 888.6,593.8 888.7,594.3 888.8,590.3 889.0,598.5 889.1,588.5 889.2,599.9 889.3,590.6 889.4,593.3 889.6,573.9 889.7,590.9 889.8,570.0 889.9,586.9 890.0,580.0 890.1,584.5 890.3,598.6 890.4,598.9 890.5,575.0 890.6,570.4 890.7,579.9 890.8,570.4 890.9,581.4 891.1,592.5 891.2,575.4 891.3,578.1 891.4,590.1 891.5,589.3 891.6,596.8 891.8,573.3 891.9,577.2 892.0,569.5 892.1,578.3 892.2,593.2 892.3,583.5 892.4,570.7 892.6,593.8 892.7,593.0 892.8,573.5 892.9,584.1 893.0,578.4 893.1,576.5 893.2,578.5 893.3,575.8 893.5,586.4 893.6,587.9 893.7,583.8 893.8,591.8 893.9,600.5 894.0,587.6 894.1,594.6 894.2,590.9 894.4,585.8 894.5,586.2 894.6,597.3 894.7,586.4 894.8,577.2 894.9,595.9 895.0,597.2 895.1,592.3 895.3,596.2 895.4,595.9 895.5,591.2 895.6,595.3 895.7,591.1 895.8,594.8 895.9,580.6 896.0,592.4 896.1,597.2 896.2,596.8 896.4,585.9 896.5,596.6 896.6,595.9 896.7,590.9 896.8,585.0 896.9,592.8 897.0,583.3 897.1,596.3 897.2,592.0 897.3,592.9 897.4,590.5 897.6,583.6 897.7,591.1 897.8,591.2 897.9,593.2 898.0,587.3 898.1,586.2"/>
<polyline stroke="#DAA520" stroke-dasharray="7.9 7.9" points="151.2,151.4 226.1,151.4 270.0,150.9 301.1,150.0 325.2,145.6 344.9,138.9 361.6,132.5 376.0,127.4 388.8,123.2 400.2,120.6 410.5,119.3 419.9,119.3 428.5,121.5 436.5,124.9 444.0,130.0 451.0,138.6 457.5,148.5 463.7,160.5 469.6,177.2 475.1,193.8 480.4,210.0 485.4,218.2 490.2,216.2 494.8,213.0 499.2,210.6 503.5,211.5 507.6,214.3 511.5,221.8 515.3,230.8 519.0,237.9 522.5,242.7 525.9,246.2 529.3,248.3 532.5,249.7 535.6,251.2 538.7,253.1 541.6,255.1 544.5,257.1 547.3,258.8 550.1,260.2 552.7,261.8 555.3,263.8 557.9,267.8 560.4,273.2 562.8,277.4 565.2,280.9 567.5,282.5 569.8,281.6 572.0,280.1 574.2,278.8 576.3,278.9 578.4,282.7 580.5,288.1 582.5,292.1 584.5,296.4 586.4,299.6 588.4,299.9 590.2,298.6 592.1,297.2 593.9,295.9 595.7,296.3 597.4,299.7 599.2,304.1 600.9,307.1 602.6,309.7 604.2,312.1 605.8,312.8 607.4,312.2 609.0,312.2 610.6,311.5 612.1,311.8 613.6,312.7 615.1,314.3 616.6,316.9 618.0,319.3 619.5,320.5 620.9,321.9 622.3,324.2 623.6,325.4 625.0,327.4 626.3,328.1 627.7,327.9 629.0,328.5 630.3,328.2 631.6,327.0 632.8,327.6 634.1,328.2 635.3,331.2 636.5,335.1 637.7,337.6 638.9,338.5 640.1,338.4 641.3,337.5 642.4,336.6 643.6,336.9 644.7,338.2 645.8,340.9 646.9,343.8 648.0,347.2 649.1,348.1 650.2,348.3 651.3,348.3 652.3,346.5 653.4,346.2 654.4,345.5 655.4,346.2 656.4,347.5 657.5,349.1 658.5,351.3 659.4,352.8 660.4,354.0 661.4,356.2 662.3,356.2 663.3,356.2 664.2,356.4 665.2,357.8 666.1,358.2 667.0,358.2 667.9,357.9 668.8,359.1 669.7,361.2 670.6,363.1 671.5,365.1 672.4,366.3 673.3,366.2 674.1,365.5 675.0,365.0 675.8,365.6 676.7,364.3 677.5,365.2 678.3,366.5 679.2,367.6 680.0,370.5 680.8,371.8 681.6,371.8 682.4,372.6 683.2,371.8 684.0,370.5 684.7,371.5 685.5,370.7 686.3,370.7 687.0,372.7 687.8,372.0 688.6,374.3 689.3,374.8 690.1,375.5 690.8,378.4 691.5,378.5 692.3,378.6 693.0,378.7 693.7,380.4 694.4,380.4 695.1,381.0 695.8,383.0 696.5,383.2 697.2,383.6 697.9,386.5 698.6,387.1 699.3,386.2 700.0,384.8 700.6,385.3 701.3,386.0 702.0,385.6 702.6,385.8 703.3,386.0 703.9,387.6 704.6,388.2 705.2,390.0 705.9,392.3 706.5,392.1 707.1,391.1 707.8,390.2 708.4,389.7 709.0,391.5 709.6,392.6 710.3,392.3 710.9,394.0 711.5,395.4 712.1,395.8 712.7,396.9 713.3,396.9 713.9,395.9 714.5,395.9 715.1,394.6 715.7,395.1 716.2,395.2 716.8,394.6 717.4,397.2 718.0,399.0 718.5,400.2 719.1,400.0 719.7,399.8 720.2,402.0 720.8,399.5 721.3,400.0 721.9,400.7 722.4,402.0 723.0,402.4 723.5,401.1 724.1,403.8 724.6,404.9 725.2,407.2 725.7,404.7 726.2,405.3 726.7,403.6 727.3,402.6 727.8,404.7 728.3,404.4 728.8,405.6 729.4,404.8 729.9,405.2 730.4,407.4 730.9,408.6 731.4,410.4 731.9,408.7 732.4,408.1 732.9,407.8 733.4,406.4 733.9,407.3 734.4,407.8 734.9,410.0 735.4,412.2 735.8,411.4 736.3,413.3 736.8,416.0 737.3,415.6 737.8,413.9 738.2,414.6 738.7,412.4 739.2,413.0 739.7,415.0 740.1,415.4 740.6,416.2 741.1,417.6 741.5,417.7 742.0,419.7 742.4,418.5 742.9,417.9 743.3,418.5 743.8,418.1 744.2,417.8 744.7,417.6 745.1,418.4 745.6,419.9 746.0,417.4 746.5,421.5 746.9,419.3 747.3,419.8 747.8,420.7 748.2,420.9 748.6,421.5 749.1,422.2 749.5,422.6 749.9,420.4 750.3,421.9 750.8,424.7 751.2,425.8 751.6,426.0 752.0,426.2 752.4,426.6 752.9,424.5 753.3,424.4 753.7,425.5 754.1,425.0 754.5,423.9 754.9,424.9 755.3,428.1 755.7,426.3 756.1,428.1 756.5,428.8 756.9,427.7 757.3,428.9 757.7,427.1 758.1,426.4 758.5,426.1 758.9,426.4 759.3,426.2 759.7,428.5 760.1,427.9 760.5,428.4 760.8,431.0 761.2,429.6 761.6,429.8 762.0,430.1 762.4,431.2 762.8,430.7 763.1,430.1 763.5,431.2 763.9,430.5 764.3,432.8 764.6,434.3 765.0,433.2 765.4,434.8 765.7,434.5 766.1,433.4 766.5,434.0 766.8,434.5 767.2,434.6 767.6,435.5 767.9,434.8 768.3,435.8 768.6,436.8 769.0,437.4 769.4,438.1 769.7,438.4 770.1,437.1 770.4,438.2 770.8,437.5 771.1,437.2 771.5,438.1 771.8,438.7 772.2,439.2 772.5,438.9 772.9,439.9 773.2,440.7 773.5,441.5 773.9,441.6 774.2,441.5 774.6,441.7 774.9,441.0 775.2,441.5 775.6,441.4 775.9,443.1 776.2,441.5 776.6,442.1 776.9,442.5 777.2,444.3 777.6,442.5 777.9,442.9 778.2,442.2 778.6,441.8 778.9,441.9 779.2,443.4 779.5,443.6 779.9,444.9 780.2,442.9 780.5,444.7 780.8,443.6 781.1,446.3 781.5,447.0 781.8,446.2 782.1,444.4 782.4,446.3 782.7,446.9 783.0,446.1 783.3,450.3 783.7,447.5 784.0,450.9 784.3,448.2 784.6,449.2 784.9,450.2 785.2,447.7 785.5,447.4 785.8,447.6 786.1,448.2 786.4,448.5 786.7,448.4 787.0,449.1 787.3,449.6 787.6,451.1 787.9,448.8 788.2,447.6 788.5,451.5 788.8,448.2 789.1,450.9 789.4,447.2 789.7,448.4 790.0,449.8 790.3,454.3 790.6,452.9 790.9,453.4 791.2,450.9 791.5,453.6 791.8,452.7 792.0,451.8 792.3,452.7 792.6,450.9 792.9,453.1 793.2,451.6 793.5,453.2 793.8,453.0 794.0,453.9 794.3,455.1 794.6,455.1 794.9,455.0 795.2,454.2 795.5,453.7 795.7,454.1 796.0,454.0 796.3,453.5 796.6,455.6 796.8,454.5 797.1,455.9 797.4,454.6 797.7,454.1 797.9,456.3 798.2,454.7 798.5,455.2 798.8,455.1 799.0,455.7 799.3,455.3 799.6,457.2 799.8,458.0 800.1,459.0 800.4,458.5 800.6,458.9 800.9,458.1 801.2,458.5 801.4,458.0 801.7,458.4 802.0,458.3 802.2,458.2 802.5,459.1 802.7,459.5 803.0,460.0 803.3,460.9 803.5,460.5 803.8,460.5 804.0,459.9 804.3,460.0 804.6,459.6 804.8,459.9 805.1,460.4 805.3,460.1 805.6,461.0 805.8,462.5 806.1,461.5 806.3,463.2 806.6,463.2 806.8,463.5 807.1,463.3 807.3,463.7 807.6,465.4 807.8,465.2 808.1,465.5 808.3,466.3 808.6,464.5 808.8,467.3 809.1,467.9 809.3,464.3 809.6,462.9 809.8,468.1 810.1,467.5 810.3,466.5 810.6,466.8 810.8,464.3 811.0,464.8 811.3,470.8 811.5,467.8 811.8,466.0 812.0,464.6 812.2,466.8 812.5,462.8 812.7,470.5 813.0,470.8 813.2,468.6 813.4,468.0 813.7,470.5 813.9,472.0 814.1,476.1 814.4,473.1 814.6,467.1 814.8,470.7 815.1,472.1 815.3,470.9 815.5,474.7 815.8,475.1 816.0,472.6 816.2,472.7 816.5,468.6 816.7,476.3 816.9,475.2 817.2,473.0 817.4,470.1 817.6,470.7 817.8,471.4 818.1,475.4 818.3,473.6 818.5,473.5 818.7,477.0 819.0,476.4 819.2,475.9 819.4,471.1 819.6,479.1 819.9,471.3 820.1,477.0 820.3,471.1 820.5,475.5 820.7,479.1 821.0,478.4 821.2,478.2 821.4,474.0 821.6,478.1 821.8,478.1 822.1,478.3 822.3,478.0 822.5,477.4 822.7,473.6 822.9,474.6 823.2,470.2 823.4,470.1 823.6,471.1 823.8,473.9 824.0,477.0 824.2,479.5 824.4,476.8 824.7,478.5 824.9,479.9 825.1,481.1 825.3,481.5 825.5,478.0 825.7,474.3 825.9,473.3 826.1,478.6 826.3,474.1 826.6,481.9 826.8,480.4 827.0,477.3 827.2,476.0 827.4,475.7 827.6,476.4 827.8,483.5 828.0,482.7 828.2,481.9 828.4,482.3 828.6,486.8 828.8,488.5 829.0,480.3 829.2,482.5 829.5,483.0 829.7,482.4 829.9,485.5 830.1,482.1 830.3,482.6 830.5,481.3 830.7,487.2 830.9,481.7 831.1,487.5 831.3,484.3 831.5,488.1 831.7,484.0 831.9,483.3 832.1,486.5 832.3,482.3 832.5,480.6 832.7,480.2 832.9,484.7 833.1,484.0 833.3,483.8 833.5,483.1 833.7,487.2 833.9,485.3 834.0,487.4 834.2,483.2 834.4,487.7 834.6,487.0 834.8,487.8 835.0,490.7 835.2,484.9 835.4,484.1 835.6,484.8 835.8,483.8 836.0,483.3 836.2,486.9 836.4,487.3 836.6,487.7 836.8,490.1 836.9,488.0 837.1,490.9 837.3,488.5 837.5,489.7 837.7,491.0 837.9,488.1 838.1,490.9 838.3,488.8 838.5,486.0 838.6,492.5 838.8,488.7 839.0,491.2 839.2,490.7 839.4,484.9 839.6,491.5 839.8,489.6 839.9,485.3 840.1,485.0 840.3,492.4 840.5,489.3 840.7,490.7 840.9,492.8 841.0,493.2 841.2,489.5 841.4,485.8 841.6,493.7 841.8,493.5 842.0,497.2 842.1,489.0 842.3,495.6 842.5,497.6 842.7,489.6 842.9,493.2 843.0,492.9 843.2,493.9 843.4,485.2 843.6,491.7 843.8,486.1 843.9,499.6 844.1,501.2 844.3,501.7 844.5,488.9 844.7,501.0 844.8,498.6 845.0,490.9 845.2,493.7 845.4,496.1 845.5,498.3 845.7,490.5 845.9,498.4 846.1,499.3 846.2,502.2 846.4,496.7 846.6,494.4 846.8,502.7 846.9,491.1 847.1,503.2 847.3,497.3 847.5,489.9 847.6,497.6 847.8,498.2 848.0,506.4 848.1,494.7 848.3,503.1 848.5,496.2 848.7,493.6 848.8,498.2 849.0,503.5 849.2,499.5 849.3,490.8 849.5,506.0 849.7,488.9 849.8,493.2 850.0,498.8 850.2,501.1 850.4,505.5 850.5,498.6 850.7,496.2 850.9,503.6 851.0,501.0 851.2,494.3 851.4,503.8 851.5,488.9 851.7,507.6 851.9,507.0 852.0,498.9 852.2,498.8 852.4,497.3 852.5,493.1 852.7,506.0 852.8,491.4 853.0,492.5 853.2,498.4 853.3,492.2 853.5,506.1 853.7,500.5 853.8,498.0 854.0,498.9 854.2,493.1 854.3,502.0 854.5,505.5 854.6,496.2 854.8,504.8 855.0,503.2 855.1,496.6 855.3,504.6 855.4,502.0 855.6,495.6 855.8,496.2 855.9,507.8 856.1,508.3 856.2,497.1 856.4,506.8 856.6,508.9 856.7,507.1 856.9,497.5 857.0,494.5 857.2,504.4 857.4,505.5 857.5,504.3 857.7,500.1 857.8,506.7 858.0,509.9 858.1,509.5 858.3,512.1 858.4,497.6 858.6,506.0 858.8,513.7 858.9,503.5 859.1,512.1 859.2,506.2 859.4,509.4 859.5,514.9 859.7,499.8 859.8,510.6 860.0,504.5 860.2,500.4 860.3,501.4 860.5,512.9 860.6,512.9 860.8,502.9 860.9,496.2 861.1,498.9 861.2,509.3 861.4,501.1 861.5,501.9 861.7,497.1 861.8,510.5 862.0,503.3 862.1,513.5 862.3,499.7 862.4,505.8 862.6,509.3 862.7,505.2 862.9,497.6 863.0,506.0 863.2,509.1 863.3,512.0 863.5,508.0 863.6,507.9 863.8,518.6 863.9,503.3 864.1,498.4 864.2,516.0 864.4,510.8 864.5,506.2 864.7,506.7 864.8,520.0 865.0,509.6 865.1,507.7 865.3,509.2 865.4,519.0 865.5,512.7 865.7,518.3 865.8,500.2 866.0,512.5 866.1,517.7 866.3,520.4 866.4,509.4 866.6,520.0 866.7,522.4 866.9,493.7 867.0,511.9 867.1,511.8 867.3,517.3 867.4,510.3 867.6,510.6 867.7,517.7 867.9,501.2 868.0,513.5 868.1,513.3 868.3,501.9 868.4,515.5 868.6,511.2 868.7,510.2 868.9,503.0 869.0,514.7 869.1,501.1 869.3,508.0 869.4,510.2 869.6,521.4 869.7,506.5 869.8,519.4 870.0,504.0 870.1,512.7 870.3,504.3 870.4,521.9 870.5,508.2 870.7,507.0 870.8,509.7 871.0,521.8 871.1,502.4 871.2,515.0 871.4,500.3 871.5,502.2 871.7,507.4 871.8,502.3 871.9,524.4 872.1,501.4 872.2,523.2 872.3,503.5 872.5,522.6 872.6,513.8 872.7,519.2 872.9,514.2 873.0,504.0 873.2,521.8 873.3,525.3 873.4,514.3 873.6,512.4 873.7,504.7 873.8,524.3 874.0,519.6 874.1,505.4 874.2,520.3 874.4,518.8 874.5,522.6 874.6,520.6 874.8,507.4 874.9,517.2 875.0,511.2 875.2,521.7 875.3,523.0 875.4,523.3 875.6,507.0 875.7,516.3 875.8,507.5 876.0,520.7 876.1,522.6 876.2,507.9 876.4,513.3 876.5,509.0 876.6,522.3 876.8,521.2 876.9,511.1 877.0,506.5 877.2,520.7 877.3,511.2 877.4,511.7 877.6,519.5 877.7,518.2 877.8,508.1 878.0,516.2 878.1,517.9 878.2,523.6 878.3,511.1 878.5,520.5 878.6,521.5 878.7,529.3 878.9,525.9 879.0,524.4 879.1,520.7 879.2,512.5 879.4,520.4 879.5,533.1 879.6,523.3 879.8,511.6 879.9,511.0 880.0,505.0 880.1,525.4 880.3,515.3 880.4,527.9 880.5,513.9 880.7,519.2 880.8,530.0 880.9,519.4 881.0,531.3 881.2,519.6 881.3,529.1 881.4,514.8 881.5,519.1 881.7,511.5 881.8,518.6 881.9,529.6 882.0,512.1 882.2,531.1 882.3,526.1 882.4,517.0 882.5,534.2 882.7,519.4 882.8,508.6 882.9,517.8 883.0,530.0 883.2,519.0 883.3,526.3 883.4,521.7 883.5,518.3 883.7,524.3 883.8,512.9 883.9,520.0 884.0,512.9 884.2,521.2 884.3,520.5 884.4,532.0 884.5,529.1 884.6,514.4 884.8,523.9 884.9,513.9 885.0,522.3 885.1,535.9 885.3,514.1 885.4,521.3 885.5,524.9 885.6,517.2 885.7,524.8 885.9,520.2 886.0,522.8 886.1,529.2 886.2,524.1 886.3,532.4 886.5,525.7 886.6,520.3 886.7,530.7 886.8,517.6 886.9,523.9 887.1,519.4 887.2,528.2 887.3,526.7 887.4,516.9 887.5,523.2 887.7,525.5 887.8,533.1 887.9,525.3 888.0,529.6 888.1,517.3 888.3,517.0 888.4,530.1 888.5,520.5 888.6,517.0 888.7,534.9 888.8,517.7 889.0,527.7 889.1,529.6 889.2,523.1 889.3,534.7 889.4,518.8 889.6,520.8 889.7,527.4 889.8,529.3 889.9,532.1 890.0,530.3 890.1,519.5 890.3,519.7 890.4,532.3 890.5,520.2 890.6,534.2 890.7,529.6 890.8,534.4 890.9,520.5 891.1,534.7 891.2,532.4 891.3,524.0 891.4,527.7 891.5,533.0 891.6,534.9 891.8,521.8 891.9,533.6 892.0,521.8 892.1,521.6 892.2,537.6 892.3,531.0 892.4,526.6 892.6,524.1 892.7,536.4 892.8,526.1 892.9,529.7 893.0,520.7 893.1,531.1 893.2,535.7 893.3,528.2 893.5,531.3 893.6,521.2 893.7,531.5 893.8,527.1 893.9,531.3 894.0,522.0 894.1,521.1 894.2,532.8 894.4,529.3 894.5,525.9 894.6,528.1 894.7,528.3 894.8,531.9 894.9,535.3 895.0,524.7 895.1,528.9 895.3,531.0 895.4,528.7 895.5,528.5 895.6,534.2 895.7,529.2 895.8,531.7 895.9,532.2 896.0,530.1 896.1,529.4 896.2,527.8 896.4,533.8 896.5,531.3 896.6,530.4 896.7,530.2 896.8,527.9 896.9,533.1 897.0,532.5 897.1,532.4 897.2,530.2 897.3,532.5 897.4,532.3 897.6,530.2 897.7,528.9 897.8,528.5 897.9,531.7 898.0,529.7 898.1,531.8"/>
<polyline stroke="#FF4500" stroke-dasharray="7.9 7.9" points="151.2,114.1 226.1,123.0 270.0,134.0 301.1,141.2 325.2,129.1 344.9,107.9 361.6,91.9 376.0,79.0 388.8,69.5 400.2,63.0 410.5,59.2 419.9,57.9 428.5,58.8 436.5,61.2 444.0,66.2 451.0,71.9 457.5,80.3 463.7,92.4 469.6,104.0 475.1,115.9 480.4,126.3 485.4,129.9 490.2,130.1 494.8,130.2 499.2,131.7 503.5,134.4 507.6,138.5 511.5,145.6 515.3,154.5 519.0,162.5 522.5,167.5 525.9,171.3 529.3,173.9 532.5,175.4 535.6,176.9 538.7,179.0 541.6,181.7 544.5,184.5 547.3,186.9 550.1,189.2 552.7,191.6 555.3,194.3 557.9,198.0 560.4,202.4 562.8,206.5 565.2,209.6 567.5,212.5 569.8,212.9 572.0,211.6 574.2,210.3 576.3,211.0 578.4,214.8 580.5,219.2 582.5,223.7 584.5,228.9 586.4,231.4 588.4,230.9 590.2,229.2 592.1,227.7 593.9,227.2 595.7,228.9 597.4,232.5 599.2,236.0 600.9,239.4 602.6,242.4 604.2,243.8 605.8,243.9 607.4,243.4 609.0,243.3 610.6,242.6 612.1,242.3 613.6,242.7 615.1,243.9 616.6,245.3 618.0,247.8 619.5,249.9 620.9,251.7 622.3,253.9 623.6,256.1 625.0,257.6 626.3,259.3 627.7,260.4 629.0,260.3 630.3,260.3 631.6,260.1 632.8,260.1 634.1,261.3 635.3,264.7 636.5,268.1 637.7,271.2 638.9,271.2 640.1,270.2 641.3,269.1 642.4,268.0 643.6,267.0 644.7,267.6 645.8,268.9 646.9,271.2 648.0,275.2 649.1,277.9 650.2,279.5 651.3,279.5 652.3,278.2 653.4,278.2 654.4,276.8 655.4,277.1 656.4,278.5 657.5,279.0 658.5,282.3 659.4,284.6 660.4,286.0 661.4,287.6 662.3,286.9 663.3,287.8 664.2,287.9 665.2,288.0 666.1,288.2 667.0,288.3 667.9,287.5 668.8,289.5 669.7,291.0 670.6,292.9 671.5,295.6 672.4,296.8 673.3,296.8 674.1,297.1 675.0,294.7 675.8,294.0 676.7,293.4 677.5,294.3 678.3,296.3 679.2,298.4 680.0,301.6 680.8,303.2 681.6,304.2 682.4,303.3 683.2,303.4 684.0,302.6 684.7,303.4 685.5,303.4 686.3,302.8 687.0,303.5 687.8,306.3 688.6,307.5 689.3,309.0 690.1,310.8 690.8,312.1 691.5,311.9 692.3,311.1 693.0,311.9 693.7,310.2 694.4,310.8 695.1,310.8 695.8,310.6 696.5,311.1 697.2,313.0 697.9,313.0 698.6,315.8 699.3,316.5 700.0,315.9 700.6,315.6 701.3,316.2 702.0,317.5 702.6,317.9 703.3,319.0 703.9,320.2 704.6,321.8 705.2,322.5 705.9,322.3 706.5,322.2 707.1,320.6 707.8,320.8 708.4,322.3 709.0,321.9 709.6,321.9 710.3,323.8 710.9,323.8 711.5,325.5 712.1,327.1 712.7,327.2 713.3,328.3 713.9,325.6 714.5,326.8 715.1,325.1 715.7,326.4 716.2,325.2 716.8,326.4 717.4,327.8 718.0,328.5 718.5,329.6 719.1,331.4 719.7,332.4 720.2,329.8 720.8,330.0 721.3,330.9 721.9,331.3 722.4,331.4 723.0,331.4 723.5,331.1 724.1,332.2 724.6,332.8 725.2,334.1 725.7,334.8 726.2,333.9 726.7,334.9 727.3,333.5 727.8,334.7 728.3,335.6 728.8,334.4 729.4,336.7 729.9,336.6 730.4,339.5 730.9,339.5 731.4,340.2 731.9,340.0 732.4,338.8 732.9,338.9 733.4,338.4 733.9,339.4 734.4,339.4 734.9,340.8 735.4,342.0 735.8,343.4 736.3,344.4 736.8,345.0 737.3,345.4 737.8,345.2 738.2,345.1 738.7,345.3 739.2,345.6 739.7,346.2 740.1,346.6 740.6,347.7 741.1,348.5 741.5,350.1 742.0,350.1 742.4,350.4 742.9,350.5 743.3,350.2 743.8,349.6 744.2,349.9 744.7,350.6 745.1,350.5 745.6,352.1 746.0,352.3 746.5,353.7 746.9,354.4 747.3,355.8 747.8,354.1 748.2,354.4 748.6,353.3 749.1,353.4 749.5,353.8 749.9,356.4 750.3,356.2 750.8,358.0 751.2,357.7 751.6,357.3 752.0,361.0 752.4,359.3 752.9,357.5 753.3,359.5 753.7,358.9 754.1,357.4 754.5,357.1 754.9,360.7 755.3,361.0 755.7,360.6 756.1,360.9 756.5,363.4 756.9,362.8 757.3,360.9 757.7,358.6 758.1,359.9 758.5,360.5 758.9,360.3 759.3,362.6 759.7,363.4 760.1,363.4 760.5,366.8 760.8,364.5 761.2,363.2 761.6,363.8 762.0,366.5 762.4,364.9 762.8,365.2 763.1,367.1 763.5,364.5 763.9,368.1 764.3,367.5 764.6,365.5 765.0,368.4 765.4,367.2 765.7,368.6 766.1,367.9 766.5,364.7 766.8,367.9 767.2,369.1 767.6,366.2 767.9,371.3 768.3,367.8 768.6,368.4 769.0,372.5 769.4,372.1 769.7,368.0 770.1,369.5 770.4,370.5 770.8,370.8 771.1,369.7 771.5,368.7 771.8,370.9 772.2,370.7 772.5,374.4 772.9,373.7 773.2,374.7 773.5,370.4 773.9,371.7 774.2,370.4 774.6,373.3 774.9,372.9 775.2,375.0 775.6,373.3 775.9,372.4 776.2,375.6 776.6,374.4 776.9,378.8 777.2,378.3 777.6,377.8 777.9,377.7 778.2,378.2 778.6,378.7 778.9,377.4 779.2,378.4 779.5,377.1 779.9,376.6 780.2,379.6 780.5,378.3 780.8,380.6 781.1,377.0 781.5,376.5 781.8,379.3 782.1,377.6 782.4,378.6 782.7,377.1 783.0,378.6 783.3,380.7 783.7,380.6 784.0,380.2 784.3,382.5 784.6,379.6 784.9,379.4 785.2,381.3 785.5,379.0 785.8,380.7 786.1,377.9 786.4,379.7 786.7,379.2 787.0,380.2 787.3,381.5 787.6,383.3 787.9,382.6 788.2,380.7 788.5,381.2 788.8,380.1 789.1,381.7 789.4,383.5 789.7,382.2 790.0,381.7 790.3,382.9 790.6,384.4 790.9,386.9 791.2,388.6 791.5,384.7 791.8,385.9 792.0,387.4 792.3,384.0 792.6,386.7 792.9,386.6 793.2,386.5 793.5,385.2 793.8,385.4 794.0,387.3 794.3,388.4 794.6,387.5 794.9,387.6 795.2,384.6 795.5,387.4 795.7,384.4 796.0,384.7 796.3,388.3 796.6,387.6 796.8,388.7 797.1,387.4 797.4,389.8 797.7,390.1 797.9,389.2 798.2,390.8 798.5,387.1 798.8,390.6 799.0,391.3 799.3,389.9 799.6,390.9 799.8,390.4 800.1,391.6 800.4,394.8 800.6,391.9 800.9,393.2 801.2,394.8 801.4,392.4 801.7,395.1 802.0,394.1 802.2,394.0 802.5,394.4 802.7,391.7 803.0,393.1 803.3,391.8 803.5,394.5 803.8,392.6 804.0,392.8 804.3,392.8 804.6,393.3 804.8,393.0 805.1,393.3 805.3,396.0 805.6,394.5 805.8,397.8 806.1,397.9 806.3,396.1 806.6,395.6 806.8,395.9 807.1,394.1 807.3,395.0 807.6,396.0 807.8,396.2 808.1,394.2 808.3,395.0 808.6,397.9 808.8,399.6 809.1,398.8 809.3,396.8 809.6,396.6 809.8,396.9 810.1,397.7 810.3,398.5 810.6,398.2 810.8,396.5 811.0,398.8 811.3,400.0 811.5,397.5 811.8,399.1 812.0,399.3 812.2,397.4 812.5,399.3 812.7,397.1 813.0,399.8 813.2,398.6 813.4,398.7 813.7,399.2 813.9,400.7 814.1,401.6 814.4,401.6 814.6,403.7 814.8,402.3 815.1,401.9 815.3,402.3 815.5,402.3 815.8,399.5 816.0,399.9 816.2,402.0 816.5,402.1 816.7,403.2 816.9,403.6 817.2,403.3 817.4,404.0 817.6,402.5 817.8,405.2 818.1,404.9 818.3,405.1 818.5,402.4 818.7,404.9 819.0,406.0 819.2,406.8 819.4,406.4 819.6,406.3 819.9,405.0 820.1,405.6 820.3,405.4 820.5,403.2 820.7,405.5 821.0,406.2 821.2,407.6 821.4,407.9 821.6,404.2 821.8,408.1 822.1,405.8 822.3,407.9 822.5,407.2 822.7,408.6 822.9,405.2 823.2,408.0 823.4,410.4 823.6,407.6 823.8,408.0 824.0,408.8 824.2,410.9 824.4,409.1 824.7,408.7 824.9,409.5 825.1,408.2 825.3,408.1 825.5,408.1 825.7,408.2 825.9,412.4 826.1,410.3 826.3,410.3 826.6,412.6 826.8,410.9 827.0,409.9 827.2,413.7 827.4,409.9 827.6,410.9 827.8,411.1 828.0,408.9 828.2,411.8 828.4,412.0 828.6,409.7 828.8,412.2 829.0,410.5 829.2,407.7 829.5,411.6 829.7,408.1 829.9,408.3 830.1,407.8 830.3,411.3 830.5,413.7 830.7,410.8 830.9,414.5 831.1,412.0 831.3,416.5 831.5,412.4 831.7,413.9 831.9,415.1 832.1,413.5 832.3,411.3 832.5,417.7 832.7,412.2 832.9,413.5 833.1,417.5 833.3,415.2 833.5,415.3 833.7,416.2 833.9,417.8 834.0,417.2 834.2,412.7 834.4,412.9 834.6,413.5 834.8,416.5 835.0,413.4 835.2,417.7 835.4,412.5 835.6,418.5 835.8,418.0 836.0,413.4 836.2,416.6 836.4,417.8 836.6,413.4 836.8,412.9 836.9,414.3 837.1,411.9 837.3,419.1 837.5,412.8 837.7,419.3 837.9,416.8 838.1,419.2 838.3,414.9 838.5,419.5 838.6,418.2 838.8,421.3 839.0,416.9 839.2,414.8 839.4,423.3 839.6,423.9 839.8,417.3 839.9,421.7 840.1,424.5 840.3,424.7 840.5,423.0 840.7,418.7 840.9,424.7 841.0,419.1 841.2,420.5 841.4,423.4 841.6,420.9 841.8,422.3 842.0,419.5 842.1,420.6 842.3,422.3 842.5,419.7 842.7,423.6 842.9,419.4 843.0,421.7 843.2,423.0 843.4,423.1 843.6,425.1 843.8,423.1 843.9,421.0 844.1,425.0 844.3,421.1 844.5,422.8 844.7,426.6 844.8,424.3 845.0,423.4 845.2,425.7 845.4,423.7 845.5,422.4 845.7,425.1 845.9,426.1 846.1,429.0 846.2,425.2 846.4,424.2 846.6,421.2 846.8,422.5 846.9,424.7 847.1,420.4 847.3,419.7 847.5,428.8 847.6,420.4 847.8,425.5 848.0,428.8 848.1,428.0 848.3,420.0 848.5,422.2 848.7,426.7 848.8,423.9 849.0,429.8 849.2,433.4 849.3,424.0 849.5,431.3 849.7,423.2 849.8,423.9 850.0,422.7 850.2,436.5 850.4,437.3 850.5,430.2 850.7,434.9 850.9,439.6 851.0,439.5 851.2,430.1 851.4,429.9 851.5,436.2 851.7,437.6 851.9,433.7 852.0,423.7 852.2,432.9 852.4,437.6 852.5,427.4 852.7,422.1 852.8,433.8 853.0,430.3 853.2,430.5 853.3,436.8 853.5,435.1 853.7,436.8 853.8,436.8 854.0,426.5 854.2,425.0 854.3,426.2 854.5,425.2 854.6,426.6 854.8,426.2 855.0,427.9 855.1,425.3 855.3,427.2 855.4,438.0 855.6,438.1 855.8,436.2 855.9,439.2 856.1,430.5 856.2,439.5 856.4,437.5 856.6,440.2 856.7,436.7 856.9,440.4 857.0,428.7 857.2,431.4 857.4,441.4 857.5,440.5 857.7,437.6 857.8,437.4 858.0,431.7 858.1,429.4 858.3,426.1 858.4,428.1 858.6,440.5 858.8,436.8 858.9,444.3 859.1,434.0 859.2,437.2 859.4,435.4 859.5,432.3 859.7,430.4 859.8,435.3 860.0,436.6 860.2,436.3 860.3,433.2 860.5,437.8 860.6,428.6 860.8,433.8 860.9,431.0 861.1,434.8 861.2,442.1 861.4,438.3 861.5,432.6 861.7,438.8 861.8,441.8 862.0,430.1 862.1,436.7 862.3,442.6 862.4,447.3 862.6,434.9 862.7,437.6 862.9,441.3 863.0,437.9 863.2,439.4 863.3,440.5 863.5,446.6 863.6,447.0 863.8,447.2 863.9,439.8 864.1,444.7 864.2,443.3 864.4,444.9 864.5,449.6 864.7,448.7 864.8,444.9 865.0,448.1 865.1,442.2 865.3,434.3 865.4,434.7 865.5,439.4 865.7,441.8 865.8,444.2 866.0,445.3 866.1,432.8 866.3,445.7 866.4,445.1 866.6,439.8 866.7,444.7 866.9,439.0 867.0,435.1 867.1,446.7 867.3,441.2 867.4,446.0 867.6,439.4 867.7,443.2 867.9,439.1 868.0,435.3 868.1,450.4 868.3,438.5 868.4,436.7 868.6,450.1 868.7,436.1 868.9,436.4 869.0,438.9 869.1,451.0 869.3,438.3 869.4,433.2 869.6,432.0 869.7,433.7 869.8,433.1 870.0,436.3 870.1,448.8 870.3,438.5 870.4,447.7 870.5,436.4 870.7,453.3 870.8,437.9 871.0,440.8 871.1,448.2 871.2,443.5 871.4,442.4 871.5,454.4 871.7,443.2 871.8,451.2 871.9,440.9 872.1,442.1 872.2,437.2 872.3,452.8 872.5,436.5 872.6,447.9 872.7,437.8 872.9,443.5 873.0,437.8 873.2,449.6 873.3,447.4 873.4,449.5 873.6,444.4 873.7,449.5 873.8,437.0 874.0,452.4 874.1,441.4 874.2,452.1 874.4,456.0 874.5,456.3 874.6,445.5 874.8,454.5 874.9,449.4 875.0,456.5 875.2,459.5 875.3,450.1 875.4,441.4 875.6,457.3 875.7,458.8 875.8,445.1 876.0,446.9 876.1,447.2 876.2,449.3 876.4,443.4 876.5,442.0 876.6,457.0 876.8,457.4 876.9,440.3 877.0,444.5 877.2,439.4 877.3,448.0 877.4,453.8 877.6,447.6 877.7,458.8 877.8,442.3 878.0,452.4 878.1,452.9 878.2,444.2 878.3,456.4 878.5,450.0 878.6,447.7 878.7,456.9 878.9,455.4 879.0,449.7 879.1,442.5 879.2,455.5 879.4,446.3 879.5,443.7 879.6,458.5 879.8,446.8 879.9,449.9 880.0,448.0 880.1,450.3 880.3,442.8 880.4,444.6 880.5,446.0 880.7,446.9 880.8,456.4 880.9,448.1 881.0,452.3 881.2,458.7 881.3,447.4 881.4,444.7 881.5,447.2 881.7,451.5 881.8,454.6 881.9,450.8 882.0,450.2 882.2,457.2 882.3,449.8 882.4,452.9 882.5,450.6 882.7,458.7 882.8,442.9 882.9,444.2 883.0,458.6 883.2,448.1 883.3,442.6 883.4,455.9 883.5,449.7 883.7,458.9 883.8,454.5 883.9,458.0 884.0,445.7 884.2,457.8 884.3,448.5 884.4,454.5 884.5,442.5 884.6,448.2 884.8,443.8 884.9,458.3 885.0,444.4 885.1,463.6 885.3,455.9 885.4,461.1 885.5,450.1 885.6,466.3 885.7,446.6 885.9,463.5 886.0,447.8 886.1,443.2 886.2,462.7 886.3,442.4 886.5,461.9 886.6,443.2 886.7,454.8 886.8,450.3 886.9,466.4 887.1,449.1 887.2,443.7 887.3,462.3 887.4,464.6 887.5,465.3 887.7,465.6 887.8,466.4 887.9,462.3 888.0,457.3 888.1,465.3 888.3,459.0 888.4,457.9 888.5,457.9 888.6,462.0 888.7,456.9 888.8,463.2 889.0,448.1 889.1,461.7 889.2,453.6 889.3,455.1 889.4,451.1 889.6,458.2 889.7,454.2 889.8,461.6 889.9,450.3 890.0,447.6 890.1,450.1 890.3,456.0 890.4,450.6 890.5,451.3 890.6,458.3 890.7,456.0 890.8,455.2 890.9,457.0 891.1,457.2 891.2,457.9 891.3,455.9 891.4,455.7 891.5,459.0 891.6,459.3 891.8,458.3 891.9,458.3 892.0,457.5 892.1,459.1 892.2,459.4 892.3,459.4 892.4,458.1 892.6,459.7 892.7,458.7 892.8,458.4 892.9,459.1 893.0,458.8 893.1,457.4 893.2,460.3 893.3,460.6 893.5,458.1 893.6,458.8 893.7,458.9 893.8,461.3 893.9,459.8 894.0,462.0 894.1,461.7 894.2,460.1 894.4,460.3 894.5,462.2 894.6,460.8 894.7,459.6 894.8,461.0 894.9,460.6 895.0,464.4 895.1,464.3 895.3,462.2 895.4,463.4 895.5,466.1 895.6,466.0 895.7,457.3 895.8,455.8 895.9,455.6 896.0,454.3 896.1,464.1 896.2,456.2 896.4,455.6 896.5,461.4 896.6,464.7 896.7,459.9 896.8,463.5 896.9,464.4 897.0,464.1 897.1,459.2 897.2,461.5 897.3,460.2 897.4,457.0 897.6,457.8 897.7,466.5 897.8,461.3 897.9,468.4 898.0,466.6 898.1,457.0"/>
</g>
<text x="72.36" y="112.1" font-size="32.6" textLength="38.43" lengthAdjust="spacingAndGlyphs" font-family="Liberation Sans, sans-serif" fill="#000" stroke="#fff" stroke-width="0.65">10</text>
<text x="112.49" y="96.6" font-size="21.2" textLength="27.95" lengthAdjust="spacingAndGlyphs" font-family="Liberation Sans, sans-serif" fill="#000" stroke="#fff" stroke-width="0.12">−2</text>
<text x="72.36" y="239.8" font-size="32.6" textLength="38.43" lengthAdjust="spacingAndGlyphs" font-family="Liberation Sans, sans-serif" fill="#000" stroke="#fff" stroke-width="0.65">10</text>
<text x="112.51" y="224.3" font-size="21.2" textLength="27.33" lengthAdjust="spacingAndGlyphs" font-family="Liberation Sans, sans-serif" fill="#000" stroke="#fff" stroke-width="0.12">−4</text>
<text x="72.36" y="367.4" font-size="32.6" textLength="38.43" lengthAdjust="spacingAndGlyphs" font-family="Liberation Sans, sans-serif" fill="#000" stroke="#fff" stroke-width="0.65">10</text>
<text x="112.50" y="351.9" font-size="21.2" textLength="27.63" lengthAdjust="spacingAndGlyphs" font-family="Liberation Sans, sans-serif" fill="#000" stroke="#fff" stroke-width="0.12">−6</text>
<text x="72.36" y="495.1" font-size="32.6" textLength="38.43" lengthAdjust="spacingAndGlyphs" font-family="Liberation Sans, sans-serif" fill="#000" stroke="#fff" stroke-width="0.65">10</text>
<text x="112.50" y="479.6" font-size="21.2" textLength="27.63" lengthAdjust="spacingAndGlyphs" font-family="Liberation Sans, sans-serif" fill="#000" stroke="#fff" stroke-width="0.12">−8</text>
<text x="59.45" y="610.2" font-size="32.6" textLength="38.65" lengthAdjust="spacingAndGlyphs" font-family="Liberation Sans, sans-serif" fill="#000" stroke="#fff" stroke-width="0.65">10</text>
<text x="99.59" y="594.0" font-size="21.2" textLength="41.38" lengthAdjust="spacingAndGlyphs" font-family="Liberation Sans, sans-serif" fill="#000" stroke="#fff" stroke-width="0.12">−10</text>
<text x="124.41" y="657.1" font-size="32.6" textLength="45.81" lengthAdjust="spacingAndGlyphs" font-family="Liberation Sans, sans-serif" fill="#000" stroke="#fff" stroke-width="0.65">0.1</text>
<text x="376.01" y="657.1" font-size="32.6" textLength="48.94" lengthAdjust="spacingAndGlyphs" font-family="Liberation Sans, sans-serif" fill="#000" stroke="#fff" stroke-width="0.65">1.0</text>
<text x="614.56" y="657.1" font-size="32.6" textLength="69.94" lengthAdjust="spacingAndGlyphs" font-family="Liberation Sans, sans-serif" fill="#000" stroke="#fff" stroke-width="0.65">10.0</text>
<text x="852.94" y="657.1" font-size="32.6" textLength="90.59" lengthAdjust="spacingAndGlyphs" font-family="Liberation Sans, sans-serif" fill="#000" stroke="#fff" stroke-width="0.65">100.0</text>
<text x="375.82" y="23.2" font-size="26.4" textLength="79.62" lengthAdjust="spacingAndGlyphs" font-family="Liberation Sans, sans-serif" fill="#000" stroke="#fff" stroke-width="0.3">SPHE,</text>
<text x="469.29" y="23.2" font-size="26.4" textLength="53.15" lengthAdjust="spacingAndGlyphs" font-family="Liberation Sans, sans-serif" fill="#000" stroke="#fff" stroke-width="0.3">25%</text>
<text x="537.83" y="23.2" font-size="26.4" textLength="134.63" lengthAdjust="spacingAndGlyphs" font-family="Liberation Sans, sans-serif" fill="#000" stroke="#fff" stroke-width="0.3">bandwidth</text>
<text x="265.18" y="697.4" font-size="30.7" textLength="118.90" lengthAdjust="spacingAndGlyphs" font-family="Liberation Sans, sans-serif" fill="#000" stroke="#fff" stroke-width="0.65">Angular</text>
<text x="401.69" y="697.4" font-size="30.7" textLength="168.55" lengthAdjust="spacingAndGlyphs" font-family="Liberation Sans, sans-serif" fill="#000" stroke="#fff" stroke-width="0.65">separation</text>
<text x="586.18" y="697.4" font-size="30.7" textLength="28.66" lengthAdjust="spacingAndGlyphs" font-family="Liberation Sans, sans-serif" fill="#000" stroke="#fff" stroke-width="0.65">in</text>
<text x="631.74" y="697.4" font-size="30.7" textLength="16.66" lengthAdjust="spacingAndGlyphs" font-family="Liberation Sans, sans-serif" fill="#000" stroke="#fff" stroke-width="0.65">λ</text>
<text x="648.00" y="705.2" font-size="19.2" textLength="12.44" lengthAdjust="spacingAndGlyphs" font-family="Liberation Sans, sans-serif" fill="#000" stroke="#fff" stroke-width="0.05">0</text>
<path d="M661.9,704.6L681.2,671.8" stroke="#000" stroke-width="2" fill="none"/>
<text x="683.59" y="697.4" font-size="30.7" textLength="20.26" lengthAdjust="spacingAndGlyphs" font-family="Liberation Sans, sans-serif" fill="#000" stroke="#fff" stroke-width="0.65">D</text>
<text x="721.90" y="697.4" font-size="30.7" textLength="57.56" lengthAdjust="spacingAndGlyphs" font-family="Liberation Sans, sans-serif" fill="#000" stroke="#fff" stroke-width="0.65">unit</text>
<text transform="translate(27.8,501.19) rotate(-90)" font-size="30.7" textLength="178.22" lengthAdjust="spacingAndGlyphs" font-family="Liberation Sans, sans-serif" fill="#000" stroke="#fff" stroke-width="0.65">Normalized</text>
<text transform="translate(27.8,306.34) rotate(-90)" font-size="30.7" textLength="133.88" lengthAdjust="spacingAndGlyphs" font-family="Liberation Sans, sans-serif" fill="#000" stroke="#fff" stroke-width="0.65">Intensity</text>
<path d="M6,150.2H28" stroke="#000" stroke-width="2" fill="none"/>
<g stroke="#000" stroke-width="2.2" fill="none" stroke-linejoin="round" stroke-linecap="round">
<path d="M166.4,313.5V343.7"/>
<path d="M177.2,313.5V343.7H184.5C193.5,343.7 198.3,338 198.3,328.6C198.3,319.2 193.5,313.5 184.5,313.5H177.2"/>
<path d="M202.6,343.7L214,313.5L225.3,343.7M206.6,333.6H221.3"/>
</g>
</g>
</svg>
</body></html>
